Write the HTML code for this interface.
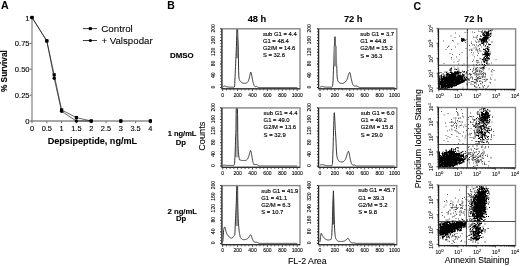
<!DOCTYPE html>
<html><head><meta charset="utf-8"><style>
html,body{margin:0;padding:0;background:#fff;overflow:hidden;}
svg{display:block;font-family:"Liberation Sans", sans-serif;filter:blur(0.3px);}
</style></head><body>
<svg width="520" height="266" viewBox="0 0 520 266">
<rect width="520" height="266" fill="#fff"/>
<text x="0.9" y="9.4" font-size="10.6" font-weight="bold" fill="#000" stroke="#000" stroke-width="0.08">A</text>
<line x1="32" y1="17" x2="32" y2="121.6" stroke="#8a8a8a" stroke-width="1.3"/>
<line x1="31.4" y1="121" x2="151.5" y2="121" stroke="#8a8a8a" stroke-width="1.3"/>
<line x1="29.8" y1="121.0" x2="31.5" y2="121.0" stroke="#333" stroke-width="0.8"/>
<text x="29.6" y="124.1" font-size="7.6" text-anchor="end" fill="#000" stroke="#000" stroke-width="0.12">0</text>
<line x1="29.8" y1="95.125" x2="31.5" y2="95.125" stroke="#333" stroke-width="0.8"/>
<text x="29.6" y="98.225" font-size="7.6" text-anchor="end" fill="#000" stroke="#000" stroke-width="0.12">0.25</text>
<line x1="29.8" y1="69.25" x2="31.5" y2="69.25" stroke="#333" stroke-width="0.8"/>
<text x="29.6" y="72.35" font-size="7.6" text-anchor="end" fill="#000" stroke="#000" stroke-width="0.12">0.50</text>
<line x1="29.8" y1="43.375" x2="31.5" y2="43.375" stroke="#333" stroke-width="0.8"/>
<text x="29.6" y="46.475" font-size="7.6" text-anchor="end" fill="#000" stroke="#000" stroke-width="0.12">0.75</text>
<line x1="29.8" y1="17.5" x2="31.5" y2="17.5" stroke="#333" stroke-width="0.8"/>
<text x="29.6" y="20.6" font-size="7.6" text-anchor="end" fill="#000" stroke="#000" stroke-width="0.12">1</text>
<line x1="32.0" y1="121.6" x2="32.0" y2="123.2" stroke="#333" stroke-width="0.8"/>
<text x="32.0" y="130.7" font-size="7.4" text-anchor="middle" fill="#000" stroke="#000" stroke-width="0.12">0</text>
<line x1="46.8" y1="121.6" x2="46.8" y2="123.2" stroke="#333" stroke-width="0.8"/>
<text x="46.8" y="130.7" font-size="7.4" text-anchor="middle" fill="#000" stroke="#000" stroke-width="0.12">0.5</text>
<line x1="61.6" y1="121.6" x2="61.6" y2="123.2" stroke="#333" stroke-width="0.8"/>
<text x="61.6" y="130.7" font-size="7.4" text-anchor="middle" fill="#000" stroke="#000" stroke-width="0.12">1</text>
<line x1="76.4" y1="121.6" x2="76.4" y2="123.2" stroke="#333" stroke-width="0.8"/>
<text x="76.4" y="130.7" font-size="7.4" text-anchor="middle" fill="#000" stroke="#000" stroke-width="0.12">1.5</text>
<line x1="91.2" y1="121.6" x2="91.2" y2="123.2" stroke="#333" stroke-width="0.8"/>
<text x="91.2" y="130.7" font-size="7.4" text-anchor="middle" fill="#000" stroke="#000" stroke-width="0.12">2</text>
<line x1="106.0" y1="121.6" x2="106.0" y2="123.2" stroke="#333" stroke-width="0.8"/>
<text x="106.0" y="130.7" font-size="7.4" text-anchor="middle" fill="#000" stroke="#000" stroke-width="0.12">2.5</text>
<line x1="120.80000000000001" y1="121.6" x2="120.80000000000001" y2="123.2" stroke="#333" stroke-width="0.8"/>
<text x="120.80000000000001" y="130.7" font-size="7.4" text-anchor="middle" fill="#000" stroke="#000" stroke-width="0.12">3</text>
<line x1="135.60000000000002" y1="121.6" x2="135.60000000000002" y2="123.2" stroke="#333" stroke-width="0.8"/>
<text x="135.60000000000002" y="130.7" font-size="7.4" text-anchor="middle" fill="#000" stroke="#000" stroke-width="0.12">3.5</text>
<line x1="150.4" y1="121.6" x2="150.4" y2="123.2" stroke="#333" stroke-width="0.8"/>
<text x="150.4" y="130.7" font-size="7.4" text-anchor="middle" fill="#000" stroke="#000" stroke-width="0.12">4</text>
<text x="92.4" y="144.4" font-size="9.1" font-weight="bold" text-anchor="middle" fill="#000" stroke="#000" stroke-width="0.08">Depsipeptide, ng/mL</text>
<text x="6.8" y="71.1" font-size="8.3" font-weight="bold" text-anchor="middle" transform="rotate(-90 6.8 71.1)" fill="#000" stroke="#000" stroke-width="0.12">% Survival</text>
<polyline points="32,17.5 46.8,40.89 54.2,74.84 61.6,109.93 76.4,117.58 91.2,121" fill="none" stroke="#000" stroke-width="0.6"/>
<polyline points="32,17.5 46.8,40.89 54.2,78.25 61.6,111.37 76.4,121 91.2,121" fill="none" stroke="#000" stroke-width="0.6"/>
<rect x="30.4" y="15.9" width="3.2" height="3.2" fill="#000"/>
<rect x="45.2" y="39.29" width="3.2" height="3.2" fill="#000"/>
<rect x="52.6" y="73.24" width="3.2" height="3.2" fill="#000"/>
<rect x="60" y="108.33" width="3.2" height="3.2" fill="#000"/>
<rect x="74.8" y="115.98" width="3.2" height="3.2" fill="#000"/>
<rect x="89.6" y="119.4" width="3.2" height="3.2" fill="#000"/>
<rect x="119.2" y="119.4" width="3.2" height="3.2" fill="#000"/>
<rect x="148.8" y="119.4" width="3.2" height="3.2" fill="#000"/>
<circle cx="32" cy="17.5" r="1.7" fill="#000"/>
<circle cx="46.8" cy="40.89" r="1.7" fill="#000"/>
<circle cx="54.2" cy="78.25" r="1.7" fill="#000"/>
<circle cx="61.6" cy="111.37" r="1.7" fill="#000"/>
<circle cx="76.4" cy="121" r="1.7" fill="#000"/>
<circle cx="91.2" cy="121" r="1.7" fill="#000"/>
<circle cx="120.8" cy="121" r="1.7" fill="#000"/>
<circle cx="150.4" cy="121" r="1.7" fill="#000"/>
<line x1="82.9" y1="28.6" x2="97.0" y2="28.6" stroke="#000" stroke-width="0.75"/>
<rect x="88.8" y="27.1" width="3" height="3" fill="#000"/>
<line x1="82.9" y1="40.5" x2="97.0" y2="40.5" stroke="#000" stroke-width="0.75"/>
<circle cx="90.3" cy="40.5" r="1.6" fill="#000"/>
<text x="101.2" y="32.4" font-size="9.8" fill="#000" stroke="#000" stroke-width="0.08">Control</text>
<text x="101.4" y="43.7" font-size="9.7" fill="#000" stroke="#000" stroke-width="0.08">+ Valspodar</text>
<text x="167.3" y="9.4" font-size="10.4" font-weight="bold" fill="#000" stroke="#000" stroke-width="0.08">B</text>
<text x="257" y="21.6" font-size="9.3" font-weight="bold" text-anchor="middle" fill="#000" stroke="#000" stroke-width="0.08">48 h</text>
<text x="353.2" y="21.9" font-size="9.3" font-weight="bold" text-anchor="middle" fill="#000" stroke="#000" stroke-width="0.08">72 h</text>
<text x="181.8" y="57.6" font-size="7.9" font-weight="bold" text-anchor="middle" fill="#000" stroke="#000" stroke-width="0.12">DMSO</text>
<text x="182.05" y="136.4" font-size="7.5" font-weight="bold" text-anchor="middle" fill="#000" stroke="#000" stroke-width="0.12">1 ng/mL</text>
<text x="180.8" y="144.6" font-size="7.7" font-weight="bold" text-anchor="middle" fill="#000" stroke="#000" stroke-width="0.12">Dp</text>
<text x="182.3" y="213.5" font-size="7.7" font-weight="bold" text-anchor="middle" fill="#000" stroke="#000" stroke-width="0.12">2 ng/mL</text>
<text x="181.2" y="221.2" font-size="7.7" font-weight="bold" text-anchor="middle" fill="#000" stroke="#000" stroke-width="0.12">Dp</text>
<text x="205.1" y="136.2" font-size="9.2" text-anchor="middle" transform="rotate(-90 205.1 136.2)" fill="#000" stroke="#000" stroke-width="0.08">Counts</text>
<text x="307.3" y="264" font-size="8.8" text-anchor="middle" fill="#000" stroke="#000" stroke-width="0.08">FL-2 Area</text>
<text x="212.7" y="87" font-size="5" text-anchor="middle" transform="rotate(-90 212.7 87)" fill="#000" stroke="#000" stroke-width="0.1" dominant-baseline="central">0</text>
<line x1="220.1" y1="87.5" x2="221.9" y2="87.5" stroke="#000" stroke-width="0.6"/>
<text x="212.7" y="75.26" font-size="5" text-anchor="middle" transform="rotate(-90 212.7 75.26)" fill="#000" stroke="#000" stroke-width="0.1" dominant-baseline="central">40</text>
<line x1="220.1" y1="75.76" x2="221.9" y2="75.76" stroke="#000" stroke-width="0.6"/>
<text x="212.7" y="63.52" font-size="5" text-anchor="middle" transform="rotate(-90 212.7 63.52)" fill="#000" stroke="#000" stroke-width="0.1" dominant-baseline="central">80</text>
<line x1="220.1" y1="64.02" x2="221.9" y2="64.02" stroke="#000" stroke-width="0.6"/>
<text x="212.7" y="51.78" font-size="5" text-anchor="middle" transform="rotate(-90 212.7 51.78)" fill="#000" stroke="#000" stroke-width="0.1" dominant-baseline="central">120</text>
<line x1="220.1" y1="52.28" x2="221.9" y2="52.28" stroke="#000" stroke-width="0.6"/>
<text x="212.7" y="40.04" font-size="5" text-anchor="middle" transform="rotate(-90 212.7 40.04)" fill="#000" stroke="#000" stroke-width="0.1" dominant-baseline="central">160</text>
<line x1="220.1" y1="40.54" x2="221.9" y2="40.54" stroke="#000" stroke-width="0.6"/>
<text x="212.7" y="28.3" font-size="5" text-anchor="middle" transform="rotate(-90 212.7 28.3)" fill="#000" stroke="#000" stroke-width="0.1" dominant-baseline="central">200</text>
<line x1="220.1" y1="28.799999999999997" x2="221.9" y2="28.799999999999997" stroke="#000" stroke-width="0.6"/>
<line x1="220.3" y1="87.5" x2="221.9" y2="87.5" stroke="#000" stroke-width="0.7"/>
<line x1="220.3" y1="84.565" x2="221.9" y2="84.565" stroke="#000" stroke-width="0.7"/>
<line x1="220.3" y1="81.63" x2="221.9" y2="81.63" stroke="#000" stroke-width="0.7"/>
<line x1="220.3" y1="78.695" x2="221.9" y2="78.695" stroke="#000" stroke-width="0.7"/>
<line x1="220.3" y1="75.76" x2="221.9" y2="75.76" stroke="#000" stroke-width="0.7"/>
<line x1="220.3" y1="72.825" x2="221.9" y2="72.825" stroke="#000" stroke-width="0.7"/>
<line x1="220.3" y1="69.89" x2="221.9" y2="69.89" stroke="#000" stroke-width="0.7"/>
<line x1="220.3" y1="66.955" x2="221.9" y2="66.955" stroke="#000" stroke-width="0.7"/>
<line x1="220.3" y1="64.02" x2="221.9" y2="64.02" stroke="#000" stroke-width="0.7"/>
<line x1="220.3" y1="61.085" x2="221.9" y2="61.085" stroke="#000" stroke-width="0.7"/>
<line x1="220.3" y1="58.15" x2="221.9" y2="58.15" stroke="#000" stroke-width="0.7"/>
<line x1="220.3" y1="55.215" x2="221.9" y2="55.215" stroke="#000" stroke-width="0.7"/>
<line x1="220.3" y1="52.28" x2="221.9" y2="52.28" stroke="#000" stroke-width="0.7"/>
<line x1="220.3" y1="49.345" x2="221.9" y2="49.345" stroke="#000" stroke-width="0.7"/>
<line x1="220.3" y1="46.41" x2="221.9" y2="46.41" stroke="#000" stroke-width="0.7"/>
<line x1="220.3" y1="43.475" x2="221.9" y2="43.475" stroke="#000" stroke-width="0.7"/>
<line x1="220.3" y1="40.54" x2="221.9" y2="40.54" stroke="#000" stroke-width="0.7"/>
<line x1="220.3" y1="37.605" x2="221.9" y2="37.605" stroke="#000" stroke-width="0.7"/>
<line x1="220.3" y1="34.67" x2="221.9" y2="34.67" stroke="#000" stroke-width="0.7"/>
<line x1="220.3" y1="31.735" x2="221.9" y2="31.735" stroke="#000" stroke-width="0.7"/>
<line x1="220.3" y1="28.799999999999997" x2="221.9" y2="28.799999999999997" stroke="#000" stroke-width="0.7"/>
<text x="222.7" y="96.5" font-size="5" text-anchor="middle" fill="#000" stroke="#000" stroke-width="0.1">0</text>
<text x="237.6" y="96.5" font-size="5" text-anchor="middle" fill="#000" stroke="#000" stroke-width="0.1">200</text>
<text x="252.5" y="96.5" font-size="5" text-anchor="middle" fill="#000" stroke="#000" stroke-width="0.1">400</text>
<text x="267.4" y="96.5" font-size="5" text-anchor="middle" fill="#000" stroke="#000" stroke-width="0.1">600</text>
<text x="282.3" y="96.5" font-size="5" text-anchor="middle" fill="#000" stroke="#000" stroke-width="0.1">800</text>
<text x="297.2" y="96.5" font-size="5" text-anchor="middle" fill="#000" stroke="#000" stroke-width="0.1">1000</text>
<line x1="222.7" y1="88.8" x2="222.7" y2="91.0" stroke="#000" stroke-width="0.7"/>
<line x1="226.42499999999998" y1="88.8" x2="226.42499999999998" y2="90.39999999999999" stroke="#000" stroke-width="0.7"/>
<line x1="230.14999999999998" y1="88.8" x2="230.14999999999998" y2="90.39999999999999" stroke="#000" stroke-width="0.7"/>
<line x1="233.875" y1="88.8" x2="233.875" y2="90.39999999999999" stroke="#000" stroke-width="0.7"/>
<line x1="237.6" y1="88.8" x2="237.6" y2="91.0" stroke="#000" stroke-width="0.7"/>
<line x1="241.325" y1="88.8" x2="241.325" y2="90.39999999999999" stroke="#000" stroke-width="0.7"/>
<line x1="245.04999999999998" y1="88.8" x2="245.04999999999998" y2="90.39999999999999" stroke="#000" stroke-width="0.7"/>
<line x1="248.77499999999998" y1="88.8" x2="248.77499999999998" y2="90.39999999999999" stroke="#000" stroke-width="0.7"/>
<line x1="252.5" y1="88.8" x2="252.5" y2="91.0" stroke="#000" stroke-width="0.7"/>
<line x1="256.22499999999997" y1="88.8" x2="256.22499999999997" y2="90.39999999999999" stroke="#000" stroke-width="0.7"/>
<line x1="259.95" y1="88.8" x2="259.95" y2="90.39999999999999" stroke="#000" stroke-width="0.7"/>
<line x1="263.675" y1="88.8" x2="263.675" y2="90.39999999999999" stroke="#000" stroke-width="0.7"/>
<line x1="267.4" y1="88.8" x2="267.4" y2="91.0" stroke="#000" stroke-width="0.7"/>
<line x1="271.125" y1="88.8" x2="271.125" y2="90.39999999999999" stroke="#000" stroke-width="0.7"/>
<line x1="274.84999999999997" y1="88.8" x2="274.84999999999997" y2="90.39999999999999" stroke="#000" stroke-width="0.7"/>
<line x1="278.575" y1="88.8" x2="278.575" y2="90.39999999999999" stroke="#000" stroke-width="0.7"/>
<line x1="282.29999999999995" y1="88.8" x2="282.29999999999995" y2="91.0" stroke="#000" stroke-width="0.7"/>
<line x1="286.025" y1="88.8" x2="286.025" y2="90.39999999999999" stroke="#000" stroke-width="0.7"/>
<line x1="289.75" y1="88.8" x2="289.75" y2="90.39999999999999" stroke="#000" stroke-width="0.7"/>
<line x1="293.47499999999997" y1="88.8" x2="293.47499999999997" y2="90.39999999999999" stroke="#000" stroke-width="0.7"/>
<line x1="297.2" y1="88.8" x2="297.2" y2="91.0" stroke="#000" stroke-width="0.7"/>
<polygon points="235.92,57.31 235.96,56.47 236,55.63 236.04,54.8 236.07,53.96 236.11,53.12 236.15,52.28 236.18,51.44 236.22,50.6 236.26,49.76 236.3,48.93 236.33,48.09 236.37,47.25 236.41,46.41 236.45,44.94 236.48,43.48 236.52,42.01 236.56,40.54 236.59,39.07 236.63,37.6 236.67,37.6 236.71,37.6 236.74,37.6 236.78,37.6 236.82,37.6 236.85,37.6 236.89,37.6 236.93,37.6 236.97,37.6 237,37.6 237.04,37.6 237.08,37.6 237.12,37.6 237.15,37.6 237.19,37.6 237.23,37.6 237.26,37.6 237.3,37.6 237.34,37.6 237.38,37.6 237.41,37.6 237.45,37.6 237.49,37.6 237.53,37.6 237.56,37.6 237.6,37.6 237.64,37.6 237.67,37.6 237.71,37.6 237.75,37.6 237.79,37.6 237.82,37.6 237.86,37.6 237.9,38.19 237.94,39.37 237.97,40.54 238.01,41.27 238.05,42.01 238.08,42.74 238.12,43.48 238.16,44.21 238.2,44.94 238.23,45.68 238.27,46.41 238.31,49.34 238.34,52.28 238.38,55.22 238.38,58.15 235.92,58.15" fill="#999"/>
<polyline points="222.7,87.21 222.85,87.03 223,86.85 223.15,86.68 223.3,86.5 223.44,86.33 223.59,86.3 223.74,86.27 223.89,86.24 224.04,86.21 224.19,86.18 224.34,86.15 224.49,86.12 224.64,86.09 224.79,86.06 224.94,86.03 225.08,86.09 225.23,86.15 225.38,86.21 225.53,86.27 225.68,86.33 225.83,86.38 225.98,86.44 226.13,86.5 226.28,86.56 226.42,86.62 226.57,86.68 226.72,86.74 226.87,86.8 227.02,86.85 227.17,86.91 227.32,86.93 227.47,86.94 227.62,86.96 227.77,86.97 227.91,86.99 228.06,87 228.21,87.02 228.36,87.03 228.51,87.05 228.66,87.06 228.81,87.07 228.96,87.09 229.11,87.1 229.26,87.12 229.41,87.13 229.55,87.15 229.7,87.16 229.85,87.18 230,87.19 230.15,87.21 230.3,87.21 230.45,87.21 230.6,87.21 230.75,87.21 230.89,87.21 231.04,87.21 231.19,87.21 231.34,87.21 231.49,87.21 231.64,87.21 231.79,87.21 231.94,87.21 232.09,87.21 232.24,87.21 232.38,87.21 232.53,87.21 232.68,87.21 232.83,87.21 232.98,87.21 233.13,87.21 233.28,87.21 233.43,87.21 233.58,87.21 233.73,87.21 233.88,87.21 234.02,87.13 234.17,87.06 234.32,86.99 234.47,86.91 234.62,85.74 234.77,83.46 234.92,80.06 235.07,76.67 235.22,73.28 235.36,69.89 235.51,66.54 235.66,63.18 235.81,59.83 235.96,56.47 236.11,53.12 236.26,49.76 236.41,46.41 236.56,40.54 236.71,34.67 236.85,29.1 237,29.1 237.15,29.1 237.3,29.1 237.45,29.1 237.6,29.1 237.75,33.5 237.9,38.19 238.05,42.01 238.2,44.94 238.34,52.28 238.49,64.02 238.64,70.87 238.79,75.17 238.94,76.93 239.09,78.69 239.24,79.14 239.39,79.58 239.54,80.02 239.69,80.46 239.83,80.65 239.98,80.85 240.13,81.04 240.28,81.24 240.43,81.43 240.58,81.63 240.73,81.74 240.88,81.85 241.03,81.96 241.18,82.07 241.32,82.18 241.47,82.29 241.62,82.4 241.77,82.51 241.92,82.59 242.07,82.68 242.22,82.76 242.37,82.85 242.52,82.93 242.67,83.01 242.81,83.1 242.96,83.12 243.11,83.14 243.26,83.16 243.41,83.18 243.56,83.2 243.71,83.22 243.86,83.24 244.01,83.26 244.16,83.28 244.3,83.3 244.45,83.32 244.6,83.34 244.75,83.36 244.9,83.38 245.05,83.38 245.2,83.35 245.35,83.32 245.5,83.29 245.65,83.27 245.79,83.24 245.94,83.21 246.09,83.18 246.24,83.15 246.39,83.13 246.54,83.1 246.69,82.95 246.84,82.8 246.99,82.66 247.14,82.51 247.28,82.36 247.43,82.22 247.58,82.07 247.73,81.92 247.88,81.78 248.03,81.63 248.18,81.24 248.33,80.85 248.48,80.46 248.63,80.06 248.77,79.67 248.92,79.28 249.07,78.89 249.22,78.34 249.37,77.64 249.52,76.93 249.67,76.23 249.82,75.53 249.97,74.84 250.12,74.17 250.26,73.5 250.41,72.83 250.56,72.47 250.71,72.12 250.86,72.09 251.01,72.38 251.16,72.68 251.31,73.22 251.46,74 251.61,74.78 251.75,75.56 251.9,76.35 252.05,77.16 252.2,77.97 252.35,78.79 252.5,79.6 252.65,80.41 252.8,81.22 252.95,81.86 253.1,82.33 253.24,82.8 253.39,83.27 253.54,83.74 253.69,84.21 253.84,84.68 253.99,85.15 254.14,85.33 254.29,85.5 254.44,85.68 254.59,85.86 254.73,86.03 254.88,86.21 255.03,86.38 255.18,86.56 255.33,86.74 255.48,86.91 255.63,86.82 255.78,86.72 255.93,86.62 256.08,86.52 256.22,86.42 256.37,86.33 256.52,86.38 256.67,86.44 256.82,86.5 256.97,86.56 257.12,86.62 257.27,86.75 257.42,86.89 257.57,87.03 257.71,87.16 257.86,87.3 258.01,87.43 258.16,87.5 258.31,87.5 258.46,87.5 258.61,87.5 258.76,87.5 258.91,87.5 259.06,87.5 259.2,87.5 259.35,87.5 259.5,87.5 259.65,87.5 259.8,87.5 259.95,87.5 260.1,87.5 260.25,87.5 260.4,87.5 260.55,87.5 260.69,87.5 260.84,87.5 260.99,87.5 261.14,87.5 261.29,87.5 261.44,87.5 261.59,87.5 261.74,87.5 261.89,87.5 262.04,87.5 262.19,87.5 262.33,87.5 262.48,87.5 262.63,87.5 262.78,87.5 262.93,87.5 263.08,87.5 263.23,87.5 263.38,87.5 263.53,87.5 263.68,87.5 263.82,87.5 263.97,87.5 264.12,87.5 264.27,87.5 264.42,87.5 264.57,87.5 264.72,87.5 264.87,87.5 265.02,87.5 265.16,87.5 265.31,87.5 265.46,87.5 265.61,87.5 265.76,87.5 265.91,87.5 266.06,87.5 266.21,87.5 266.36,87.5 266.51,87.5 266.65,87.5 266.8,87.5 266.95,87.5 267.1,87.5 267.25,87.5 267.4,87.5 267.55,87.5 267.7,87.5 267.85,87.5 268,87.5 268.14,87.5 268.29,87.5 268.44,87.5 268.59,87.5 268.74,87.5 268.89,87.5 269.04,87.5 269.19,87.5 269.34,87.5 269.49,87.5 269.63,87.5 269.78,87.5 269.93,87.5 270.08,87.5 270.23,87.5 270.38,87.5 270.53,87.5 270.68,87.5 270.83,87.5 270.98,87.5 271.12,87.5 271.27,87.5 271.42,87.5 271.57,87.5 271.72,87.5 271.87,87.5 272.02,87.5 272.17,87.5 272.32,87.5 272.47,87.5 272.62,87.5 272.76,87.5 272.91,87.5 273.06,87.5 273.21,87.5 273.36,87.5 273.51,87.5 273.66,87.5 273.81,87.5 273.96,87.5 274.11,87.5 274.25,87.5 274.4,87.5 274.55,87.5 274.7,87.5 274.85,87.5 275,87.5 275.15,87.5 275.3,87.5 275.45,87.5 275.59,87.5 275.74,87.5 275.89,87.5 276.04,87.5 276.19,87.5 276.34,87.5 276.49,87.5 276.64,87.5 276.79,87.5 276.94,87.5 277.08,87.5 277.23,87.5 277.38,87.5 277.53,87.5 277.68,87.5 277.83,87.5 277.98,87.5 278.13,87.5 278.28,87.5 278.43,87.5 278.57,87.5 278.72,87.5 278.87,87.5 279.02,87.5 279.17,87.5 279.32,87.5 279.47,87.5 279.62,87.5 279.77,87.5 279.92,87.5 280.06,87.5 280.21,87.5 280.36,87.5 280.51,87.5 280.66,87.5 280.81,87.5 280.96,87.5 281.11,87.5 281.26,87.5 281.41,87.5 281.56,87.5 281.7,87.5 281.85,87.5 282,87.5 282.15,87.5 282.3,87.5 282.45,87.5 282.6,87.5 282.75,87.5 282.9,87.5 283.04,87.5 283.19,87.5 283.34,87.5 283.49,87.5 283.64,87.5 283.79,87.5 283.94,87.5 284.09,87.5 284.24,87.5 284.39,87.5 284.53,87.5 284.68,87.5 284.83,87.5 284.98,87.5 285.13,87.5 285.28,87.5 285.43,87.5 285.58,87.5 285.73,87.5 285.88,87.5 286.02,87.5 286.17,87.5 286.32,87.5 286.47,87.5 286.62,87.5 286.77,87.5 286.92,87.5 287.07,87.5 287.22,87.5 287.37,87.5 287.51,87.5 287.66,87.5 287.81,87.5 287.96,87.5 288.11,87.5 288.26,87.5 288.41,87.5 288.56,87.5 288.71,87.5 288.86,87.5 289,87.5 289.15,87.5 289.3,87.5 289.45,87.5 289.6,87.5 289.75,87.5 289.9,87.5 290.05,87.5 290.2,87.5 290.35,87.5 290.5,87.5 290.64,87.5 290.79,87.5 290.94,87.5 291.09,87.5 291.24,87.5 291.39,87.5 291.54,87.5 291.69,87.5 291.84,87.5 291.99,87.5 292.13,87.5 292.28,87.5 292.43,87.5 292.58,87.5 292.73,87.5 292.88,87.5 293.03,87.5 293.18,87.5 293.33,87.5 293.47,87.5 293.62,87.5 293.77,87.5 293.92,87.5 294.07,87.5 294.22,87.5 294.37,87.5 294.52,87.5 294.67,87.5 294.82,87.5 294.96,87.5 295.11,87.5 295.26,87.5 295.41,87.5 295.56,87.5 295.71,87.5 295.86,87.5 296.01,87.5 296.16,87.5 296.31,87.5 296.45,87.5 296.6,87.5 296.75,87.5 296.9,87.5 297.05,87.5 297.2,87.5" fill="none" stroke="#2a2a2a" stroke-width="0.95" stroke-linejoin="round"/>
<rect x="221.9" y="28.8" width="78.1" height="60" fill="none" stroke="#888" stroke-width="1.4"/>
<line x1="221.9" y1="28.8" x2="221.9" y2="88.8" stroke="#111" stroke-width="0.9"/>
<line x1="221.9" y1="88.8" x2="300.0" y2="88.8" stroke="#111" stroke-width="0.9"/>
<text transform="translate(262.9 35.7) scale(0.95 1)" font-size="6.2" fill="#000" stroke="#000" stroke-width="0.16">sub G1 = 4.4</text>
<text transform="translate(262.9 42.8) scale(0.95 1)" font-size="6.2" fill="#000" stroke="#000" stroke-width="0.16">G1 = 48.4</text>
<text transform="translate(262.9 49.9) scale(0.95 1)" font-size="6.2" fill="#000" stroke="#000" stroke-width="0.16">G2/M = 14.6</text>
<text transform="translate(262.9 57) scale(0.95 1)" font-size="6.2" fill="#000" stroke="#000" stroke-width="0.16">S = 32.6</text>
<text x="309.4" y="87" font-size="5" text-anchor="middle" transform="rotate(-90 309.4 87)" fill="#000" stroke="#000" stroke-width="0.1" dominant-baseline="central">0</text>
<line x1="316.8" y1="87.5" x2="318.6" y2="87.5" stroke="#000" stroke-width="0.6"/>
<text x="309.4" y="75.26" font-size="5" text-anchor="middle" transform="rotate(-90 309.4 75.26)" fill="#000" stroke="#000" stroke-width="0.1" dominant-baseline="central">40</text>
<line x1="316.8" y1="75.76" x2="318.6" y2="75.76" stroke="#000" stroke-width="0.6"/>
<text x="309.4" y="63.52" font-size="5" text-anchor="middle" transform="rotate(-90 309.4 63.52)" fill="#000" stroke="#000" stroke-width="0.1" dominant-baseline="central">80</text>
<line x1="316.8" y1="64.02" x2="318.6" y2="64.02" stroke="#000" stroke-width="0.6"/>
<text x="309.4" y="51.78" font-size="5" text-anchor="middle" transform="rotate(-90 309.4 51.78)" fill="#000" stroke="#000" stroke-width="0.1" dominant-baseline="central">120</text>
<line x1="316.8" y1="52.28" x2="318.6" y2="52.28" stroke="#000" stroke-width="0.6"/>
<text x="309.4" y="40.04" font-size="5" text-anchor="middle" transform="rotate(-90 309.4 40.04)" fill="#000" stroke="#000" stroke-width="0.1" dominant-baseline="central">160</text>
<line x1="316.8" y1="40.54" x2="318.6" y2="40.54" stroke="#000" stroke-width="0.6"/>
<text x="309.4" y="28.3" font-size="5" text-anchor="middle" transform="rotate(-90 309.4 28.3)" fill="#000" stroke="#000" stroke-width="0.1" dominant-baseline="central">200</text>
<line x1="316.8" y1="28.799999999999997" x2="318.6" y2="28.799999999999997" stroke="#000" stroke-width="0.6"/>
<line x1="317.0" y1="87.5" x2="318.6" y2="87.5" stroke="#000" stroke-width="0.7"/>
<line x1="317.0" y1="84.565" x2="318.6" y2="84.565" stroke="#000" stroke-width="0.7"/>
<line x1="317.0" y1="81.63" x2="318.6" y2="81.63" stroke="#000" stroke-width="0.7"/>
<line x1="317.0" y1="78.695" x2="318.6" y2="78.695" stroke="#000" stroke-width="0.7"/>
<line x1="317.0" y1="75.76" x2="318.6" y2="75.76" stroke="#000" stroke-width="0.7"/>
<line x1="317.0" y1="72.825" x2="318.6" y2="72.825" stroke="#000" stroke-width="0.7"/>
<line x1="317.0" y1="69.89" x2="318.6" y2="69.89" stroke="#000" stroke-width="0.7"/>
<line x1="317.0" y1="66.955" x2="318.6" y2="66.955" stroke="#000" stroke-width="0.7"/>
<line x1="317.0" y1="64.02" x2="318.6" y2="64.02" stroke="#000" stroke-width="0.7"/>
<line x1="317.0" y1="61.085" x2="318.6" y2="61.085" stroke="#000" stroke-width="0.7"/>
<line x1="317.0" y1="58.15" x2="318.6" y2="58.15" stroke="#000" stroke-width="0.7"/>
<line x1="317.0" y1="55.215" x2="318.6" y2="55.215" stroke="#000" stroke-width="0.7"/>
<line x1="317.0" y1="52.28" x2="318.6" y2="52.28" stroke="#000" stroke-width="0.7"/>
<line x1="317.0" y1="49.345" x2="318.6" y2="49.345" stroke="#000" stroke-width="0.7"/>
<line x1="317.0" y1="46.41" x2="318.6" y2="46.41" stroke="#000" stroke-width="0.7"/>
<line x1="317.0" y1="43.475" x2="318.6" y2="43.475" stroke="#000" stroke-width="0.7"/>
<line x1="317.0" y1="40.54" x2="318.6" y2="40.54" stroke="#000" stroke-width="0.7"/>
<line x1="317.0" y1="37.605" x2="318.6" y2="37.605" stroke="#000" stroke-width="0.7"/>
<line x1="317.0" y1="34.67" x2="318.6" y2="34.67" stroke="#000" stroke-width="0.7"/>
<line x1="317.0" y1="31.735" x2="318.6" y2="31.735" stroke="#000" stroke-width="0.7"/>
<line x1="317.0" y1="28.799999999999997" x2="318.6" y2="28.799999999999997" stroke="#000" stroke-width="0.7"/>
<text x="320" y="96.5" font-size="5" text-anchor="middle" fill="#000" stroke="#000" stroke-width="0.1">0</text>
<text x="334.9" y="96.5" font-size="5" text-anchor="middle" fill="#000" stroke="#000" stroke-width="0.1">200</text>
<text x="349.8" y="96.5" font-size="5" text-anchor="middle" fill="#000" stroke="#000" stroke-width="0.1">400</text>
<text x="364.7" y="96.5" font-size="5" text-anchor="middle" fill="#000" stroke="#000" stroke-width="0.1">600</text>
<text x="379.6" y="96.5" font-size="5" text-anchor="middle" fill="#000" stroke="#000" stroke-width="0.1">800</text>
<text x="394.5" y="96.5" font-size="5" text-anchor="middle" fill="#000" stroke="#000" stroke-width="0.1">1000</text>
<line x1="320.0" y1="88.8" x2="320.0" y2="91.0" stroke="#000" stroke-width="0.7"/>
<line x1="323.725" y1="88.8" x2="323.725" y2="90.39999999999999" stroke="#000" stroke-width="0.7"/>
<line x1="327.45" y1="88.8" x2="327.45" y2="90.39999999999999" stroke="#000" stroke-width="0.7"/>
<line x1="331.175" y1="88.8" x2="331.175" y2="90.39999999999999" stroke="#000" stroke-width="0.7"/>
<line x1="334.9" y1="88.8" x2="334.9" y2="91.0" stroke="#000" stroke-width="0.7"/>
<line x1="338.625" y1="88.8" x2="338.625" y2="90.39999999999999" stroke="#000" stroke-width="0.7"/>
<line x1="342.35" y1="88.8" x2="342.35" y2="90.39999999999999" stroke="#000" stroke-width="0.7"/>
<line x1="346.075" y1="88.8" x2="346.075" y2="90.39999999999999" stroke="#000" stroke-width="0.7"/>
<line x1="349.8" y1="88.8" x2="349.8" y2="91.0" stroke="#000" stroke-width="0.7"/>
<line x1="353.525" y1="88.8" x2="353.525" y2="90.39999999999999" stroke="#000" stroke-width="0.7"/>
<line x1="357.25" y1="88.8" x2="357.25" y2="90.39999999999999" stroke="#000" stroke-width="0.7"/>
<line x1="360.975" y1="88.8" x2="360.975" y2="90.39999999999999" stroke="#000" stroke-width="0.7"/>
<line x1="364.7" y1="88.8" x2="364.7" y2="91.0" stroke="#000" stroke-width="0.7"/>
<line x1="368.425" y1="88.8" x2="368.425" y2="90.39999999999999" stroke="#000" stroke-width="0.7"/>
<line x1="372.15" y1="88.8" x2="372.15" y2="90.39999999999999" stroke="#000" stroke-width="0.7"/>
<line x1="375.875" y1="88.8" x2="375.875" y2="90.39999999999999" stroke="#000" stroke-width="0.7"/>
<line x1="379.6" y1="88.8" x2="379.6" y2="91.0" stroke="#000" stroke-width="0.7"/>
<line x1="383.325" y1="88.8" x2="383.325" y2="90.39999999999999" stroke="#000" stroke-width="0.7"/>
<line x1="387.05" y1="88.8" x2="387.05" y2="90.39999999999999" stroke="#000" stroke-width="0.7"/>
<line x1="390.775" y1="88.8" x2="390.775" y2="90.39999999999999" stroke="#000" stroke-width="0.7"/>
<line x1="394.5" y1="88.8" x2="394.5" y2="91.0" stroke="#000" stroke-width="0.7"/>
<polyline points="320,87.21 320.15,87.13 320.3,87.05 320.45,86.97 320.6,86.89 320.75,86.82 320.89,86.74 321.04,86.66 321.19,86.6 321.34,86.58 321.49,86.55 321.64,86.52 321.79,86.49 321.94,86.46 322.09,86.43 322.24,86.4 322.38,86.37 322.53,86.34 322.68,86.36 322.83,86.41 322.98,86.47 323.13,86.53 323.28,86.59 323.43,86.65 323.58,86.71 323.73,86.77 323.87,86.82 324.02,86.88 324.17,86.92 324.32,86.95 324.47,86.97 324.62,87 324.77,87.02 324.92,87.04 325.07,87.07 325.21,87.09 325.36,87.11 325.51,87.14 325.66,87.16 325.81,87.18 325.96,87.21 326.11,87.21 326.26,87.21 326.41,87.21 326.56,87.21 326.7,87.21 326.85,87.21 327,87.21 327.15,87.21 327.3,87.21 327.45,87.21 327.6,87.21 327.75,87.21 327.9,87.21 328.05,87.21 328.19,87.21 328.34,87.21 328.49,87.21 328.64,87.21 328.79,87.21 328.94,87.21 329.09,87.21 329.24,87.21 329.39,87.21 329.54,87.21 329.69,87.21 329.83,87.21 329.98,87.21 330.13,87.21 330.28,87.21 330.43,87.21 330.58,87.21 330.73,87.21 330.88,87.21 331.03,87.21 331.18,87.21 331.32,87.21 331.47,87.21 331.62,87.21 331.77,87.21 331.92,87.21 332.07,87.01 332.22,86.82 332.37,86.62 332.52,86.42 332.67,85.45 332.81,83.68 332.96,81.92 333.11,80.16 333.26,75.47 333.41,70.77 333.56,66.07 333.71,63.45 333.86,60.83 334.01,58.21 334.15,55.59 334.3,52.96 334.45,50.34 334.6,47.72 334.75,41.57 334.9,36.72 335.05,36.72 335.2,46.41 335.35,48.28 335.5,50.16 335.64,52.03 335.79,53.9 335.94,55.77 336.09,57.65 336.24,59.52 336.39,61.39 336.54,63.27 336.69,65.14 336.84,68.81 336.99,74.29 337.13,76.05 337.28,77.81 337.43,79.03 337.58,79.7 337.73,80.37 337.88,81.04 338.03,81.24 338.18,81.43 338.33,81.63 338.48,81.83 338.62,82.02 338.77,82.22 338.92,82.41 339.07,82.56 339.22,82.65 339.37,82.74 339.52,82.83 339.67,82.92 339.82,83.01 339.97,83.1 340.12,83.14 340.26,83.18 340.41,83.22 340.56,83.27 340.71,83.31 340.86,83.35 341.01,83.39 341.16,83.39 341.31,83.39 341.46,83.39 341.61,83.39 341.75,83.39 341.9,83.39 342.05,83.39 342.2,83.39 342.35,83.39 342.5,83.36 342.65,83.33 342.8,83.3 342.95,83.27 343.1,83.24 343.24,83.21 343.39,83.19 343.54,83.16 343.69,83.13 343.84,83.1 343.99,82.98 344.14,82.86 344.29,82.75 344.44,82.63 344.58,82.51 344.73,82.39 344.88,82.28 345.03,82.16 345.18,82.04 345.33,81.92 345.48,81.81 345.63,81.69 345.78,81.51 345.93,81.28 346.07,81.04 346.22,80.81 346.37,80.57 346.52,80.34 346.67,80.1 346.82,79.87 346.97,79.63 347.12,79.4 347.27,79.01 347.42,78.46 347.56,77.91 347.71,77.36 347.86,76.82 348.01,76.27 348.16,75.72 348.31,75.17 348.46,74.78 348.61,74.39 348.76,74 348.91,73.61 349.06,73.22 349.2,72.83 349.35,72.66 349.5,72.49 349.65,72.32 349.8,72.41 349.95,72.74 350.1,73.08 350.25,73.41 350.4,74.26 350.55,75.11 350.69,75.96 350.84,76.8 350.99,77.57 351.14,78.24 351.29,78.92 351.44,79.6 351.59,80.28 351.74,80.95 351.89,81.63 352.03,82.12 352.18,82.61 352.33,83.1 352.48,83.59 352.63,84.08 352.78,84.56 352.93,84.74 353.08,84.92 353.23,85.09 353.38,85.27 353.52,85.45 353.67,85.56 353.82,85.68 353.97,85.8 354.12,85.92 354.27,86.03 354.42,86.03 354.57,86.03 354.72,86.03 354.87,86.03 355.01,86.03 355.16,86.03 355.31,86.03 355.46,86.03 355.61,86.03 355.76,86.03 355.91,86.03 356.06,86.03 356.21,86.03 356.36,86.03 356.5,86.03 356.65,86.03 356.8,86.03 356.95,86.07 357.1,86.15 357.25,86.23 357.4,86.31 357.55,86.38 357.7,86.46 357.85,86.54 358,86.62 358.14,86.71 358.29,86.8 358.44,86.88 358.59,86.97 358.74,87.06 358.89,87.15 359.04,87.24 359.19,87.32 359.34,87.41 359.49,87.5 359.63,87.5 359.78,87.5 359.93,87.5 360.08,87.5 360.23,87.5 360.38,87.5 360.53,87.5 360.68,87.5 360.83,87.5 360.98,87.5 361.12,87.5 361.27,87.5 361.42,87.5 361.57,87.5 361.72,87.5 361.87,87.5 362.02,87.5 362.17,87.5 362.32,87.5 362.46,87.5 362.61,87.5 362.76,87.5 362.91,87.5 363.06,87.5 363.21,87.5 363.36,87.5 363.51,87.5 363.66,87.5 363.81,87.5 363.95,87.5 364.1,87.5 364.25,87.5 364.4,87.5 364.55,87.5 364.7,87.5 364.85,87.5 365,87.5 365.15,87.5 365.3,87.5 365.44,87.5 365.59,87.5 365.74,87.5 365.89,87.5 366.04,87.5 366.19,87.5 366.34,87.5 366.49,87.5 366.64,87.5 366.79,87.5 366.94,87.5 367.08,87.5 367.23,87.5 367.38,87.5 367.53,87.5 367.68,87.5 367.83,87.5 367.98,87.5 368.13,87.5 368.28,87.5 368.43,87.5 368.57,87.5 368.72,87.5 368.87,87.5 369.02,87.5 369.17,87.5 369.32,87.5 369.47,87.5 369.62,87.5 369.77,87.5 369.92,87.5 370.06,87.5 370.21,87.5 370.36,87.5 370.51,87.5 370.66,87.5 370.81,87.5 370.96,87.5 371.11,87.5 371.26,87.5 371.4,87.5 371.55,87.5 371.7,87.5 371.85,87.5 372,87.5 372.15,87.5 372.3,87.5 372.45,87.5 372.6,87.5 372.75,87.5 372.89,87.5 373.04,87.5 373.19,87.5 373.34,87.5 373.49,87.5 373.64,87.5 373.79,87.5 373.94,87.5 374.09,87.5 374.24,87.5 374.38,87.5 374.53,87.5 374.68,87.5 374.83,87.5 374.98,87.5 375.13,87.5 375.28,87.5 375.43,87.5 375.58,87.5 375.73,87.5 375.88,87.5 376.02,87.5 376.17,87.5 376.32,87.5 376.47,87.5 376.62,87.5 376.77,87.5 376.92,87.5 377.07,87.5 377.22,87.5 377.37,87.5 377.51,87.5 377.66,87.5 377.81,87.5 377.96,87.5 378.11,87.5 378.26,87.5 378.41,87.5 378.56,87.5 378.71,87.5 378.86,87.5 379,87.5 379.15,87.5 379.3,87.5 379.45,87.5 379.6,87.5 379.75,87.5 379.9,87.5 380.05,87.5 380.2,87.5 380.35,87.5 380.49,87.5 380.64,87.5 380.79,87.5 380.94,87.5 381.09,87.5 381.24,87.5 381.39,87.5 381.54,87.5 381.69,87.5 381.83,87.5 381.98,87.5 382.13,87.5 382.28,87.5 382.43,87.5 382.58,87.5 382.73,87.5 382.88,87.5 383.03,87.5 383.18,87.5 383.32,87.5 383.47,87.5 383.62,87.5 383.77,87.5 383.92,87.5 384.07,87.5 384.22,87.5 384.37,87.5 384.52,87.5 384.67,87.5 384.81,87.5 384.96,87.5 385.11,87.5 385.26,87.5 385.41,87.5 385.56,87.5 385.71,87.5 385.86,87.5 386.01,87.5 386.16,87.5 386.31,87.5 386.45,87.5 386.6,87.5 386.75,87.5 386.9,87.5 387.05,87.5 387.2,87.5 387.35,87.5 387.5,87.5 387.65,87.5 387.8,87.5 387.94,87.5 388.09,87.5 388.24,87.5 388.39,87.5 388.54,87.5 388.69,87.5 388.84,87.5 388.99,87.5 389.14,87.5 389.28,87.5 389.43,87.5 389.58,87.5 389.73,87.5 389.88,87.5 390.03,87.5 390.18,87.5 390.33,87.5 390.48,87.5 390.63,87.5 390.77,87.5 390.92,87.5 391.07,87.5 391.22,87.5 391.37,87.5 391.52,87.5 391.67,87.5 391.82,87.5 391.97,87.5 392.12,87.5 392.26,87.5 392.41,87.5 392.56,87.5 392.71,87.5 392.86,87.5 393.01,87.5 393.16,87.5 393.31,87.5 393.46,87.5 393.61,87.5 393.75,87.5 393.9,87.5 394.05,87.5 394.2,87.5 394.35,87.5 394.5,87.5" fill="none" stroke="#2a2a2a" stroke-width="0.95" stroke-linejoin="round"/>
<rect x="333.48" y="45.82" width="3.35" height="20.54" fill="#8c8c8c"/>
<rect x="318.6" y="28.8" width="78.2" height="60" fill="none" stroke="#888" stroke-width="1.4"/>
<line x1="318.6" y1="28.8" x2="318.6" y2="88.8" stroke="#111" stroke-width="0.9"/>
<line x1="318.6" y1="88.8" x2="396.8" y2="88.8" stroke="#111" stroke-width="0.9"/>
<text transform="translate(360.3 36.2) scale(0.95 1)" font-size="6.2" fill="#000" stroke="#000" stroke-width="0.16">sub G1 = 3.7</text>
<text transform="translate(360.3 43.3) scale(0.95 1)" font-size="6.2" fill="#000" stroke="#000" stroke-width="0.16">G1 = 44.8</text>
<text transform="translate(360.3 50.4) scale(0.95 1)" font-size="6.2" fill="#000" stroke="#000" stroke-width="0.16">G2/M = 15.2</text>
<text transform="translate(360.3 57.5) scale(0.95 1)" font-size="6.2" fill="#000" stroke="#000" stroke-width="0.16">S = 36.3</text>
<text x="212.7" y="165.5" font-size="5" text-anchor="middle" transform="rotate(-90 212.7 165.5)" fill="#000" stroke="#000" stroke-width="0.1" dominant-baseline="central">0</text>
<line x1="220.1" y1="166.0" x2="221.9" y2="166.0" stroke="#000" stroke-width="0.6"/>
<text x="212.7" y="153.88" font-size="5" text-anchor="middle" transform="rotate(-90 212.7 153.88)" fill="#000" stroke="#000" stroke-width="0.1" dominant-baseline="central">40</text>
<line x1="220.1" y1="154.38" x2="221.9" y2="154.38" stroke="#000" stroke-width="0.6"/>
<text x="212.7" y="142.26" font-size="5" text-anchor="middle" transform="rotate(-90 212.7 142.26)" fill="#000" stroke="#000" stroke-width="0.1" dominant-baseline="central">80</text>
<line x1="220.1" y1="142.76" x2="221.9" y2="142.76" stroke="#000" stroke-width="0.6"/>
<text x="212.7" y="130.64" font-size="5" text-anchor="middle" transform="rotate(-90 212.7 130.64)" fill="#000" stroke="#000" stroke-width="0.1" dominant-baseline="central">120</text>
<line x1="220.1" y1="131.14000000000001" x2="221.9" y2="131.14000000000001" stroke="#000" stroke-width="0.6"/>
<text x="212.7" y="119.02" font-size="5" text-anchor="middle" transform="rotate(-90 212.7 119.02)" fill="#000" stroke="#000" stroke-width="0.1" dominant-baseline="central">160</text>
<line x1="220.1" y1="119.52000000000001" x2="221.9" y2="119.52000000000001" stroke="#000" stroke-width="0.6"/>
<text x="212.7" y="107.4" font-size="5" text-anchor="middle" transform="rotate(-90 212.7 107.4)" fill="#000" stroke="#000" stroke-width="0.1" dominant-baseline="central">200</text>
<line x1="220.1" y1="107.9" x2="221.9" y2="107.9" stroke="#000" stroke-width="0.6"/>
<line x1="220.3" y1="166.0" x2="221.9" y2="166.0" stroke="#000" stroke-width="0.7"/>
<line x1="220.3" y1="163.095" x2="221.9" y2="163.095" stroke="#000" stroke-width="0.7"/>
<line x1="220.3" y1="160.19" x2="221.9" y2="160.19" stroke="#000" stroke-width="0.7"/>
<line x1="220.3" y1="157.285" x2="221.9" y2="157.285" stroke="#000" stroke-width="0.7"/>
<line x1="220.3" y1="154.38" x2="221.9" y2="154.38" stroke="#000" stroke-width="0.7"/>
<line x1="220.3" y1="151.475" x2="221.9" y2="151.475" stroke="#000" stroke-width="0.7"/>
<line x1="220.3" y1="148.57" x2="221.9" y2="148.57" stroke="#000" stroke-width="0.7"/>
<line x1="220.3" y1="145.665" x2="221.9" y2="145.665" stroke="#000" stroke-width="0.7"/>
<line x1="220.3" y1="142.76" x2="221.9" y2="142.76" stroke="#000" stroke-width="0.7"/>
<line x1="220.3" y1="139.85500000000002" x2="221.9" y2="139.85500000000002" stroke="#000" stroke-width="0.7"/>
<line x1="220.3" y1="136.95" x2="221.9" y2="136.95" stroke="#000" stroke-width="0.7"/>
<line x1="220.3" y1="134.04500000000002" x2="221.9" y2="134.04500000000002" stroke="#000" stroke-width="0.7"/>
<line x1="220.3" y1="131.14000000000001" x2="221.9" y2="131.14000000000001" stroke="#000" stroke-width="0.7"/>
<line x1="220.3" y1="128.235" x2="221.9" y2="128.235" stroke="#000" stroke-width="0.7"/>
<line x1="220.3" y1="125.33000000000001" x2="221.9" y2="125.33000000000001" stroke="#000" stroke-width="0.7"/>
<line x1="220.3" y1="122.425" x2="221.9" y2="122.425" stroke="#000" stroke-width="0.7"/>
<line x1="220.3" y1="119.52000000000001" x2="221.9" y2="119.52000000000001" stroke="#000" stroke-width="0.7"/>
<line x1="220.3" y1="116.61500000000001" x2="221.9" y2="116.61500000000001" stroke="#000" stroke-width="0.7"/>
<line x1="220.3" y1="113.71000000000001" x2="221.9" y2="113.71000000000001" stroke="#000" stroke-width="0.7"/>
<line x1="220.3" y1="110.805" x2="221.9" y2="110.805" stroke="#000" stroke-width="0.7"/>
<line x1="220.3" y1="107.9" x2="221.9" y2="107.9" stroke="#000" stroke-width="0.7"/>
<text x="222.7" y="175" font-size="5" text-anchor="middle" fill="#000" stroke="#000" stroke-width="0.1">0</text>
<text x="237.6" y="175" font-size="5" text-anchor="middle" fill="#000" stroke="#000" stroke-width="0.1">200</text>
<text x="252.5" y="175" font-size="5" text-anchor="middle" fill="#000" stroke="#000" stroke-width="0.1">400</text>
<text x="267.4" y="175" font-size="5" text-anchor="middle" fill="#000" stroke="#000" stroke-width="0.1">600</text>
<text x="282.3" y="175" font-size="5" text-anchor="middle" fill="#000" stroke="#000" stroke-width="0.1">800</text>
<text x="297.2" y="175" font-size="5" text-anchor="middle" fill="#000" stroke="#000" stroke-width="0.1">1000</text>
<line x1="222.7" y1="167.3" x2="222.7" y2="169.5" stroke="#000" stroke-width="0.7"/>
<line x1="226.42499999999998" y1="167.3" x2="226.42499999999998" y2="168.9" stroke="#000" stroke-width="0.7"/>
<line x1="230.14999999999998" y1="167.3" x2="230.14999999999998" y2="168.9" stroke="#000" stroke-width="0.7"/>
<line x1="233.875" y1="167.3" x2="233.875" y2="168.9" stroke="#000" stroke-width="0.7"/>
<line x1="237.6" y1="167.3" x2="237.6" y2="169.5" stroke="#000" stroke-width="0.7"/>
<line x1="241.325" y1="167.3" x2="241.325" y2="168.9" stroke="#000" stroke-width="0.7"/>
<line x1="245.04999999999998" y1="167.3" x2="245.04999999999998" y2="168.9" stroke="#000" stroke-width="0.7"/>
<line x1="248.77499999999998" y1="167.3" x2="248.77499999999998" y2="168.9" stroke="#000" stroke-width="0.7"/>
<line x1="252.5" y1="167.3" x2="252.5" y2="169.5" stroke="#000" stroke-width="0.7"/>
<line x1="256.22499999999997" y1="167.3" x2="256.22499999999997" y2="168.9" stroke="#000" stroke-width="0.7"/>
<line x1="259.95" y1="167.3" x2="259.95" y2="168.9" stroke="#000" stroke-width="0.7"/>
<line x1="263.675" y1="167.3" x2="263.675" y2="168.9" stroke="#000" stroke-width="0.7"/>
<line x1="267.4" y1="167.3" x2="267.4" y2="169.5" stroke="#000" stroke-width="0.7"/>
<line x1="271.125" y1="167.3" x2="271.125" y2="168.9" stroke="#000" stroke-width="0.7"/>
<line x1="274.84999999999997" y1="167.3" x2="274.84999999999997" y2="168.9" stroke="#000" stroke-width="0.7"/>
<line x1="278.575" y1="167.3" x2="278.575" y2="168.9" stroke="#000" stroke-width="0.7"/>
<line x1="282.29999999999995" y1="167.3" x2="282.29999999999995" y2="169.5" stroke="#000" stroke-width="0.7"/>
<line x1="286.025" y1="167.3" x2="286.025" y2="168.9" stroke="#000" stroke-width="0.7"/>
<line x1="289.75" y1="167.3" x2="289.75" y2="168.9" stroke="#000" stroke-width="0.7"/>
<line x1="293.47499999999997" y1="167.3" x2="293.47499999999997" y2="168.9" stroke="#000" stroke-width="0.7"/>
<line x1="297.2" y1="167.3" x2="297.2" y2="169.5" stroke="#000" stroke-width="0.7"/>
<polygon points="234.96,156.56 234.99,155.83 235.03,155.11 235.07,154.38 235.1,153.29 235.14,152.2 235.18,151.11 235.22,150.02 235.25,148.93 235.29,147.84 235.33,146.75 235.36,145.66 235.4,144.58 235.44,143.49 235.48,142.4 235.51,141.31 235.55,140.22 235.59,139.13 235.63,138.04 235.66,136.95 235.7,136.08 235.74,135.21 235.77,134.34 235.81,133.46 235.85,132.59 235.89,131.72 235.92,130.85 235.96,129.98 236,129.11 236.04,128.24 236.07,121.34 236.11,114.44 236.15,107.9 236.18,107.9 236.22,107.9 236.26,107.9 236.3,107.9 236.33,107.9 236.37,107.9 236.41,107.9 236.45,107.9 236.48,107.9 236.52,107.9 236.56,107.9 236.59,107.9 236.63,107.9 236.67,107.9 236.71,107.9 236.74,107.9 236.78,107.9 236.82,107.9 236.85,107.9 236.89,107.9 236.93,107.9 236.97,107.9 237,107.9 237.04,107.9 237.08,107.9 237.12,107.9 237.15,107.9 237.19,107.9 237.23,107.9 237.26,107.9 237.3,107.9 237.34,107.9 237.38,107.9 237.41,107.9 237.45,107.9 237.49,107.9 237.53,107.9 237.56,107.9 237.6,114.44 237.64,121.34 237.67,128.24 237.71,130.41 237.75,132.59 237.79,134.77 237.82,136.95 237.86,138.4 237.9,139.86 237.94,141.31 237.97,142.76 238.01,144.21 238.05,145.66 238.08,146.39 238.12,147.12 238.16,147.84 238.2,148.57 238.23,149.3 238.27,150.02 238.31,150.75 238.34,151.47 238.38,151.83 238.42,152.18 238.46,152.53 238.49,152.89 238.53,153.24 238.57,153.59 238.61,153.94 238.64,154.3 238.68,154.65 238.72,155 238.75,155.36 238.79,155.71 238.83,156.06 238.87,156.41 238.9,156.63 238.94,156.85 238.98,157.07 238.98,157.28 234.96,157.28" fill="#b0b0b0"/>
<polyline points="222.7,165.42 222.85,165.39 223,165.36 223.15,165.33 223.3,165.3 223.44,165.27 223.59,165.24 223.74,165.22 223.89,165.19 224.04,165.16 224.19,165.13 224.34,165.15 224.49,165.17 224.64,165.19 224.79,165.21 224.94,165.23 225.08,165.24 225.23,165.26 225.38,165.28 225.53,165.3 225.68,165.32 225.83,165.34 225.98,165.36 226.13,165.38 226.28,165.4 226.42,165.42 226.57,165.42 226.72,165.42 226.87,165.42 227.02,165.42 227.17,165.42 227.32,165.42 227.47,165.42 227.62,165.42 227.77,165.42 227.91,165.42 228.06,165.42 228.21,165.42 228.36,165.42 228.51,165.42 228.66,165.42 228.81,165.42 228.96,165.42 229.11,165.42 229.26,165.42 229.41,165.42 229.55,165.42 229.7,165.42 229.85,165.42 230,165.42 230.15,165.42 230.3,165.42 230.45,165.42 230.6,165.42 230.75,165.42 230.89,165.42 231.04,165.42 231.19,165.42 231.34,165.42 231.49,165.42 231.64,165.42 231.79,165.42 231.94,165.42 232.09,165.42 232.24,165.42 232.38,165.42 232.53,165.42 232.68,165.42 232.83,165.42 232.98,165.42 233.13,165.42 233.28,165.42 233.43,165.42 233.58,165.42 233.73,165.42 233.88,165.42 234.02,165.13 234.17,164.84 234.32,164.55 234.47,163.82 234.62,163.09 234.77,160.19 234.92,157.28 235.07,154.38 235.22,150.02 235.36,145.66 235.51,141.31 235.66,136.95 235.81,133.46 235.96,129.98 236.11,114.44 236.26,108.2 236.41,108.2 236.56,108.2 236.71,108.2 236.85,108.2 237,108.2 237.15,108.2 237.3,108.2 237.45,108.2 237.6,114.44 237.75,132.59 237.9,139.86 238.05,145.66 238.2,148.57 238.34,151.47 238.49,152.89 238.64,154.3 238.79,155.71 238.94,156.85 239.09,157.72 239.24,158.59 239.39,159.46 239.54,159.92 239.69,159.95 239.83,159.98 239.98,160.02 240.13,160.05 240.28,160.08 240.43,160.12 240.58,160.15 240.73,160.18 240.88,160.21 241.03,160.25 241.18,160.28 241.32,160.31 241.47,160.35 241.62,160.38 241.77,160.41 241.92,160.45 242.07,160.48 242.22,160.48 242.37,160.48 242.52,160.48 242.67,160.48 242.81,160.48 242.96,160.48 243.11,160.48 243.26,160.48 243.41,160.48 243.56,160.48 243.71,160.48 243.86,160.48 244.01,160.48 244.16,160.48 244.3,160.48 244.45,160.48 244.6,160.48 244.75,160.48 244.9,160.48 245.05,160.48 245.2,160.48 245.35,160.48 245.5,160.48 245.65,160.48 245.79,160.48 245.94,160.48 246.09,160.41 246.24,160.28 246.39,160.15 246.54,160.02 246.69,159.89 246.84,159.75 246.99,159.62 247.14,159.49 247.28,159.36 247.43,159.23 247.58,159.09 247.73,158.85 247.88,158.51 248.03,158.16 248.18,157.81 248.33,157.46 248.48,157.11 248.63,156.76 248.77,156.41 248.92,155.83 249.07,155.25 249.22,154.67 249.37,154.09 249.52,153.51 249.67,152.93 249.82,152.53 249.97,152.12 250.12,151.72 250.26,151.32 250.41,150.92 250.56,150.51 250.71,150.57 250.86,151.1 251.01,151.62 251.16,152.14 251.31,152.67 251.46,153.42 251.61,154.41 251.75,155.4 251.9,156.38 252.05,157.37 252.2,158.27 252.35,159.09 252.5,159.9 252.65,160.71 252.8,161.53 252.95,162.14 253.1,162.56 253.24,162.97 253.39,163.39 253.54,163.8 253.69,164.22 253.84,164.63 253.99,164.81 254.14,164.76 254.29,164.71 254.44,164.65 254.59,164.6 254.73,164.55 254.88,164.55 255.03,164.55 255.18,164.55 255.33,164.55 255.48,164.55 255.63,164.55 255.78,164.55 255.93,164.55 256.08,164.55 256.22,164.55 256.37,164.58 256.52,164.61 256.67,164.63 256.82,164.66 256.97,164.69 257.12,164.72 257.27,164.75 257.42,164.78 257.57,164.81 257.71,164.84 257.86,164.99 258.01,165.15 258.16,165.3 258.31,165.46 258.46,165.61 258.61,165.77 258.76,165.92 258.91,166 259.06,166 259.2,166 259.35,166 259.5,166 259.65,166 259.8,166 259.95,166 260.1,166 260.25,166 260.4,166 260.55,166 260.69,166 260.84,166 260.99,166 261.14,166 261.29,166 261.44,166 261.59,166 261.74,166 261.89,166 262.04,166 262.19,166 262.33,166 262.48,166 262.63,166 262.78,166 262.93,166 263.08,166 263.23,166 263.38,166 263.53,166 263.68,166 263.82,166 263.97,166 264.12,166 264.27,166 264.42,166 264.57,166 264.72,166 264.87,166 265.02,166 265.16,166 265.31,166 265.46,166 265.61,166 265.76,166 265.91,166 266.06,166 266.21,166 266.36,166 266.51,166 266.65,166 266.8,166 266.95,166 267.1,166 267.25,166 267.4,166 267.55,166 267.7,166 267.85,166 268,166 268.14,166 268.29,166 268.44,166 268.59,166 268.74,166 268.89,166 269.04,166 269.19,166 269.34,166 269.49,166 269.63,166 269.78,166 269.93,166 270.08,166 270.23,166 270.38,166 270.53,166 270.68,166 270.83,166 270.98,166 271.12,166 271.27,166 271.42,166 271.57,166 271.72,166 271.87,166 272.02,166 272.17,166 272.32,166 272.47,166 272.62,166 272.76,166 272.91,166 273.06,166 273.21,166 273.36,166 273.51,166 273.66,166 273.81,166 273.96,166 274.11,166 274.25,166 274.4,166 274.55,166 274.7,166 274.85,166 275,166 275.15,166 275.3,166 275.45,166 275.59,166 275.74,166 275.89,166 276.04,166 276.19,166 276.34,166 276.49,166 276.64,166 276.79,166 276.94,166 277.08,166 277.23,166 277.38,166 277.53,166 277.68,166 277.83,166 277.98,166 278.13,166 278.28,166 278.43,166 278.57,166 278.72,166 278.87,166 279.02,166 279.17,166 279.32,166 279.47,166 279.62,166 279.77,166 279.92,166 280.06,166 280.21,166 280.36,166 280.51,166 280.66,166 280.81,166 280.96,166 281.11,166 281.26,166 281.41,166 281.56,166 281.7,166 281.85,166 282,166 282.15,166 282.3,166 282.45,166 282.6,166 282.75,166 282.9,166 283.04,166 283.19,166 283.34,166 283.49,166 283.64,166 283.79,166 283.94,166 284.09,166 284.24,166 284.39,166 284.53,166 284.68,166 284.83,166 284.98,166 285.13,166 285.28,166 285.43,166 285.58,166 285.73,166 285.88,166 286.02,166 286.17,166 286.32,166 286.47,166 286.62,166 286.77,166 286.92,166 287.07,166 287.22,166 287.37,166 287.51,166 287.66,166 287.81,166 287.96,166 288.11,166 288.26,166 288.41,166 288.56,166 288.71,166 288.86,166 289,166 289.15,166 289.3,166 289.45,166 289.6,166 289.75,166 289.9,166 290.05,166 290.2,166 290.35,166 290.5,166 290.64,166 290.79,166 290.94,166 291.09,166 291.24,166 291.39,166 291.54,166 291.69,166 291.84,166 291.99,166 292.13,166 292.28,166 292.43,166 292.58,166 292.73,166 292.88,166 293.03,166 293.18,166 293.33,166 293.47,166 293.62,166 293.77,166 293.92,166 294.07,166 294.22,166 294.37,166 294.52,166 294.67,166 294.82,166 294.96,166 295.11,166 295.26,166 295.41,166 295.56,166 295.71,166 295.86,166 296.01,166 296.16,166 296.31,166 296.45,166 296.6,166 296.75,166 296.9,166 297.05,166 297.2,166" fill="none" stroke="#2a2a2a" stroke-width="0.95" stroke-linejoin="round"/>
<rect x="221.9" y="107.9" width="78.1" height="59.4" fill="none" stroke="#888" stroke-width="1.4"/>
<line x1="221.9" y1="107.9" x2="221.9" y2="167.3" stroke="#111" stroke-width="0.9"/>
<line x1="221.9" y1="167.3" x2="300.0" y2="167.3" stroke="#111" stroke-width="0.9"/>
<text transform="translate(263.6 115.2) scale(0.95 1)" font-size="6.2" fill="#000" stroke="#000" stroke-width="0.16">sub G1 = 4.4</text>
<text transform="translate(263.6 122.3) scale(0.95 1)" font-size="6.2" fill="#000" stroke="#000" stroke-width="0.16">G1 = 49.0</text>
<text transform="translate(263.6 129.4) scale(0.95 1)" font-size="6.2" fill="#000" stroke="#000" stroke-width="0.16">G2/M = 13.6</text>
<text transform="translate(263.6 136.5) scale(0.95 1)" font-size="6.2" fill="#000" stroke="#000" stroke-width="0.16">S = 32.9</text>
<text x="309.4" y="165.5" font-size="5" text-anchor="middle" transform="rotate(-90 309.4 165.5)" fill="#000" stroke="#000" stroke-width="0.1" dominant-baseline="central">0</text>
<line x1="316.8" y1="166.0" x2="318.6" y2="166.0" stroke="#000" stroke-width="0.6"/>
<text x="309.4" y="153.88" font-size="5" text-anchor="middle" transform="rotate(-90 309.4 153.88)" fill="#000" stroke="#000" stroke-width="0.1" dominant-baseline="central">40</text>
<line x1="316.8" y1="154.38" x2="318.6" y2="154.38" stroke="#000" stroke-width="0.6"/>
<text x="309.4" y="142.26" font-size="5" text-anchor="middle" transform="rotate(-90 309.4 142.26)" fill="#000" stroke="#000" stroke-width="0.1" dominant-baseline="central">80</text>
<line x1="316.8" y1="142.76" x2="318.6" y2="142.76" stroke="#000" stroke-width="0.6"/>
<text x="309.4" y="130.64" font-size="5" text-anchor="middle" transform="rotate(-90 309.4 130.64)" fill="#000" stroke="#000" stroke-width="0.1" dominant-baseline="central">120</text>
<line x1="316.8" y1="131.14000000000001" x2="318.6" y2="131.14000000000001" stroke="#000" stroke-width="0.6"/>
<text x="309.4" y="119.02" font-size="5" text-anchor="middle" transform="rotate(-90 309.4 119.02)" fill="#000" stroke="#000" stroke-width="0.1" dominant-baseline="central">160</text>
<line x1="316.8" y1="119.52000000000001" x2="318.6" y2="119.52000000000001" stroke="#000" stroke-width="0.6"/>
<text x="309.4" y="107.4" font-size="5" text-anchor="middle" transform="rotate(-90 309.4 107.4)" fill="#000" stroke="#000" stroke-width="0.1" dominant-baseline="central">200</text>
<line x1="316.8" y1="107.9" x2="318.6" y2="107.9" stroke="#000" stroke-width="0.6"/>
<line x1="317.0" y1="166.0" x2="318.6" y2="166.0" stroke="#000" stroke-width="0.7"/>
<line x1="317.0" y1="163.095" x2="318.6" y2="163.095" stroke="#000" stroke-width="0.7"/>
<line x1="317.0" y1="160.19" x2="318.6" y2="160.19" stroke="#000" stroke-width="0.7"/>
<line x1="317.0" y1="157.285" x2="318.6" y2="157.285" stroke="#000" stroke-width="0.7"/>
<line x1="317.0" y1="154.38" x2="318.6" y2="154.38" stroke="#000" stroke-width="0.7"/>
<line x1="317.0" y1="151.475" x2="318.6" y2="151.475" stroke="#000" stroke-width="0.7"/>
<line x1="317.0" y1="148.57" x2="318.6" y2="148.57" stroke="#000" stroke-width="0.7"/>
<line x1="317.0" y1="145.665" x2="318.6" y2="145.665" stroke="#000" stroke-width="0.7"/>
<line x1="317.0" y1="142.76" x2="318.6" y2="142.76" stroke="#000" stroke-width="0.7"/>
<line x1="317.0" y1="139.85500000000002" x2="318.6" y2="139.85500000000002" stroke="#000" stroke-width="0.7"/>
<line x1="317.0" y1="136.95" x2="318.6" y2="136.95" stroke="#000" stroke-width="0.7"/>
<line x1="317.0" y1="134.04500000000002" x2="318.6" y2="134.04500000000002" stroke="#000" stroke-width="0.7"/>
<line x1="317.0" y1="131.14000000000001" x2="318.6" y2="131.14000000000001" stroke="#000" stroke-width="0.7"/>
<line x1="317.0" y1="128.235" x2="318.6" y2="128.235" stroke="#000" stroke-width="0.7"/>
<line x1="317.0" y1="125.33000000000001" x2="318.6" y2="125.33000000000001" stroke="#000" stroke-width="0.7"/>
<line x1="317.0" y1="122.425" x2="318.6" y2="122.425" stroke="#000" stroke-width="0.7"/>
<line x1="317.0" y1="119.52000000000001" x2="318.6" y2="119.52000000000001" stroke="#000" stroke-width="0.7"/>
<line x1="317.0" y1="116.61500000000001" x2="318.6" y2="116.61500000000001" stroke="#000" stroke-width="0.7"/>
<line x1="317.0" y1="113.71000000000001" x2="318.6" y2="113.71000000000001" stroke="#000" stroke-width="0.7"/>
<line x1="317.0" y1="110.805" x2="318.6" y2="110.805" stroke="#000" stroke-width="0.7"/>
<line x1="317.0" y1="107.9" x2="318.6" y2="107.9" stroke="#000" stroke-width="0.7"/>
<text x="320" y="175" font-size="5" text-anchor="middle" fill="#000" stroke="#000" stroke-width="0.1">0</text>
<text x="334.9" y="175" font-size="5" text-anchor="middle" fill="#000" stroke="#000" stroke-width="0.1">200</text>
<text x="349.8" y="175" font-size="5" text-anchor="middle" fill="#000" stroke="#000" stroke-width="0.1">400</text>
<text x="364.7" y="175" font-size="5" text-anchor="middle" fill="#000" stroke="#000" stroke-width="0.1">600</text>
<text x="379.6" y="175" font-size="5" text-anchor="middle" fill="#000" stroke="#000" stroke-width="0.1">800</text>
<text x="394.5" y="175" font-size="5" text-anchor="middle" fill="#000" stroke="#000" stroke-width="0.1">1000</text>
<line x1="320.0" y1="167.3" x2="320.0" y2="169.5" stroke="#000" stroke-width="0.7"/>
<line x1="323.725" y1="167.3" x2="323.725" y2="168.9" stroke="#000" stroke-width="0.7"/>
<line x1="327.45" y1="167.3" x2="327.45" y2="168.9" stroke="#000" stroke-width="0.7"/>
<line x1="331.175" y1="167.3" x2="331.175" y2="168.9" stroke="#000" stroke-width="0.7"/>
<line x1="334.9" y1="167.3" x2="334.9" y2="169.5" stroke="#000" stroke-width="0.7"/>
<line x1="338.625" y1="167.3" x2="338.625" y2="168.9" stroke="#000" stroke-width="0.7"/>
<line x1="342.35" y1="167.3" x2="342.35" y2="168.9" stroke="#000" stroke-width="0.7"/>
<line x1="346.075" y1="167.3" x2="346.075" y2="168.9" stroke="#000" stroke-width="0.7"/>
<line x1="349.8" y1="167.3" x2="349.8" y2="169.5" stroke="#000" stroke-width="0.7"/>
<line x1="353.525" y1="167.3" x2="353.525" y2="168.9" stroke="#000" stroke-width="0.7"/>
<line x1="357.25" y1="167.3" x2="357.25" y2="168.9" stroke="#000" stroke-width="0.7"/>
<line x1="360.975" y1="167.3" x2="360.975" y2="168.9" stroke="#000" stroke-width="0.7"/>
<line x1="364.7" y1="167.3" x2="364.7" y2="169.5" stroke="#000" stroke-width="0.7"/>
<line x1="368.425" y1="167.3" x2="368.425" y2="168.9" stroke="#000" stroke-width="0.7"/>
<line x1="372.15" y1="167.3" x2="372.15" y2="168.9" stroke="#000" stroke-width="0.7"/>
<line x1="375.875" y1="167.3" x2="375.875" y2="168.9" stroke="#000" stroke-width="0.7"/>
<line x1="379.6" y1="167.3" x2="379.6" y2="169.5" stroke="#000" stroke-width="0.7"/>
<line x1="383.325" y1="167.3" x2="383.325" y2="168.9" stroke="#000" stroke-width="0.7"/>
<line x1="387.05" y1="167.3" x2="387.05" y2="168.9" stroke="#000" stroke-width="0.7"/>
<line x1="390.775" y1="167.3" x2="390.775" y2="168.9" stroke="#000" stroke-width="0.7"/>
<line x1="394.5" y1="167.3" x2="394.5" y2="169.5" stroke="#000" stroke-width="0.7"/>
<polyline points="320,165.42 320.15,165.3 320.3,165.19 320.45,165.07 320.6,164.95 320.75,164.84 320.89,164.81 321.04,164.78 321.19,164.75 321.34,164.72 321.49,164.69 321.64,164.66 321.79,164.63 321.94,164.61 322.09,164.58 322.24,164.55 322.38,164.58 322.53,164.61 322.68,164.63 322.83,164.66 322.98,164.69 323.13,164.72 323.28,164.75 323.43,164.78 323.58,164.81 323.73,164.84 323.87,164.9 324.02,164.95 324.17,165.01 324.32,165.07 324.47,165.13 324.62,165.19 324.77,165.24 324.92,165.3 325.07,165.36 325.21,165.42 325.36,165.44 325.51,165.46 325.66,165.48 325.81,165.5 325.96,165.52 326.11,165.54 326.26,165.55 326.41,165.57 326.56,165.59 326.7,165.61 326.85,165.63 327,165.65 327.15,165.67 327.3,165.69 327.45,165.71 327.6,165.71 327.75,165.71 327.9,165.71 328.05,165.71 328.19,165.71 328.34,165.71 328.49,165.71 328.64,165.71 328.79,165.71 328.94,165.71 329.09,165.71 329.24,165.71 329.39,165.71 329.54,165.71 329.69,165.71 329.83,165.71 329.98,165.71 330.13,165.71 330.28,165.71 330.43,165.71 330.58,165.71 330.73,165.71 330.88,165.71 331.03,165.71 331.18,165.71 331.32,165.71 331.47,165.71 331.62,165.71 331.77,165.71 331.92,165.71 332.07,165.2 332.22,164.69 332.37,164.18 332.52,163.68 332.67,159.78 332.81,155.87 332.96,151.97 333.11,147.28 333.26,141.79 333.41,136.3 333.56,130.82 333.71,125.33 333.86,120.45 334.01,115.57 334.15,112.98 334.3,112.69 334.45,113.56 334.6,115.6 334.75,118.28 334.9,121.59 335.05,124.92 335.2,128.24 335.35,130.49 335.5,132.75 335.64,135.01 335.79,137.27 335.94,140.06 336.09,143.38 336.24,146.7 336.39,150.02 336.54,151.96 336.69,153.9 336.84,155.83 336.99,156.54 337.13,157.25 337.28,157.96 337.43,158.67 337.58,159.14 337.73,159.38 337.88,159.61 338.03,159.84 338.18,160.07 338.33,160.31 338.48,160.54 338.62,160.77 338.77,160.87 338.92,160.96 339.07,161.06 339.22,161.16 339.37,161.26 339.52,161.35 339.67,161.45 339.82,161.55 339.97,161.64 340.12,161.68 340.26,161.73 340.41,161.77 340.56,161.81 340.71,161.85 340.86,161.89 341.01,161.93 341.16,161.93 341.31,161.93 341.46,161.93 341.61,161.93 341.75,161.93 341.9,161.93 342.05,161.93 342.2,161.93 342.35,161.93 342.5,161.87 342.65,161.82 342.8,161.76 342.95,161.7 343.1,161.64 343.24,161.58 343.39,161.53 343.54,161.47 343.69,161.41 343.84,161.35 343.99,161.18 344.14,161 344.29,160.83 344.44,160.65 344.58,160.48 344.73,160.31 344.88,160.13 345.03,159.96 345.18,159.78 345.33,159.61 345.48,159.22 345.63,158.83 345.78,158.45 345.93,158.06 346.07,157.67 346.22,157.28 346.37,156.9 346.52,156.44 346.67,155.9 346.82,155.36 346.97,154.83 347.12,154.29 347.27,153.75 347.42,153.22 347.56,152.93 347.71,152.64 347.86,152.35 348.01,152.06 348.16,151.77 348.31,151.47 348.46,151.18 348.61,151.59 348.76,152 348.91,152.4 349.06,152.81 349.2,153.22 349.35,154.07 349.5,154.92 349.65,155.77 349.8,156.61 349.95,157.46 350.1,158.31 350.25,159.03 350.4,159.61 350.55,160.19 350.69,160.77 350.84,161.35 350.99,161.93 351.14,162.51 351.29,163.09 351.44,163.33 351.59,163.56 351.74,163.79 351.89,164.02 352.03,164.26 352.18,164.49 352.33,164.72 352.48,164.91 352.63,165.06 352.78,165.2 352.93,165.35 353.08,165.37 353.23,165.27 353.38,165.18 353.52,165.08 353.67,164.98 353.82,164.89 353.97,164.86 354.12,164.9 354.27,164.93 354.42,164.97 354.57,165.01 354.72,165.05 354.87,165.09 355.01,165.13 355.16,165.24 355.31,165.36 355.46,165.48 355.61,165.59 355.76,165.71 355.91,165.83 356.06,165.94 356.21,166 356.36,166 356.5,166 356.65,166 356.8,166 356.95,166 357.1,166 357.25,166 357.4,166 357.55,166 357.7,166 357.85,166 358,166 358.14,166 358.29,166 358.44,166 358.59,166 358.74,166 358.89,166 359.04,166 359.19,166 359.34,166 359.49,166 359.63,166 359.78,166 359.93,166 360.08,166 360.23,166 360.38,166 360.53,166 360.68,166 360.83,166 360.98,166 361.12,166 361.27,166 361.42,166 361.57,166 361.72,166 361.87,166 362.02,166 362.17,166 362.32,166 362.46,166 362.61,166 362.76,166 362.91,166 363.06,166 363.21,166 363.36,166 363.51,166 363.66,166 363.81,166 363.95,166 364.1,166 364.25,166 364.4,166 364.55,166 364.7,166 364.85,166 365,166 365.15,166 365.3,166 365.44,166 365.59,166 365.74,166 365.89,166 366.04,166 366.19,166 366.34,166 366.49,166 366.64,166 366.79,166 366.94,166 367.08,166 367.23,166 367.38,166 367.53,166 367.68,166 367.83,166 367.98,166 368.13,166 368.28,166 368.43,166 368.57,166 368.72,166 368.87,166 369.02,166 369.17,166 369.32,166 369.47,166 369.62,166 369.77,166 369.92,166 370.06,166 370.21,166 370.36,166 370.51,166 370.66,166 370.81,166 370.96,166 371.11,166 371.26,166 371.4,166 371.55,166 371.7,166 371.85,166 372,166 372.15,166 372.3,166 372.45,166 372.6,166 372.75,166 372.89,166 373.04,166 373.19,166 373.34,166 373.49,166 373.64,166 373.79,166 373.94,166 374.09,166 374.24,166 374.38,166 374.53,166 374.68,166 374.83,166 374.98,166 375.13,166 375.28,166 375.43,166 375.58,166 375.73,166 375.88,166 376.02,166 376.17,166 376.32,166 376.47,166 376.62,166 376.77,166 376.92,166 377.07,166 377.22,166 377.37,166 377.51,166 377.66,166 377.81,166 377.96,166 378.11,166 378.26,166 378.41,166 378.56,166 378.71,166 378.86,166 379,166 379.15,166 379.3,166 379.45,166 379.6,166 379.75,166 379.9,166 380.05,166 380.2,166 380.35,166 380.49,166 380.64,166 380.79,166 380.94,166 381.09,166 381.24,166 381.39,166 381.54,166 381.69,166 381.83,166 381.98,166 382.13,166 382.28,166 382.43,166 382.58,166 382.73,166 382.88,166 383.03,166 383.18,166 383.32,166 383.47,166 383.62,166 383.77,166 383.92,166 384.07,166 384.22,166 384.37,166 384.52,166 384.67,166 384.81,166 384.96,166 385.11,166 385.26,166 385.41,166 385.56,166 385.71,166 385.86,166 386.01,166 386.16,166 386.31,166 386.45,166 386.6,166 386.75,166 386.9,166 387.05,166 387.2,166 387.35,166 387.5,166 387.65,166 387.8,166 387.94,166 388.09,166 388.24,166 388.39,166 388.54,166 388.69,166 388.84,166 388.99,166 389.14,166 389.28,166 389.43,166 389.58,166 389.73,166 389.88,166 390.03,166 390.18,166 390.33,166 390.48,166 390.63,166 390.77,166 390.92,166 391.07,166 391.22,166 391.37,166 391.52,166 391.67,166 391.82,166 391.97,166 392.12,166 392.26,166 392.41,166 392.56,166 392.71,166 392.86,166 393.01,166 393.16,166 393.31,166 393.46,166 393.61,166 393.75,166 393.9,166 394.05,166 394.2,166 394.35,166 394.5,166" fill="none" stroke="#2a2a2a" stroke-width="0.95" stroke-linejoin="round"/>
<rect x="318.6" y="107.9" width="78.2" height="59.4" fill="none" stroke="#888" stroke-width="1.4"/>
<line x1="318.6" y1="107.9" x2="318.6" y2="167.3" stroke="#111" stroke-width="0.9"/>
<line x1="318.6" y1="167.3" x2="396.8" y2="167.3" stroke="#111" stroke-width="0.9"/>
<text transform="translate(360.8 115.2) scale(0.95 1)" font-size="6.2" fill="#000" stroke="#000" stroke-width="0.16">sub G1 = 6.0</text>
<text transform="translate(360.8 122.3) scale(0.95 1)" font-size="6.2" fill="#000" stroke="#000" stroke-width="0.16">G1 = 49.2</text>
<text transform="translate(360.8 129.4) scale(0.95 1)" font-size="6.2" fill="#000" stroke="#000" stroke-width="0.16">G2/M = 15.8</text>
<text transform="translate(360.8 136.5) scale(0.95 1)" font-size="6.2" fill="#000" stroke="#000" stroke-width="0.16">S = 29.0</text>
<text x="212.7" y="242.9" font-size="5" text-anchor="middle" transform="rotate(-90 212.7 242.9)" fill="#000" stroke="#000" stroke-width="0.1" dominant-baseline="central">0</text>
<line x1="220.1" y1="243.39999999999998" x2="221.9" y2="243.39999999999998" stroke="#000" stroke-width="0.6"/>
<text x="212.7" y="231.34" font-size="5" text-anchor="middle" transform="rotate(-90 212.7 231.34)" fill="#000" stroke="#000" stroke-width="0.1" dominant-baseline="central">40</text>
<line x1="220.1" y1="231.83999999999997" x2="221.9" y2="231.83999999999997" stroke="#000" stroke-width="0.6"/>
<text x="212.7" y="219.78" font-size="5" text-anchor="middle" transform="rotate(-90 212.7 219.78)" fill="#000" stroke="#000" stroke-width="0.1" dominant-baseline="central">80</text>
<line x1="220.1" y1="220.27999999999997" x2="221.9" y2="220.27999999999997" stroke="#000" stroke-width="0.6"/>
<text x="212.7" y="208.22" font-size="5" text-anchor="middle" transform="rotate(-90 212.7 208.22)" fill="#000" stroke="#000" stroke-width="0.1" dominant-baseline="central">120</text>
<line x1="220.1" y1="208.71999999999997" x2="221.9" y2="208.71999999999997" stroke="#000" stroke-width="0.6"/>
<text x="212.7" y="196.66" font-size="5" text-anchor="middle" transform="rotate(-90 212.7 196.66)" fill="#000" stroke="#000" stroke-width="0.1" dominant-baseline="central">160</text>
<line x1="220.1" y1="197.16" x2="221.9" y2="197.16" stroke="#000" stroke-width="0.6"/>
<text x="212.7" y="185.1" font-size="5" text-anchor="middle" transform="rotate(-90 212.7 185.1)" fill="#000" stroke="#000" stroke-width="0.1" dominant-baseline="central">200</text>
<line x1="220.1" y1="185.6" x2="221.9" y2="185.6" stroke="#000" stroke-width="0.6"/>
<line x1="220.3" y1="243.39999999999998" x2="221.9" y2="243.39999999999998" stroke="#000" stroke-width="0.7"/>
<line x1="220.3" y1="240.51" x2="221.9" y2="240.51" stroke="#000" stroke-width="0.7"/>
<line x1="220.3" y1="237.61999999999998" x2="221.9" y2="237.61999999999998" stroke="#000" stroke-width="0.7"/>
<line x1="220.3" y1="234.73" x2="221.9" y2="234.73" stroke="#000" stroke-width="0.7"/>
<line x1="220.3" y1="231.83999999999997" x2="221.9" y2="231.83999999999997" stroke="#000" stroke-width="0.7"/>
<line x1="220.3" y1="228.95" x2="221.9" y2="228.95" stroke="#000" stroke-width="0.7"/>
<line x1="220.3" y1="226.05999999999997" x2="221.9" y2="226.05999999999997" stroke="#000" stroke-width="0.7"/>
<line x1="220.3" y1="223.17" x2="221.9" y2="223.17" stroke="#000" stroke-width="0.7"/>
<line x1="220.3" y1="220.27999999999997" x2="221.9" y2="220.27999999999997" stroke="#000" stroke-width="0.7"/>
<line x1="220.3" y1="217.39" x2="221.9" y2="217.39" stroke="#000" stroke-width="0.7"/>
<line x1="220.3" y1="214.5" x2="221.9" y2="214.5" stroke="#000" stroke-width="0.7"/>
<line x1="220.3" y1="211.60999999999999" x2="221.9" y2="211.60999999999999" stroke="#000" stroke-width="0.7"/>
<line x1="220.3" y1="208.71999999999997" x2="221.9" y2="208.71999999999997" stroke="#000" stroke-width="0.7"/>
<line x1="220.3" y1="205.82999999999998" x2="221.9" y2="205.82999999999998" stroke="#000" stroke-width="0.7"/>
<line x1="220.3" y1="202.94" x2="221.9" y2="202.94" stroke="#000" stroke-width="0.7"/>
<line x1="220.3" y1="200.04999999999998" x2="221.9" y2="200.04999999999998" stroke="#000" stroke-width="0.7"/>
<line x1="220.3" y1="197.16" x2="221.9" y2="197.16" stroke="#000" stroke-width="0.7"/>
<line x1="220.3" y1="194.26999999999998" x2="221.9" y2="194.26999999999998" stroke="#000" stroke-width="0.7"/>
<line x1="220.3" y1="191.38" x2="221.9" y2="191.38" stroke="#000" stroke-width="0.7"/>
<line x1="220.3" y1="188.49" x2="221.9" y2="188.49" stroke="#000" stroke-width="0.7"/>
<line x1="220.3" y1="185.6" x2="221.9" y2="185.6" stroke="#000" stroke-width="0.7"/>
<text x="222.7" y="252.4" font-size="5" text-anchor="middle" fill="#000" stroke="#000" stroke-width="0.1">0</text>
<text x="237.6" y="252.4" font-size="5" text-anchor="middle" fill="#000" stroke="#000" stroke-width="0.1">200</text>
<text x="252.5" y="252.4" font-size="5" text-anchor="middle" fill="#000" stroke="#000" stroke-width="0.1">400</text>
<text x="267.4" y="252.4" font-size="5" text-anchor="middle" fill="#000" stroke="#000" stroke-width="0.1">600</text>
<text x="282.3" y="252.4" font-size="5" text-anchor="middle" fill="#000" stroke="#000" stroke-width="0.1">800</text>
<text x="297.2" y="252.4" font-size="5" text-anchor="middle" fill="#000" stroke="#000" stroke-width="0.1">1000</text>
<line x1="222.7" y1="244.7" x2="222.7" y2="246.89999999999998" stroke="#000" stroke-width="0.7"/>
<line x1="226.42499999999998" y1="244.7" x2="226.42499999999998" y2="246.29999999999998" stroke="#000" stroke-width="0.7"/>
<line x1="230.14999999999998" y1="244.7" x2="230.14999999999998" y2="246.29999999999998" stroke="#000" stroke-width="0.7"/>
<line x1="233.875" y1="244.7" x2="233.875" y2="246.29999999999998" stroke="#000" stroke-width="0.7"/>
<line x1="237.6" y1="244.7" x2="237.6" y2="246.89999999999998" stroke="#000" stroke-width="0.7"/>
<line x1="241.325" y1="244.7" x2="241.325" y2="246.29999999999998" stroke="#000" stroke-width="0.7"/>
<line x1="245.04999999999998" y1="244.7" x2="245.04999999999998" y2="246.29999999999998" stroke="#000" stroke-width="0.7"/>
<line x1="248.77499999999998" y1="244.7" x2="248.77499999999998" y2="246.29999999999998" stroke="#000" stroke-width="0.7"/>
<line x1="252.5" y1="244.7" x2="252.5" y2="246.89999999999998" stroke="#000" stroke-width="0.7"/>
<line x1="256.22499999999997" y1="244.7" x2="256.22499999999997" y2="246.29999999999998" stroke="#000" stroke-width="0.7"/>
<line x1="259.95" y1="244.7" x2="259.95" y2="246.29999999999998" stroke="#000" stroke-width="0.7"/>
<line x1="263.675" y1="244.7" x2="263.675" y2="246.29999999999998" stroke="#000" stroke-width="0.7"/>
<line x1="267.4" y1="244.7" x2="267.4" y2="246.89999999999998" stroke="#000" stroke-width="0.7"/>
<line x1="271.125" y1="244.7" x2="271.125" y2="246.29999999999998" stroke="#000" stroke-width="0.7"/>
<line x1="274.84999999999997" y1="244.7" x2="274.84999999999997" y2="246.29999999999998" stroke="#000" stroke-width="0.7"/>
<line x1="278.575" y1="244.7" x2="278.575" y2="246.29999999999998" stroke="#000" stroke-width="0.7"/>
<line x1="282.29999999999995" y1="244.7" x2="282.29999999999995" y2="246.89999999999998" stroke="#000" stroke-width="0.7"/>
<line x1="286.025" y1="244.7" x2="286.025" y2="246.29999999999998" stroke="#000" stroke-width="0.7"/>
<line x1="289.75" y1="244.7" x2="289.75" y2="246.29999999999998" stroke="#000" stroke-width="0.7"/>
<line x1="293.47499999999997" y1="244.7" x2="293.47499999999997" y2="246.29999999999998" stroke="#000" stroke-width="0.7"/>
<line x1="297.2" y1="244.7" x2="297.2" y2="246.89999999999998" stroke="#000" stroke-width="0.7"/>
<polygon points="235.22,225.7 235.25,224.8 235.29,223.89 235.33,222.99 235.36,222.09 235.4,221.18 235.44,220.28 235.48,219.5 235.51,218.72 235.55,217.95 235.59,217.17 235.63,216.39 235.66,215.61 235.7,214.83 235.74,214.06 235.77,213.28 235.81,212.5 235.85,211.72 235.89,210.94 235.92,210.16 235.96,209.39 236,208.61 236.04,207.83 236.07,207.05 236.11,206.27 236.15,205.5 236.18,204.72 236.22,203.94 236.26,203.16 236.3,202.38 236.33,201.61 236.37,200.83 236.41,200.05 236.45,197.64 236.48,197.16 236.52,197.16 236.56,197.16 236.59,197.16 236.63,197.16 236.67,197.16 236.71,197.16 236.74,197.16 236.78,197.16 236.82,197.16 236.85,197.16 236.89,197.16 236.93,197.16 236.97,197.16 237,197.16 237.04,197.16 237.08,197.16 237.12,197.16 237.15,197.16 237.19,197.16 237.23,197.16 237.26,197.16 237.3,197.16 237.34,197.16 237.38,197.16 237.41,197.16 237.45,197.16 237.49,197.16 237.53,197.16 237.56,197.16 237.6,197.16 237.64,197.16 237.67,200.05 237.71,201.49 237.75,202.94 237.79,204.38 237.82,205.83 237.86,207.27 237.9,208.72 237.94,210.16 237.97,211.61 238.01,213.05 238.05,214.5 238.08,215.94 238.12,217.39 238.16,218.02 238.2,218.64 238.23,219.27 238.27,219.89 238.31,220.52 238.34,221.15 238.38,221.77 238.42,222.4 238.46,223.03 238.49,223.65 238.53,224.28 238.57,224.9 238.61,225.29 238.64,225.67 238.64,226.06 235.22,226.06" fill="#999"/>
<polyline points="222.7,241.95 222.85,240.8 223,239.64 223.15,237.83 223.3,235.35 223.44,232.87 223.59,230.39 223.74,229.67 223.89,228.95 224.04,228.23 224.19,227.5 224.34,227.36 224.49,227.22 224.64,227.07 224.79,226.93 224.94,227.43 225.08,227.94 225.23,228.44 225.38,228.95 225.53,229.59 225.68,230.23 225.83,230.88 225.98,231.52 226.13,232.01 226.28,232.36 226.42,232.71 226.57,233.05 226.72,233.4 226.87,233.75 227.02,234.09 227.17,234.44 227.32,234.64 227.47,234.85 227.62,235.05 227.77,235.25 227.91,235.45 228.06,235.65 228.21,235.86 228.36,236.06 228.51,236.26 228.66,236.46 228.81,236.58 228.96,236.7 229.11,236.81 229.26,236.93 229.41,237.04 229.55,237.16 229.7,237.27 229.85,237.39 230,237.5 230.15,237.62 230.3,237.7 230.45,237.77 230.6,237.85 230.75,237.93 230.89,238.01 231.04,238.08 231.19,238.16 231.34,238.17 231.49,238.11 231.64,238.05 231.79,238 231.94,237.94 232.09,237.88 232.24,237.82 232.38,237.76 232.53,237.71 232.68,237.65 232.83,237.52 232.98,237.33 233.13,237.14 233.28,236.95 233.43,236.75 233.58,236.56 233.73,236.37 233.88,236.17 234.02,235.96 234.17,235.74 234.32,235.52 234.47,235.31 234.62,235.08 234.77,234.85 234.92,232.92 235.07,229.31 235.22,225.7 235.36,222.09 235.51,218.72 235.66,215.61 235.81,212.5 235.96,209.39 236.11,206.27 236.26,203.16 236.41,200.05 236.56,190.42 236.71,185.9 236.85,185.9 237,185.9 237.15,185.9 237.3,185.9 237.45,185.9 237.6,185.9 237.75,202.94 237.9,208.72 238.05,214.5 238.2,218.64 238.34,221.15 238.49,223.65 238.64,225.67 238.79,227.22 238.94,228.76 239.09,230.3 239.24,231.84 239.39,232.64 239.54,233.44 239.69,234.24 239.83,235.04 239.98,235.84 240.13,236.64 240.28,237.14 240.43,237.35 240.58,237.55 240.73,237.75 240.88,237.95 241.03,238.15 241.18,238.36 241.32,238.56 241.47,238.76 241.62,238.96 241.77,239.1 241.92,239.17 242.07,239.23 242.22,239.3 242.37,239.37 242.52,239.44 242.67,239.51 242.81,239.57 242.96,239.64 243.11,239.64 243.26,239.64 243.41,239.64 243.56,239.64 243.71,239.64 243.86,239.64 244.01,239.64 244.16,239.64 244.3,239.64 244.45,239.64 244.6,239.64 244.75,239.64 244.9,239.64 245.05,239.64 245.2,239.6 245.35,239.55 245.5,239.5 245.65,239.46 245.79,239.41 245.94,239.37 246.09,239.32 246.24,239.27 246.39,239.23 246.54,239.18 246.69,239.13 246.84,239.09 246.99,239.01 247.14,238.89 247.28,238.78 247.43,238.66 247.58,238.54 247.73,238.43 247.88,238.31 248.03,238.2 248.18,238.08 248.33,237.97 248.48,237.79 248.63,237.56 248.77,237.33 248.92,237.1 249.07,236.87 249.22,236.64 249.37,236.41 249.52,236.17 249.67,235.94 249.82,235.71 249.97,235.48 250.12,235.25 250.26,235.02 250.41,234.92 250.56,234.83 250.71,234.73 250.86,234.95 251.01,235.16 251.16,235.38 251.31,235.6 251.46,236.07 251.61,236.54 251.75,237.02 251.9,237.49 252.05,237.96 252.2,238.37 252.35,238.72 252.5,239.06 252.65,239.41 252.8,239.76 252.95,240.11 253.1,240.45 253.24,240.8 253.39,241.03 253.54,241.26 253.69,241.49 253.84,241.72 253.99,241.95 254.14,241.98 254.29,242.01 254.44,242.04 254.59,242.07 254.73,242.1 254.88,242.13 255.03,242.16 255.18,242.19 255.33,242.22 255.48,242.24 255.63,242.24 255.78,242.24 255.93,242.24 256.08,242.24 256.22,242.24 256.37,242.24 256.52,242.24 256.67,242.24 256.82,242.24 256.97,242.24 257.12,242.32 257.27,242.4 257.42,242.48 257.57,242.55 257.71,242.63 257.86,242.71 258.01,242.78 258.16,242.86 258.31,242.94 258.46,243.01 258.61,243.09 258.76,243.17 258.91,243.25 259.06,243.32 259.2,243.4 259.35,243.4 259.5,243.4 259.65,243.4 259.8,243.4 259.95,243.4 260.1,243.4 260.25,243.4 260.4,243.4 260.55,243.4 260.69,243.4 260.84,243.4 260.99,243.4 261.14,243.4 261.29,243.4 261.44,243.4 261.59,243.4 261.74,243.4 261.89,243.4 262.04,243.4 262.19,243.4 262.33,243.4 262.48,243.4 262.63,243.4 262.78,243.4 262.93,243.4 263.08,243.4 263.23,243.4 263.38,243.4 263.53,243.4 263.68,243.4 263.82,243.4 263.97,243.4 264.12,243.4 264.27,243.4 264.42,243.4 264.57,243.4 264.72,243.4 264.87,243.4 265.02,243.4 265.16,243.4 265.31,243.4 265.46,243.4 265.61,243.4 265.76,243.4 265.91,243.4 266.06,243.4 266.21,243.4 266.36,243.4 266.51,243.4 266.65,243.4 266.8,243.4 266.95,243.4 267.1,243.4 267.25,243.4 267.4,243.4 267.55,243.4 267.7,243.4 267.85,243.4 268,243.4 268.14,243.4 268.29,243.4 268.44,243.4 268.59,243.4 268.74,243.4 268.89,243.4 269.04,243.4 269.19,243.4 269.34,243.4 269.49,243.4 269.63,243.4 269.78,243.4 269.93,243.4 270.08,243.4 270.23,243.4 270.38,243.4 270.53,243.4 270.68,243.4 270.83,243.4 270.98,243.4 271.12,243.4 271.27,243.4 271.42,243.4 271.57,243.4 271.72,243.4 271.87,243.4 272.02,243.4 272.17,243.4 272.32,243.4 272.47,243.4 272.62,243.4 272.76,243.4 272.91,243.4 273.06,243.4 273.21,243.4 273.36,243.4 273.51,243.4 273.66,243.4 273.81,243.4 273.96,243.4 274.11,243.4 274.25,243.4 274.4,243.4 274.55,243.4 274.7,243.4 274.85,243.4 275,243.4 275.15,243.4 275.3,243.4 275.45,243.4 275.59,243.4 275.74,243.4 275.89,243.4 276.04,243.4 276.19,243.4 276.34,243.4 276.49,243.4 276.64,243.4 276.79,243.4 276.94,243.4 277.08,243.4 277.23,243.4 277.38,243.4 277.53,243.4 277.68,243.4 277.83,243.4 277.98,243.4 278.13,243.4 278.28,243.4 278.43,243.4 278.57,243.4 278.72,243.4 278.87,243.4 279.02,243.4 279.17,243.4 279.32,243.4 279.47,243.4 279.62,243.4 279.77,243.4 279.92,243.4 280.06,243.4 280.21,243.4 280.36,243.4 280.51,243.4 280.66,243.4 280.81,243.4 280.96,243.4 281.11,243.4 281.26,243.4 281.41,243.4 281.56,243.4 281.7,243.4 281.85,243.4 282,243.4 282.15,243.4 282.3,243.4 282.45,243.4 282.6,243.4 282.75,243.4 282.9,243.4 283.04,243.4 283.19,243.4 283.34,243.4 283.49,243.4 283.64,243.4 283.79,243.4 283.94,243.4 284.09,243.4 284.24,243.4 284.39,243.4 284.53,243.4 284.68,243.4 284.83,243.4 284.98,243.4 285.13,243.4 285.28,243.4 285.43,243.4 285.58,243.4 285.73,243.4 285.88,243.4 286.02,243.4 286.17,243.4 286.32,243.4 286.47,243.4 286.62,243.4 286.77,243.4 286.92,243.4 287.07,243.4 287.22,243.4 287.37,243.4 287.51,243.4 287.66,243.4 287.81,243.4 287.96,243.4 288.11,243.4 288.26,243.4 288.41,243.4 288.56,243.4 288.71,243.4 288.86,243.4 289,243.4 289.15,243.4 289.3,243.4 289.45,243.4 289.6,243.4 289.75,243.4 289.9,243.4 290.05,243.4 290.2,243.4 290.35,243.4 290.5,243.4 290.64,243.4 290.79,243.4 290.94,243.4 291.09,243.4 291.24,243.4 291.39,243.4 291.54,243.4 291.69,243.4 291.84,243.4 291.99,243.4 292.13,243.4 292.28,243.4 292.43,243.4 292.58,243.4 292.73,243.4 292.88,243.4 293.03,243.4 293.18,243.4 293.33,243.4 293.47,243.4 293.62,243.4 293.77,243.4 293.92,243.4 294.07,243.4 294.22,243.4 294.37,243.4 294.52,243.4 294.67,243.4 294.82,243.4 294.96,243.4 295.11,243.4 295.26,243.4 295.41,243.4 295.56,243.4 295.71,243.4 295.86,243.4 296.01,243.4 296.16,243.4 296.31,243.4 296.45,243.4 296.6,243.4 296.75,243.4 296.9,243.4 297.05,243.4 297.2,243.4" fill="none" stroke="#2a2a2a" stroke-width="0.95" stroke-linejoin="round"/>
<rect x="221.9" y="185.6" width="78.1" height="59.1" fill="none" stroke="#888" stroke-width="1.4"/>
<line x1="221.9" y1="185.6" x2="221.9" y2="244.7" stroke="#111" stroke-width="0.9"/>
<line x1="221.9" y1="244.7" x2="300.0" y2="244.7" stroke="#111" stroke-width="0.9"/>
<text transform="translate(261.3 192.5) scale(0.95 1)" font-size="6.2" fill="#000" stroke="#000" stroke-width="0.16">sub G1 = 41.9</text>
<text transform="translate(261.3 199.6) scale(0.95 1)" font-size="6.2" fill="#000" stroke="#000" stroke-width="0.16">G1 = 41.1</text>
<text transform="translate(261.3 206.7) scale(0.95 1)" font-size="6.2" fill="#000" stroke="#000" stroke-width="0.16">G2/M = 6.3</text>
<text transform="translate(261.3 213.8) scale(0.95 1)" font-size="6.2" fill="#000" stroke="#000" stroke-width="0.16">S = 10.7</text>
<text x="309.4" y="242.9" font-size="5" text-anchor="middle" transform="rotate(-90 309.4 242.9)" fill="#000" stroke="#000" stroke-width="0.1" dominant-baseline="central">0</text>
<line x1="316.8" y1="243.39999999999998" x2="318.6" y2="243.39999999999998" stroke="#000" stroke-width="0.6"/>
<text x="309.4" y="231.34" font-size="5" text-anchor="middle" transform="rotate(-90 309.4 231.34)" fill="#000" stroke="#000" stroke-width="0.1" dominant-baseline="central">80</text>
<line x1="316.8" y1="231.83999999999997" x2="318.6" y2="231.83999999999997" stroke="#000" stroke-width="0.6"/>
<text x="309.4" y="219.78" font-size="5" text-anchor="middle" transform="rotate(-90 309.4 219.78)" fill="#000" stroke="#000" stroke-width="0.1" dominant-baseline="central">160</text>
<line x1="316.8" y1="220.27999999999997" x2="318.6" y2="220.27999999999997" stroke="#000" stroke-width="0.6"/>
<text x="309.4" y="208.22" font-size="5" text-anchor="middle" transform="rotate(-90 309.4 208.22)" fill="#000" stroke="#000" stroke-width="0.1" dominant-baseline="central">240</text>
<line x1="316.8" y1="208.71999999999997" x2="318.6" y2="208.71999999999997" stroke="#000" stroke-width="0.6"/>
<text x="309.4" y="196.66" font-size="5" text-anchor="middle" transform="rotate(-90 309.4 196.66)" fill="#000" stroke="#000" stroke-width="0.1" dominant-baseline="central">320</text>
<line x1="316.8" y1="197.16" x2="318.6" y2="197.16" stroke="#000" stroke-width="0.6"/>
<text x="309.4" y="185.1" font-size="5" text-anchor="middle" transform="rotate(-90 309.4 185.1)" fill="#000" stroke="#000" stroke-width="0.1" dominant-baseline="central">400</text>
<line x1="316.8" y1="185.6" x2="318.6" y2="185.6" stroke="#000" stroke-width="0.6"/>
<line x1="317.0" y1="243.39999999999998" x2="318.6" y2="243.39999999999998" stroke="#000" stroke-width="0.7"/>
<line x1="317.0" y1="240.51" x2="318.6" y2="240.51" stroke="#000" stroke-width="0.7"/>
<line x1="317.0" y1="237.61999999999998" x2="318.6" y2="237.61999999999998" stroke="#000" stroke-width="0.7"/>
<line x1="317.0" y1="234.73" x2="318.6" y2="234.73" stroke="#000" stroke-width="0.7"/>
<line x1="317.0" y1="231.83999999999997" x2="318.6" y2="231.83999999999997" stroke="#000" stroke-width="0.7"/>
<line x1="317.0" y1="228.95" x2="318.6" y2="228.95" stroke="#000" stroke-width="0.7"/>
<line x1="317.0" y1="226.05999999999997" x2="318.6" y2="226.05999999999997" stroke="#000" stroke-width="0.7"/>
<line x1="317.0" y1="223.17" x2="318.6" y2="223.17" stroke="#000" stroke-width="0.7"/>
<line x1="317.0" y1="220.27999999999997" x2="318.6" y2="220.27999999999997" stroke="#000" stroke-width="0.7"/>
<line x1="317.0" y1="217.39" x2="318.6" y2="217.39" stroke="#000" stroke-width="0.7"/>
<line x1="317.0" y1="214.5" x2="318.6" y2="214.5" stroke="#000" stroke-width="0.7"/>
<line x1="317.0" y1="211.60999999999999" x2="318.6" y2="211.60999999999999" stroke="#000" stroke-width="0.7"/>
<line x1="317.0" y1="208.71999999999997" x2="318.6" y2="208.71999999999997" stroke="#000" stroke-width="0.7"/>
<line x1="317.0" y1="205.82999999999998" x2="318.6" y2="205.82999999999998" stroke="#000" stroke-width="0.7"/>
<line x1="317.0" y1="202.94" x2="318.6" y2="202.94" stroke="#000" stroke-width="0.7"/>
<line x1="317.0" y1="200.04999999999998" x2="318.6" y2="200.04999999999998" stroke="#000" stroke-width="0.7"/>
<line x1="317.0" y1="197.16" x2="318.6" y2="197.16" stroke="#000" stroke-width="0.7"/>
<line x1="317.0" y1="194.26999999999998" x2="318.6" y2="194.26999999999998" stroke="#000" stroke-width="0.7"/>
<line x1="317.0" y1="191.38" x2="318.6" y2="191.38" stroke="#000" stroke-width="0.7"/>
<line x1="317.0" y1="188.49" x2="318.6" y2="188.49" stroke="#000" stroke-width="0.7"/>
<line x1="317.0" y1="185.6" x2="318.6" y2="185.6" stroke="#000" stroke-width="0.7"/>
<text x="320" y="252.4" font-size="5" text-anchor="middle" fill="#000" stroke="#000" stroke-width="0.1">0</text>
<text x="334.9" y="252.4" font-size="5" text-anchor="middle" fill="#000" stroke="#000" stroke-width="0.1">200</text>
<text x="349.8" y="252.4" font-size="5" text-anchor="middle" fill="#000" stroke="#000" stroke-width="0.1">400</text>
<text x="364.7" y="252.4" font-size="5" text-anchor="middle" fill="#000" stroke="#000" stroke-width="0.1">600</text>
<text x="379.6" y="252.4" font-size="5" text-anchor="middle" fill="#000" stroke="#000" stroke-width="0.1">800</text>
<text x="394.5" y="252.4" font-size="5" text-anchor="middle" fill="#000" stroke="#000" stroke-width="0.1">1000</text>
<line x1="320.0" y1="244.7" x2="320.0" y2="246.89999999999998" stroke="#000" stroke-width="0.7"/>
<line x1="323.725" y1="244.7" x2="323.725" y2="246.29999999999998" stroke="#000" stroke-width="0.7"/>
<line x1="327.45" y1="244.7" x2="327.45" y2="246.29999999999998" stroke="#000" stroke-width="0.7"/>
<line x1="331.175" y1="244.7" x2="331.175" y2="246.29999999999998" stroke="#000" stroke-width="0.7"/>
<line x1="334.9" y1="244.7" x2="334.9" y2="246.89999999999998" stroke="#000" stroke-width="0.7"/>
<line x1="338.625" y1="244.7" x2="338.625" y2="246.29999999999998" stroke="#000" stroke-width="0.7"/>
<line x1="342.35" y1="244.7" x2="342.35" y2="246.29999999999998" stroke="#000" stroke-width="0.7"/>
<line x1="346.075" y1="244.7" x2="346.075" y2="246.29999999999998" stroke="#000" stroke-width="0.7"/>
<line x1="349.8" y1="244.7" x2="349.8" y2="246.89999999999998" stroke="#000" stroke-width="0.7"/>
<line x1="353.525" y1="244.7" x2="353.525" y2="246.29999999999998" stroke="#000" stroke-width="0.7"/>
<line x1="357.25" y1="244.7" x2="357.25" y2="246.29999999999998" stroke="#000" stroke-width="0.7"/>
<line x1="360.975" y1="244.7" x2="360.975" y2="246.29999999999998" stroke="#000" stroke-width="0.7"/>
<line x1="364.7" y1="244.7" x2="364.7" y2="246.89999999999998" stroke="#000" stroke-width="0.7"/>
<line x1="368.425" y1="244.7" x2="368.425" y2="246.29999999999998" stroke="#000" stroke-width="0.7"/>
<line x1="372.15" y1="244.7" x2="372.15" y2="246.29999999999998" stroke="#000" stroke-width="0.7"/>
<line x1="375.875" y1="244.7" x2="375.875" y2="246.29999999999998" stroke="#000" stroke-width="0.7"/>
<line x1="379.6" y1="244.7" x2="379.6" y2="246.89999999999998" stroke="#000" stroke-width="0.7"/>
<line x1="383.325" y1="244.7" x2="383.325" y2="246.29999999999998" stroke="#000" stroke-width="0.7"/>
<line x1="387.05" y1="244.7" x2="387.05" y2="246.29999999999998" stroke="#000" stroke-width="0.7"/>
<line x1="390.775" y1="244.7" x2="390.775" y2="246.29999999999998" stroke="#000" stroke-width="0.7"/>
<line x1="394.5" y1="244.7" x2="394.5" y2="246.89999999999998" stroke="#000" stroke-width="0.7"/>
<polygon points="332.26,224.35 332.29,223.48 332.33,222.6 332.37,221.72 332.4,220.37 332.44,219.02 332.48,217.66 332.52,216.31 332.55,214.95 332.59,213.6 332.63,212.24 332.67,210.89 332.7,209.53 332.74,208.18 332.78,206.82 332.81,205.47 332.85,204.11 332.89,202.76 332.93,201.4 332.96,200.05 333,199.28 333.04,198.51 333.07,197.74 333.11,196.97 333.15,196.2 333.19,195.72 333.22,195.72 333.26,195.72 333.3,195.72 333.34,195.72 333.37,195.72 333.41,195.72 333.45,195.72 333.48,195.72 333.52,195.72 333.56,195.72 333.6,195.72 333.63,196.35 333.67,197.28 333.71,198.2 333.75,199.13 333.78,200.05 333.82,201.49 333.86,202.94 333.89,204.38 333.93,205.83 333.97,207.27 334.01,208.72 334.04,210.16 334.08,211.61 334.12,213.05 334.15,214.5 334.19,215.94 334.23,217.39 334.27,218.55 334.3,219.7 334.34,220.86 334.38,222.01 334.42,223.17 334.45,224.33 334.45,224.61 332.26,224.61" fill="#666"/>
<polyline points="320,241.95 320.15,240.51 320.3,239.06 320.45,237.62 320.6,236.42 320.75,235.21 320.89,234.01 321.04,233.72 321.19,233.43 321.34,233.43 321.49,233.72 321.64,234.01 321.79,234.3 321.94,234.58 322.09,234.85 322.24,235.12 322.38,235.39 322.53,235.65 322.68,235.92 322.83,236.19 322.98,236.46 323.13,236.65 323.28,236.84 323.43,237.03 323.58,237.22 323.73,237.4 323.87,237.59 324.02,237.78 324.17,237.97 324.32,238.15 324.47,238.34 324.62,238.46 324.77,238.57 324.92,238.69 325.07,238.8 325.21,238.92 325.36,239.04 325.51,239.15 325.66,239.27 325.81,239.38 325.96,239.5 326.11,239.54 326.26,239.58 326.41,239.63 326.56,239.67 326.7,239.71 326.85,239.76 327,239.8 327.15,239.84 327.3,239.88 327.45,239.93 327.6,239.97 327.75,240.01 327.9,240.06 328.05,240.07 328.19,240.05 328.34,240.04 328.49,240.02 328.64,240 328.79,239.99 328.94,239.97 329.09,239.96 329.24,239.94 329.39,239.91 329.54,239.86 329.69,239.82 329.83,239.77 329.98,239.72 330.13,239.68 330.28,239.63 330.43,239.59 330.58,239.54 330.73,239.49 330.88,239.45 331.03,239.4 331.18,239.35 331.32,238.45 331.47,237.55 331.62,236.64 331.77,235.74 331.92,232.24 332.07,228.73 332.22,225.23 332.37,221.72 332.52,216.31 332.67,210.89 332.81,205.47 332.96,200.05 333.11,196.97 333.26,193.88 333.41,190.8 333.56,194.5 333.71,198.2 333.86,202.94 334.01,208.72 334.15,214.5 334.3,219.7 334.45,224.33 334.6,228.95 334.75,230.88 334.9,232.8 335.05,234.73 335.2,235.63 335.35,236.54 335.5,237.44 335.64,238.34 335.79,238.56 335.94,238.78 336.09,238.99 336.24,239.21 336.39,239.43 336.54,239.64 336.69,239.86 336.84,240.08 336.99,240.29 337.13,240.51 337.28,240.6 337.43,240.68 337.58,240.77 337.73,240.86 337.88,240.94 338.03,241.03 338.18,241.12 338.33,241.2 338.48,241.29 338.62,241.38 338.77,241.39 338.92,241.4 339.07,241.41 339.22,241.42 339.37,241.43 339.52,241.43 339.67,241.44 339.82,241.45 339.97,241.46 340.12,241.47 340.26,241.48 340.41,241.49 340.56,241.5 340.71,241.51 340.86,241.52 341.01,241.51 341.16,241.5 341.31,241.49 341.46,241.48 341.61,241.47 341.75,241.46 341.9,241.45 342.05,241.44 342.2,241.43 342.35,241.43 342.5,241.42 342.65,241.41 342.8,241.4 342.95,241.39 343.1,241.38 343.24,241.33 343.39,241.28 343.54,241.24 343.69,241.19 343.84,241.15 343.99,241.1 344.14,241.05 344.29,241.01 344.44,240.96 344.58,240.91 344.73,240.87 344.88,240.82 345.03,240.74 345.18,240.62 345.33,240.5 345.48,240.38 345.63,240.26 345.78,240.14 345.93,240.03 346.07,239.91 346.22,239.79 346.37,239.61 346.52,239.43 346.67,239.25 346.82,239.08 346.97,238.9 347.12,238.72 347.27,238.56 347.42,238.41 347.56,238.27 347.71,238.13 347.86,238.13 348.01,238.27 348.16,238.41 348.31,238.56 348.46,238.76 348.61,239.03 348.76,239.29 348.91,239.56 349.06,239.82 349.2,240.09 349.35,240.34 349.5,240.58 349.65,240.82 349.8,241.06 349.95,241.3 350.1,241.55 350.25,241.73 350.4,241.87 350.55,242 350.69,242.13 350.84,242.27 350.99,242.4 351.14,242.53 351.29,242.59 351.44,242.66 351.59,242.72 351.74,242.78 351.89,242.84 352.03,242.9 352.18,242.97 352.33,242.95 352.48,242.93 352.63,242.92 352.78,242.9 352.93,242.89 353.08,242.87 353.23,242.85 353.38,242.84 353.52,242.82 353.67,242.85 353.82,242.88 353.97,242.91 354.12,242.94 354.27,242.97 354.42,243 354.57,243.02 354.72,243.05 354.87,243.08 355.01,243.11 355.16,243.14 355.31,243.17 355.46,243.2 355.61,243.23 355.76,243.26 355.91,243.28 356.06,243.31 356.21,243.34 356.36,243.37 356.5,243.4 356.65,243.4 356.8,243.4 356.95,243.4 357.1,243.4 357.25,243.4 357.4,243.4 357.55,243.4 357.7,243.4 357.85,243.4 358,243.4 358.14,243.4 358.29,243.4 358.44,243.4 358.59,243.4 358.74,243.4 358.89,243.4 359.04,243.4 359.19,243.4 359.34,243.4 359.49,243.4 359.63,243.4 359.78,243.4 359.93,243.4 360.08,243.4 360.23,243.4 360.38,243.4 360.53,243.4 360.68,243.4 360.83,243.4 360.98,243.4 361.12,243.4 361.27,243.4 361.42,243.4 361.57,243.4 361.72,243.4 361.87,243.4 362.02,243.4 362.17,243.4 362.32,243.4 362.46,243.4 362.61,243.4 362.76,243.4 362.91,243.4 363.06,243.4 363.21,243.4 363.36,243.4 363.51,243.4 363.66,243.4 363.81,243.4 363.95,243.4 364.1,243.4 364.25,243.4 364.4,243.4 364.55,243.4 364.7,243.4 364.85,243.4 365,243.4 365.15,243.4 365.3,243.4 365.44,243.4 365.59,243.4 365.74,243.4 365.89,243.4 366.04,243.4 366.19,243.4 366.34,243.4 366.49,243.4 366.64,243.4 366.79,243.4 366.94,243.4 367.08,243.4 367.23,243.4 367.38,243.4 367.53,243.4 367.68,243.4 367.83,243.4 367.98,243.4 368.13,243.4 368.28,243.4 368.43,243.4 368.57,243.4 368.72,243.4 368.87,243.4 369.02,243.4 369.17,243.4 369.32,243.4 369.47,243.4 369.62,243.4 369.77,243.4 369.92,243.4 370.06,243.4 370.21,243.4 370.36,243.4 370.51,243.4 370.66,243.4 370.81,243.4 370.96,243.4 371.11,243.4 371.26,243.4 371.4,243.4 371.55,243.4 371.7,243.4 371.85,243.4 372,243.4 372.15,243.4 372.3,243.4 372.45,243.4 372.6,243.4 372.75,243.4 372.89,243.4 373.04,243.4 373.19,243.4 373.34,243.4 373.49,243.4 373.64,243.4 373.79,243.4 373.94,243.4 374.09,243.4 374.24,243.4 374.38,243.4 374.53,243.4 374.68,243.4 374.83,243.4 374.98,243.4 375.13,243.4 375.28,243.4 375.43,243.4 375.58,243.4 375.73,243.4 375.88,243.4 376.02,243.4 376.17,243.4 376.32,243.4 376.47,243.4 376.62,243.4 376.77,243.4 376.92,243.4 377.07,243.4 377.22,243.4 377.37,243.4 377.51,243.4 377.66,243.4 377.81,243.4 377.96,243.4 378.11,243.4 378.26,243.4 378.41,243.4 378.56,243.4 378.71,243.4 378.86,243.4 379,243.4 379.15,243.4 379.3,243.4 379.45,243.4 379.6,243.4 379.75,243.4 379.9,243.4 380.05,243.4 380.2,243.4 380.35,243.4 380.49,243.4 380.64,243.4 380.79,243.4 380.94,243.4 381.09,243.4 381.24,243.4 381.39,243.4 381.54,243.4 381.69,243.4 381.83,243.4 381.98,243.4 382.13,243.4 382.28,243.4 382.43,243.4 382.58,243.4 382.73,243.4 382.88,243.4 383.03,243.4 383.18,243.4 383.32,243.4 383.47,243.4 383.62,243.4 383.77,243.4 383.92,243.4 384.07,243.4 384.22,243.4 384.37,243.4 384.52,243.4 384.67,243.4 384.81,243.4 384.96,243.4 385.11,243.4 385.26,243.4 385.41,243.4 385.56,243.4 385.71,243.4 385.86,243.4 386.01,243.4 386.16,243.4 386.31,243.4 386.45,243.4 386.6,243.4 386.75,243.4 386.9,243.4 387.05,243.4 387.2,243.4 387.35,243.4 387.5,243.4 387.65,243.4 387.8,243.4 387.94,243.4 388.09,243.4 388.24,243.4 388.39,243.4 388.54,243.4 388.69,243.4 388.84,243.4 388.99,243.4 389.14,243.4 389.28,243.4 389.43,243.4 389.58,243.4 389.73,243.4 389.88,243.4 390.03,243.4 390.18,243.4 390.33,243.4 390.48,243.4 390.63,243.4 390.77,243.4 390.92,243.4 391.07,243.4 391.22,243.4 391.37,243.4 391.52,243.4 391.67,243.4 391.82,243.4 391.97,243.4 392.12,243.4 392.26,243.4 392.41,243.4 392.56,243.4 392.71,243.4 392.86,243.4 393.01,243.4 393.16,243.4 393.31,243.4 393.46,243.4 393.61,243.4 393.75,243.4 393.9,243.4 394.05,243.4 394.2,243.4 394.35,243.4 394.5,243.4" fill="none" stroke="#2a2a2a" stroke-width="0.95" stroke-linejoin="round"/>
<rect x="318.6" y="185.6" width="78.2" height="59.1" fill="none" stroke="#888" stroke-width="1.4"/>
<line x1="318.6" y1="185.6" x2="318.6" y2="244.7" stroke="#111" stroke-width="0.9"/>
<line x1="318.6" y1="244.7" x2="396.8" y2="244.7" stroke="#111" stroke-width="0.9"/>
<text transform="translate(358.2 192.4) scale(0.95 1)" font-size="6.2" fill="#000" stroke="#000" stroke-width="0.16">sub G1 = 45.7</text>
<text transform="translate(358.2 199.5) scale(0.95 1)" font-size="6.2" fill="#000" stroke="#000" stroke-width="0.16">G1 = 39.3</text>
<text transform="translate(358.2 206.6) scale(0.95 1)" font-size="6.2" fill="#000" stroke="#000" stroke-width="0.16">G2/M = 5.2</text>
<text transform="translate(358.2 213.7) scale(0.95 1)" font-size="6.2" fill="#000" stroke="#000" stroke-width="0.16">S = 9.8</text>
<text x="413.4" y="9.6" font-size="10.4" font-weight="bold" fill="#000" stroke="#000" stroke-width="0.08">C</text>
<text x="473.3" y="21.6" font-size="9.3" font-weight="bold" text-anchor="middle" fill="#000" stroke="#000" stroke-width="0.08">72 h</text>
<text x="421" y="138.7" font-size="8.7" text-anchor="middle" transform="rotate(-90 421 138.7)" fill="#000" stroke="#000" stroke-width="0.08">Propidium Iodide Staining</text>
<text x="477" y="262.8" font-size="8.6" text-anchor="middle" fill="#000" stroke="#000" stroke-width="0.08">Annexin Staining</text>
<path d="M487.5 46h1v1h-1zM477 35h1v1h-1zM481 43h1v1h-1zM479 49.5h1v1h-1zM484 66h1v1h-1zM482.5 39h1v1h-1zM478 45h1v1h-1zM479.5 41h1v1h-1zM482.5 38h1v1h-1zM479 48h1v1h-1zM473 36.5h1v1h-1zM483.5 51h1v1h-1zM472 44.5h1v1h-1zM480.5 36h1v1h-1zM476 37.5h1v1h-1zM465 42h1v1h-1zM478 53h1v1h-1zM484 59h1v1h-1zM474 32h1v1h-1zM474 56.5h1v1h-1zM484.5 45.5h1v1h-1zM471.5 48.5h1v1h-1zM472.5 54.5h1v1h-1zM476.5 35.5h1v1h-1zM482 53.5h1v1h-1zM482 32h1v1h-1zM475 40.5h1v1h-1zM476.5 36.5h1v1h-1zM478.5 62h1v1h-1zM476 61.5h1v1h-1zM473 52.5h1v1h-1zM471.5 50h1v1h-1zM477 62.5h1v1h-1zM495.5 59h1v1h-1zM482 54h1v1h-1zM473.5 44h1v1h-1zM478 41.5h1v1h-1zM480.5 58.5h1v1h-1zM481 36h1v1h-1zM481 46.5h1v1h-1zM477.5 61.5h1v1h-1zM491 62.5h1v1h-1zM475.5 49.5h1v1h-1zM476 49.5h1v1h-1zM482.5 59h1v1h-1zM485.5 52h1v1h-1zM483 48.5h1v1h-1zM485.5 40h1v1h-1zM478 30.5h1v1h-1zM477 60h1v1h-1zM482 41h1v1h-1zM482 38h1v1h-1zM487.5 36.5h1v1h-1zM467 32h1v1h-1zM483 39.5h1v1h-1zM474 45h1v1h-1zM465.5 48h1v1h-1zM480.5 50.5h1v1h-1zM477 55h1v1h-1zM476 44.5h1v1h-1zM470.5 49h1v1h-1zM477 39h1v1h-1zM469 49.5h1v1h-1zM477.5 49h1v1h-1zM479 64h1v1h-1zM477 51.5h1v1h-1zM480 38.5h1v1h-1zM477.5 51.5h1v1h-1zM471 43h1v1h-1zM472 61h1v1h-1zM484 39h1v1h-1zM479 39h1v1h-1zM475 46.5h1v1h-1zM479 44h1v1h-1zM467 30h1v1h-1zM476 47.5h1v1h-1zM477.5 60h1v1h-1zM476 60h1v1h-1zM476.5 41.5h1v1h-1zM471 50h1v1h-1zM474.5 37h1v1h-1zM479.5 31h1v1h-1zM467 57.5h1v1h-1zM471 52h1v1h-1zM476 42h1v1h-1zM487 42h1v1h-1zM482 54.5h1v1h-1zM486 42h1v1h-1zM475.5 48.5h1v1h-1zM477.5 45.5h1v1h-1zM471 41.5h1v1h-1zM482.5 54.5h1v1h-1zM481.5 41h1v1h-1zM482 34h1v1h-1zM481 63.5h1v1h-1zM479.5 58h1v1h-1zM479.5 50.5h1v1h-1zM485 45h1v1h-1zM473.5 47.5h1v1h-1zM472 31.5h1v1h-1zM478 45.5h1v1h-1zM485 48.5h1v1h-1zM479.5 43.5h1v1h-1zM477 50h1v1h-1zM483 38h1v1h-1zM465.5 39h1v1h-1zM465 40h1v1h-1zM447 47h1v1h-1zM464.5 32h1v1h-1zM458 63.5h1v1h-1zM458.5 59.5h1v1h-1zM451 49h1v1h-1zM453.5 66.5h1v1h-1zM452 54h1v1h-1zM452 40h1v1h-1zM453.5 61.5h1v1h-1zM449.5 53h1v1h-1zM454.5 37h1v1h-1zM451 57h1v1h-1zM455 46.5h1v1h-1zM457.5 43.5h1v1h-1zM469 45h1v1h-1zM448.5 45.5h1v1h-1zM468.5 66.5h1v1h-1zM453 40.5h1v1h-1zM448 46h1v1h-1zM443.5 63h1v1h-1zM462 65h1v1h-1zM443 40.5h1v1h-1zM462 70.5h1v1h-1zM457.5 61h1v1h-1zM450.5 35.5h1v1h-1zM450 68h1v1h-1zM459 35.5h1v1h-1zM456 56.5h1v1h-1zM461 38.5h1v1h-1zM455 32.5h1v1h-1zM451 58.5h1v1h-1zM459 54h1v1h-1zM445.5 49h1v1h-1zM461.5 52h1v1h-1z" fill="#666"/>
<path d="M476.5 70.5h1v1h-1zM475.5 81.5h1v1h-1zM470 69h1v1h-1zM481 68h1v1h-1zM477 71h1v1h-1zM475.5 77.5h1v1h-1zM473.5 73h1v1h-1zM475 69h1v1h-1zM467 84h1v1h-1zM475 71.5h1v1h-1zM470.5 76.5h1v1h-1zM485.5 78.5h1v1h-1zM471 74h1v1h-1zM474 79h1v1h-1zM477 80.5h1v1h-1zM482 76.5h1v1h-1zM480 83h1v1h-1zM477 73.5h1v1h-1zM491 70.5h1v1h-1zM477 78h1v1h-1zM479 71h1v1h-1zM494.5 79.5h1v1h-1zM471.5 76.5h1v1h-1zM483 74h1v1h-1zM480 80.5h1v1h-1zM468.5 80h1v1h-1zM473 59.5h1v1h-1zM482.5 75h1v1h-1zM467.5 78h1v1h-1zM476 80h1v1h-1zM475.5 70h1v1h-1zM478.5 78h1v1h-1zM472.5 81h1v1h-1zM473 64.5h1v1h-1zM473 68h1v1h-1zM474.5 73.5h1v1h-1zM481 61.5h1v1h-1zM477.5 73.5h1v1h-1zM489.5 82h1v1h-1zM480.5 70.5h1v1h-1zM479 78h1v1h-1zM491.5 71.5h1v1h-1zM476.5 79.5h1v1h-1zM472 81h1v1h-1zM478 85h1v1h-1zM470 77.5h1v1h-1zM480.5 83.5h1v1h-1zM486 79.5h1v1h-1zM481 74h1v1h-1zM474.5 86h1v1h-1zM476 73.5h1v1h-1zM480 78h1v1h-1zM474.5 82h1v1h-1zM474.5 72h1v1h-1zM484 79h1v1h-1zM478.5 73.5h1v1h-1zM479 76h1v1h-1zM480 68h1v1h-1zM472 78.5h1v1h-1zM476 67.5h1v1h-1zM476 79h1v1h-1zM475.5 82h1v1h-1zM479.5 67h1v1h-1zM493.5 70h1v1h-1zM472 71h1v1h-1zM478 73.5h1v1h-1zM490 82.5h1v1h-1zM477.5 75h1v1h-1zM479.5 73.5h1v1h-1zM467.5 70h1v1h-1zM483.5 73h1v1h-1zM482.5 74.5h1v1h-1zM482.5 76.5h1v1h-1zM476 68.5h1v1h-1zM479.5 76.5h1v1h-1zM476.5 80.5h1v1h-1zM482.5 79h1v1h-1zM477 69.5h1v1h-1zM482 82h1v1h-1zM468.5 82h1v1h-1zM475 79h1v1h-1zM458.5 69.5h1v1h-1zM476 68h1v1h-1zM482 77h1v1h-1zM475.5 71h1v1h-1zM492 69h1v1h-1zM470.5 82.5h1v1h-1zM475 82.5h1v1h-1zM471 81h1v1h-1zM474 85h1v1h-1zM474 82.5h1v1h-1zM470.5 84h1v1h-1zM490 77.5h1v1h-1zM475.5 79.5h1v1h-1zM483 86.5h1v1h-1zM469 79.5h1v1h-1zM476.5 86.5h1v1h-1zM480.5 77.5h1v1h-1zM476 74.5h1v1h-1zM476 76h1v1h-1zM477 67h1v1h-1zM485 76.5h1v1h-1zM468.5 74h1v1h-1zM463.5 63.5h1v1h-1zM476 64h1v1h-1zM477 81h1v1h-1zM481.5 71h1v1h-1zM484 85h1v1h-1zM472.5 72.5h1v1h-1zM490.5 79h1v1h-1zM478.5 68.5h1v1h-1zM465.5 73h1v1h-1zM483 75.5h1v1h-1zM479 80.5h1v1h-1zM479 87h1v1h-1zM466.5 83h1v1h-1zM475 68.5h1v1h-1zM478 77h1v1h-1zM481.5 73h1v1h-1zM485 80.5h1v1h-1zM487 86.5h1v1h-1zM485 74.5h1v1h-1zM476 83.5h1v1h-1zM488 85.5h1v1h-1zM478.5 70.5h1v1h-1zM482.5 87.5h1v1h-1zM475.5 87h1v1h-1zM468 79h1v1h-1zM462.5 87.5h1v1h-1zM478 78.5h1v1h-1zM472.5 84h1v1h-1zM483 72h1v1h-1zM467 78.5h1v1h-1zM465.5 76h1v1h-1zM478.5 74h1v1h-1zM479.5 70h1v1h-1zM475.5 72.5h1v1h-1zM473.5 69.5h1v1h-1zM466.5 84h1v1h-1zM476.5 65h1v1h-1zM472 77.5h1v1h-1zM480 73.5h1v1h-1zM483 69.5h1v1h-1zM473.5 81.5h1v1h-1zM479.5 72h1v1h-1zM478 84.5h1v1h-1zM481.5 76h1v1h-1zM487 79h1v1h-1zM481.5 81h1v1h-1zM482 82.5h1v1h-1zM474.5 74.5h1v1h-1zM477 77h1v1h-1zM479.5 87.5h1v1h-1zM485 73.5h1v1h-1zM485.5 88h1v1h-1zM491.5 74.5h1v1h-1zM470 73.5h1v1h-1zM466 72h1v1h-1zM473.5 66.5h1v1h-1zM466.5 73.5h1v1h-1zM484.5 81h1v1h-1zM482 73h1v1h-1zM488.5 68.5h1v1h-1zM482.5 69.5h1v1h-1zM476.5 78.5h1v1h-1zM481 71.5h1v1h-1zM479 81h1v1h-1zM474 86h1v1h-1zM469 73h1v1h-1zM484 76.5h1v1h-1zM472.5 69.5h1v1h-1zM475.5 67.5h1v1h-1zM482 85.5h1v1h-1zM484.5 72.5h1v1h-1z" fill="#555"/>
<path d="M449.5 82h1v1h-1zM457.5 77.5h1v1h-1zM456.5 73h1v1h-1zM446.5 83.5h1v1h-1zM448 86h1v1h-1zM446.5 88h1v1h-1zM452.5 79h1v1h-1zM449 80h1v1h-1zM454 84.5h1v1h-1zM439 88h1v1h-1zM458.5 79h1v1h-1zM449 83h1v1h-1zM453.5 76h1v1h-1zM448.5 82.5h1v1h-1zM447.5 77.5h1v1h-1zM452 79h1v1h-1zM454 78.5h1v1h-1zM448.5 78.5h1v1h-1zM448.5 72.5h1v1h-1zM444.5 83h1v1h-1zM441 82.5h1v1h-1zM452 78h1v1h-1zM445.5 83h1v1h-1zM439 86h1v1h-1zM445 85h1v1h-1zM447 78h1v1h-1zM442.5 82h1v1h-1zM441 81.5h1v1h-1zM449.5 76.5h1v1h-1zM454.5 73h1v1h-1zM448 80h1v1h-1zM445.5 78h1v1h-1zM453.5 78.5h1v1h-1zM452.5 77.5h1v1h-1zM448.5 77h1v1h-1zM445 81h1v1h-1zM451.5 76.5h1v1h-1zM451 79h1v1h-1zM456 78h1v1h-1zM442 86.5h1v1h-1zM445.5 76h1v1h-1zM444.5 81.5h1v1h-1zM439.5 88h1v1h-1zM450 78h1v1h-1zM452.5 78.5h1v1h-1zM457.5 67.5h1v1h-1zM453 83.5h1v1h-1zM452 77.5h1v1h-1zM455 71.5h1v1h-1zM442 83.5h1v1h-1zM453 79.5h1v1h-1zM453 83h1v1h-1zM439.5 86.5h1v1h-1zM451.5 78.5h1v1h-1zM448 82h1v1h-1zM454 72h1v1h-1zM447 85h1v1h-1zM449.5 81h1v1h-1zM451.5 83.5h1v1h-1zM444.5 85.5h1v1h-1zM453 78h1v1h-1zM449 79.5h1v1h-1zM452.5 76h1v1h-1zM446.5 73h1v1h-1zM455.5 78h1v1h-1zM448.5 76.5h1v1h-1zM453 82h1v1h-1zM456.5 78.5h1v1h-1zM459.5 79h1v1h-1zM440.5 80h1v1h-1zM454.5 72h1v1h-1zM452 82.5h1v1h-1zM449 82.5h1v1h-1zM444 81.5h1v1h-1zM456.5 76.5h1v1h-1zM442.5 81h1v1h-1zM457 76h1v1h-1zM440.5 75h1v1h-1zM448 83.5h1v1h-1zM442 76.5h1v1h-1zM451 78.5h1v1h-1zM458 76.5h1v1h-1zM461 77.5h1v1h-1zM439.5 77h1v1h-1zM446 85.5h1v1h-1zM453.5 81.5h1v1h-1zM458.5 80.5h1v1h-1zM452 84.5h1v1h-1zM445 78.5h1v1h-1zM451 67.5h1v1h-1zM449.5 81.5h1v1h-1zM448.5 85.5h1v1h-1zM445.5 86h1v1h-1zM451.5 77.5h1v1h-1zM451.5 79.5h1v1h-1zM449 81.5h1v1h-1zM448 73.5h1v1h-1zM442 80h1v1h-1zM446.5 78.5h1v1h-1zM456.5 84h1v1h-1zM448.5 78h1v1h-1zM441.5 88h1v1h-1zM457 78h1v1h-1zM452.5 73h1v1h-1zM450 76.5h1v1h-1zM447 83.5h1v1h-1zM441 88h1v1h-1zM464 71h1v1h-1zM445 85.5h1v1h-1zM446 81.5h1v1h-1zM453 74.5h1v1h-1zM445 77.5h1v1h-1zM448 79h1v1h-1zM447.5 84.5h1v1h-1zM450.5 79h1v1h-1zM455.5 81h1v1h-1zM449.5 86.5h1v1h-1zM454.5 83.5h1v1h-1zM447 86.5h1v1h-1zM451.5 84.5h1v1h-1zM439 77.5h1v1h-1zM441 87.5h1v1h-1zM454 80h1v1h-1zM446 80.5h1v1h-1zM453 75h1v1h-1zM457 73.5h1v1h-1zM454 79h1v1h-1zM455.5 74h1v1h-1zM449 77h1v1h-1zM445.5 79h1v1h-1zM445.5 84h1v1h-1zM446.5 80h1v1h-1zM443 81.5h1v1h-1zM446.5 86h1v1h-1zM449 79h1v1h-1zM451 82h1v1h-1zM447.5 76.5h1v1h-1zM439 84.5h1v1h-1zM449 81h1v1h-1zM451 80.5h1v1h-1zM455.5 76.5h1v1h-1zM453 75.5h1v1h-1zM446 80h1v1h-1zM445.5 79.5h1v1h-1zM461 81h1v1h-1zM454 82.5h1v1h-1zM460 72.5h1v1h-1zM461.5 79h1v1h-1zM445 79.5h1v1h-1zM451.5 81.5h1v1h-1zM452.5 73.5h1v1h-1zM452.5 83h1v1h-1zM450.5 81.5h1v1h-1zM450.5 75h1v1h-1zM441 75.5h1v1h-1zM445 77h1v1h-1zM450 78.5h1v1h-1zM453 85h1v1h-1zM454 77.5h1v1h-1zM451.5 85h1v1h-1zM451.5 84h1v1h-1zM447 74.5h1v1h-1zM448.5 84h1v1h-1zM449.5 85.5h1v1h-1zM442 88h1v1h-1zM454.5 74.5h1v1h-1zM445 82h1v1h-1zM445.5 80.5h1v1h-1zM448.5 87.5h1v1h-1zM451 68h1v1h-1zM446 86.5h1v1h-1zM443.5 78.5h1v1h-1zM444.5 84.5h1v1h-1zM450 81h1v1h-1zM443 84.5h1v1h-1zM440.5 79h1v1h-1zM459.5 82.5h1v1h-1zM441 84.5h1v1h-1zM452 79.5h1v1h-1zM452.5 82h1v1h-1zM441 80.5h1v1h-1zM451 87h1v1h-1zM455 79.5h1v1h-1zM452 81h1v1h-1zM451 81h1v1h-1zM455 75h1v1h-1zM450.5 75.5h1v1h-1zM451.5 80.5h1v1h-1zM449 82h1v1h-1zM453 84.5h1v1h-1zM444 83.5h1v1h-1zM454 74.5h1v1h-1zM446.5 83h1v1h-1zM443.5 85.5h1v1h-1zM459 78.5h1v1h-1zM455 74h1v1h-1zM446.5 85.5h1v1h-1zM453.5 76.5h1v1h-1zM447 83h1v1h-1zM449 74.5h1v1h-1zM450 83h1v1h-1zM439 81h1v1h-1zM450.5 84h1v1h-1zM443.5 88h1v1h-1zM441 78.5h1v1h-1zM441 79h1v1h-1zM444 78.5h1v1h-1zM454 81.5h1v1h-1zM459 79h1v1h-1zM455.5 79.5h1v1h-1zM448 83h1v1h-1zM450.5 86.5h1v1h-1zM447 82h1v1h-1zM451 72.5h1v1h-1zM453 74h1v1h-1zM444.5 79h1v1h-1zM441 78h1v1h-1zM448 81.5h1v1h-1zM448.5 84.5h1v1h-1zM447.5 79h1v1h-1zM455 76.5h1v1h-1zM459.5 75.5h1v1h-1zM447 81.5h1v1h-1zM453.5 77h1v1h-1zM455 80.5h1v1h-1zM453.5 80h1v1h-1zM455.5 80h1v1h-1zM447.5 84h1v1h-1zM453.5 79h1v1h-1zM454 85.5h1v1h-1zM446 81h1v1h-1zM453 82.5h1v1h-1zM451.5 78h1v1h-1zM446.5 79.5h1v1h-1zM458.5 74.5h1v1h-1zM442.5 82.5h1v1h-1zM452.5 77h1v1h-1zM449.5 78.5h1v1h-1zM442.5 87h1v1h-1zM456.5 77.5h1v1h-1zM443 83h1v1h-1zM447 78.5h1v1h-1zM439 84h1v1h-1zM451 83h1v1h-1zM450.5 81h1v1h-1zM450 83.5h1v1h-1zM452 75h1v1h-1zM448.5 77.5h1v1h-1zM456 80h1v1h-1zM450.5 83h1v1h-1zM451 78h1v1h-1zM443.5 80.5h1v1h-1zM458 73h1v1h-1zM451.5 74h1v1h-1zM448 80.5h1v1h-1zM451.5 73h1v1h-1zM447 77h1v1h-1zM451 77h1v1h-1zM445.5 77h1v1h-1zM440.5 81h1v1h-1zM457 77.5h1v1h-1zM446.5 77h1v1h-1zM448 82.5h1v1h-1zM447.5 82h1v1h-1zM450.5 78h1v1h-1zM443 83.5h1v1h-1zM452 80h1v1h-1zM470 74.5h1v1h-1zM439 82h1v1h-1zM443 77.5h1v1h-1zM452 82h1v1h-1zM459 77.5h1v1h-1zM445.5 81.5h1v1h-1zM450.5 80h1v1h-1zM466 71.5h1v1h-1zM445 82.5h1v1h-1zM444.5 74.5h1v1h-1zM449.5 80h1v1h-1zM454.5 77.5h1v1h-1zM450 82.5h1v1h-1zM445 80.5h1v1h-1zM464.5 77.5h1v1h-1zM456.5 77h1v1h-1zM439 83h1v1h-1zM444.5 87.5h1v1h-1zM453 81.5h1v1h-1zM448.5 82h1v1h-1zM460.5 72h1v1h-1zM455 81h1v1h-1zM454.5 73.5h1v1h-1zM449.5 76h1v1h-1zM451.5 87h1v1h-1zM457 71.5h1v1h-1zM452.5 84h1v1h-1zM447.5 83.5h1v1h-1zM457 71h1v1h-1zM450.5 78.5h1v1h-1zM449 85.5h1v1h-1zM446.5 74.5h1v1h-1zM446 79h1v1h-1zM439 80h1v1h-1zM455.5 74.5h1v1h-1zM452.5 76.5h1v1h-1zM455.5 78.5h1v1h-1zM452 78.5h1v1h-1zM439 86.5h1v1h-1zM452.5 75.5h1v1h-1zM458.5 83h1v1h-1zM457.5 76.5h1v1h-1zM453 77.5h1v1h-1zM455 83.5h1v1h-1zM451 84h1v1h-1zM441 86.5h1v1h-1zM451.5 83h1v1h-1zM449 86.5h1v1h-1zM451.5 72h1v1h-1zM454 84h1v1h-1zM452.5 81h1v1h-1zM446 82.5h1v1h-1zM459.5 81h1v1h-1zM449 78h1v1h-1zM451.5 79h1v1h-1zM446.5 80.5h1v1h-1zM450 84h1v1h-1zM451 75h1v1h-1zM442.5 84.5h1v1h-1zM446 76.5h1v1h-1zM449 74h1v1h-1zM458.5 79.5h1v1h-1zM446.5 81.5h1v1h-1zM452 75.5h1v1h-1zM451.5 75.5h1v1h-1zM458.5 75.5h1v1h-1zM445 81.5h1v1h-1zM452.5 81.5h1v1h-1zM445 88h1v1h-1zM449.5 80.5h1v1h-1zM448 75.5h1v1h-1zM458 78h1v1h-1zM447 84.5h1v1h-1zM441 74.5h1v1h-1zM449.5 75h1v1h-1zM441.5 87.5h1v1h-1zM450.5 76.5h1v1h-1zM442.5 80.5h1v1h-1zM442.5 76.5h1v1h-1zM450 77.5h1v1h-1zM449 78.5h1v1h-1zM440 82h1v1h-1zM462 74h1v1h-1zM441 80h1v1h-1zM460 77h1v1h-1zM445.5 82.5h1v1h-1zM448.5 87h1v1h-1zM441.5 83h1v1h-1zM457 78.5h1v1h-1zM448 76.5h1v1h-1zM441 76.5h1v1h-1zM447.5 77h1v1h-1zM439.5 78.5h1v1h-1zM447 85.5h1v1h-1zM450.5 79.5h1v1h-1zM455.5 72.5h1v1h-1zM457 77h1v1h-1zM447 87.5h1v1h-1zM452 74h1v1h-1zM447.5 82.5h1v1h-1zM447.5 85.5h1v1h-1zM455.5 82h1v1h-1zM459 76h1v1h-1zM451 80h1v1h-1zM448.5 81.5h1v1h-1zM449.5 79.5h1v1h-1zM443.5 86.5h1v1h-1zM463 74.5h1v1h-1zM453.5 81h1v1h-1zM450.5 76h1v1h-1zM439 85.5h1v1h-1zM453.5 75.5h1v1h-1zM459 80.5h1v1h-1zM455 79h1v1h-1zM457 82h1v1h-1zM449 75.5h1v1h-1zM440.5 82h1v1h-1zM442.5 78.5h1v1h-1zM455 78h1v1h-1zM439 75.5h1v1h-1zM443 84h1v1h-1zM445.5 80h1v1h-1zM446 76h1v1h-1zM447.5 83h1v1h-1zM447 80h1v1h-1zM456 81h1v1h-1zM453.5 73h1v1h-1zM447.5 79.5h1v1h-1zM443.5 87.5h1v1h-1zM443.5 77.5h1v1h-1zM451.5 72.5h1v1h-1zM454 76h1v1h-1zM450.5 72h1v1h-1zM455.5 72h1v1h-1zM448 85.5h1v1h-1zM452 76h1v1h-1zM449.5 83.5h1v1h-1zM454 75.5h1v1h-1zM442.5 79h1v1h-1zM457.5 73h1v1h-1zM441.5 78.5h1v1h-1zM453 80h1v1h-1zM457 81.5h1v1h-1zM454.5 69h1v1h-1zM440.5 83h1v1h-1zM445 83.5h1v1h-1zM447 75h1v1h-1zM444 83h1v1h-1zM456 78.5h1v1h-1zM450.5 82.5h1v1h-1zM449.5 77.5h1v1h-1zM452.5 80.5h1v1h-1zM444 79h1v1h-1zM444.5 83.5h1v1h-1zM444.5 82h1v1h-1zM455.5 82.5h1v1h-1zM442 85.5h1v1h-1zM446.5 78h1v1h-1zM455.5 75h1v1h-1zM449.5 79h1v1h-1zM455.5 83h1v1h-1zM447.5 78h1v1h-1zM449.5 83h1v1h-1zM452 83.5h1v1h-1zM440.5 72h1v1h-1zM444.5 77h1v1h-1zM450.5 74h1v1h-1zM444 81h1v1h-1zM442.5 87.5h1v1h-1zM448.5 75.5h1v1h-1zM448.5 79h1v1h-1zM457 72.5h1v1h-1zM448 86.5h1v1h-1zM444 86h1v1h-1zM454 82h1v1h-1zM443 86.5h1v1h-1zM457 76.5h1v1h-1zM454 74h1v1h-1zM458.5 77h1v1h-1zM445 80h1v1h-1zM451 72h1v1h-1zM440 83h1v1h-1zM439.5 76h1v1h-1zM439 81.5h1v1h-1zM462.5 71h1v1h-1zM450 74.5h1v1h-1zM447.5 81.5h1v1h-1zM453 80.5h1v1h-1zM459 72.5h1v1h-1zM441.5 84h1v1h-1zM458.5 80h1v1h-1zM460.5 76h1v1h-1zM444 85.5h1v1h-1zM459.5 78.5h1v1h-1zM450 76h1v1h-1zM458 81h1v1h-1zM451.5 77h1v1h-1zM458 79.5h1v1h-1zM457 83h1v1h-1zM454.5 79.5h1v1h-1zM441.5 87h1v1h-1zM440.5 87.5h1v1h-1zM444 84h1v1h-1zM443.5 86h1v1h-1zM448.5 80h1v1h-1zM443.5 81.5h1v1h-1zM456.5 73.5h1v1h-1zM441.5 80h1v1h-1zM452.5 79.5h1v1h-1zM451 79.5h1v1h-1zM446 74.5h1v1h-1zM446.5 74h1v1h-1zM451 85.5h1v1h-1zM458 77h1v1h-1zM439 87.5h1v1h-1zM439.5 82h1v1h-1zM442.5 83h1v1h-1zM449 85h1v1h-1zM463.5 76.5h1v1h-1zM456.5 78h1v1h-1zM439 83.5h1v1h-1zM450.5 85h1v1h-1zM442 78h1v1h-1zM456 72h1v1h-1zM456 85h1v1h-1zM458 82h1v1h-1zM445 86.5h1v1h-1zM443 87h1v1h-1zM454.5 76h1v1h-1zM443.5 82.5h1v1h-1zM454.5 68.5h1v1h-1zM442.5 80h1v1h-1zM450 74h1v1h-1zM447 73h1v1h-1zM453.5 73.5h1v1h-1zM442.5 73.5h1v1h-1zM459.5 78h1v1h-1zM447.5 85h1v1h-1zM443 76h1v1h-1zM457.5 76h1v1h-1zM448.5 81h1v1h-1zM444.5 81h1v1h-1zM449.5 82.5h1v1h-1zM445.5 85.5h1v1h-1zM447.5 81h1v1h-1zM451.5 76h1v1h-1zM450 79h1v1h-1zM463.5 80h1v1h-1zM448.5 83.5h1v1h-1zM461 78.5h1v1h-1zM443 87.5h1v1h-1zM453.5 83.5h1v1h-1zM444.5 79.5h1v1h-1zM446.5 85h1v1h-1zM451.5 73.5h1v1h-1zM449 84.5h1v1h-1zM446 83.5h1v1h-1zM456 79h1v1h-1zM445.5 85h1v1h-1zM461 80h1v1h-1zM457 79h1v1h-1zM448.5 80.5h1v1h-1zM441.5 76.5h1v1h-1zM455 72.5h1v1h-1zM450 84.5h1v1h-1zM457.5 79h1v1h-1zM443.5 85h1v1h-1zM457.5 75h1v1h-1zM450.5 69h1v1h-1zM446.5 81h1v1h-1zM460 81.5h1v1h-1zM455 76h1v1h-1zM439.5 82.5h1v1h-1zM450 82h1v1h-1zM448.5 79.5h1v1h-1zM446.5 82.5h1v1h-1zM441 79.5h1v1h-1zM454.5 85.5h1v1h-1zM445.5 87.5h1v1h-1zM444 84.5h1v1h-1zM447 79.5h1v1h-1zM455 82.5h1v1h-1zM450 75h1v1h-1zM439 78h1v1h-1zM446.5 75h1v1h-1zM449.5 85h1v1h-1zM440.5 88h1v1h-1zM456.5 80.5h1v1h-1zM444.5 86h1v1h-1zM457.5 77h1v1h-1zM445.5 82h1v1h-1zM443.5 79h1v1h-1zM445.5 88h1v1h-1zM439 72.5h1v1h-1zM463.5 72h1v1h-1zM444.5 71.5h1v1h-1zM456.5 80h1v1h-1zM444 88h1v1h-1zM456 79.5h1v1h-1zM447.5 80h1v1h-1zM441.5 81h1v1h-1zM441.5 83.5h1v1h-1zM462 73.5h1v1h-1zM460 82h1v1h-1zM448.5 76h1v1h-1zM453.5 80.5h1v1h-1zM442 81h1v1h-1zM442 82.5h1v1h-1zM447.5 74.5h1v1h-1zM453.5 75h1v1h-1zM456 73h1v1h-1zM462 75.5h1v1h-1zM448.5 85h1v1h-1zM454.5 75h1v1h-1zM452 83h1v1h-1zM450.5 82h1v1h-1zM452.5 86h1v1h-1zM464 77.5h1v1h-1zM451 83.5h1v1h-1zM460.5 77h1v1h-1zM450 79.5h1v1h-1zM451 74.5h1v1h-1zM455.5 80.5h1v1h-1zM459 74.5h1v1h-1zM442.5 85h1v1h-1zM448 77h1v1h-1zM439.5 81h1v1h-1zM444.5 77.5h1v1h-1zM455.5 84.5h1v1h-1zM441 75h1v1h-1zM458 71.5h1v1h-1zM455 80h1v1h-1zM450 80.5h1v1h-1zM452.5 80h1v1h-1zM449 87h1v1h-1zM461.5 82h1v1h-1zM451 81.5h1v1h-1zM453 81h1v1h-1zM452 85.5h1v1h-1zM452 84h1v1h-1zM441 83.5h1v1h-1zM443 85.5h1v1h-1zM444 80h1v1h-1zM457.5 78.5h1v1h-1zM457.5 69.5h1v1h-1zM439 82.5h1v1h-1zM456.5 71h1v1h-1zM442 83h1v1h-1zM463.5 77h1v1h-1zM458.5 71h1v1h-1zM454.5 81.5h1v1h-1zM463.5 75h1v1h-1zM450 81.5h1v1h-1zM442 79.5h1v1h-1zM452.5 85h1v1h-1zM443.5 83h1v1h-1zM440.5 84h1v1h-1zM446 83h1v1h-1zM443 85h1v1h-1zM441 85h1v1h-1zM446 74h1v1h-1zM455 72h1v1h-1zM454 85h1v1h-1zM444 75.5h1v1h-1zM454.5 75.5h1v1h-1zM450 75.5h1v1h-1zM447 75.5h1v1h-1zM457.5 81h1v1h-1zM454.5 79h1v1h-1zM456.5 79.5h1v1h-1zM445 87.5h1v1h-1zM450 69.5h1v1h-1zM458 75.5h1v1h-1zM454.5 77h1v1h-1zM455 78.5h1v1h-1zM457.5 81.5h1v1h-1zM445.5 87h1v1h-1zM448 78h1v1h-1zM449.5 77h1v1h-1zM444 87.5h1v1h-1zM439 79.5h1v1h-1zM456 69h1v1h-1zM442 85h1v1h-1zM447 82.5h1v1h-1zM452.5 74.5h1v1h-1zM452 80.5h1v1h-1zM446 78h1v1h-1zM447.5 80.5h1v1h-1zM446 79.5h1v1h-1zM443 82.5h1v1h-1zM449 69.5h1v1h-1zM462.5 75.5h1v1h-1zM448 79.5h1v1h-1zM450 77h1v1h-1zM452.5 83.5h1v1h-1zM452 77h1v1h-1zM439 78.5h1v1h-1zM462.5 78h1v1h-1zM454 76.5h1v1h-1zM454.5 83h1v1h-1zM450.5 80.5h1v1h-1zM463 75h1v1h-1zM443.5 83.5h1v1h-1zM441.5 82h1v1h-1zM457.5 78h1v1h-1zM455.5 73.5h1v1h-1zM457.5 74h1v1h-1zM458.5 75h1v1h-1zM458 83h1v1h-1zM443 73.5h1v1h-1zM452.5 74h1v1h-1zM441.5 84.5h1v1h-1zM450.5 84.5h1v1h-1zM449.5 74.5h1v1h-1zM449.5 78h1v1h-1zM439.5 78h1v1h-1zM460 74.5h1v1h-1zM440.5 85.5h1v1h-1zM454 79.5h1v1h-1zM456.5 76h1v1h-1zM466 77h1v1h-1zM451 73h1v1h-1zM458 72.5h1v1h-1zM453.5 72.5h1v1h-1zM452.5 84.5h1v1h-1zM460.5 75h1v1h-1zM441.5 85.5h1v1h-1zM449.5 74h1v1h-1zM448.5 74h1v1h-1zM453.5 79.5h1v1h-1zM455 73h1v1h-1zM446 77h1v1h-1zM451 77.5h1v1h-1zM446 82h1v1h-1zM450.5 71h1v1h-1zM443 78h1v1h-1zM442 81.5h1v1h-1zM451 86h1v1h-1zM455.5 77.5h1v1h-1zM451.5 81h1v1h-1zM457 75.5h1v1h-1zM453.5 77.5h1v1h-1zM463.5 76h1v1h-1zM457.5 80h1v1h-1zM455 82h1v1h-1zM453 77h1v1h-1zM447 84h1v1h-1zM440 84h1v1h-1zM446.5 77.5h1v1h-1zM449 83.5h1v1h-1zM443 75.5h1v1h-1zM454.5 80h1v1h-1zM441 77h1v1h-1zM450.5 70h1v1h-1zM449 76h1v1h-1zM447.5 87h1v1h-1zM459 78h1v1h-1zM446.5 71.5h1v1h-1zM460.5 79h1v1h-1zM457.5 82h1v1h-1zM459.5 79.5h1v1h-1zM454 72.5h1v1h-1zM446 88h1v1h-1zM439.5 84.5h1v1h-1zM441 82h1v1h-1zM446 72h1v1h-1zM447.5 74h1v1h-1zM443 80.5h1v1h-1zM443.5 76.5h1v1h-1zM463.5 74h1v1h-1zM446.5 79h1v1h-1zM441 76h1v1h-1zM442.5 78h1v1h-1zM451.5 86h1v1h-1zM453.5 82h1v1h-1zM454.5 71.5h1v1h-1zM439 79h1v1h-1zM461.5 80.5h1v1h-1zM459.5 72h1v1h-1zM450 72h1v1h-1zM454.5 71h1v1h-1zM453 84h1v1h-1zM460 81h1v1h-1zM458 80.5h1v1h-1zM461 78h1v1h-1zM461.5 76.5h1v1h-1zM460 76.5h1v1h-1zM461 76h1v1h-1zM460 78.5h1v1h-1zM460 79h1v1h-1zM460.5 82.5h1v1h-1zM459.5 81.5h1v1h-1zM462 77.5h1v1h-1zM457.5 84h1v1h-1zM464.5 79.5h1v1h-1zM459.5 83h1v1h-1zM460 77.5h1v1h-1zM450.5 85.5h1v1h-1zM458.5 81.5h1v1h-1zM467 78h1v1h-1zM462 76.5h1v1h-1zM457 79.5h1v1h-1zM458 82.5h1v1h-1zM458.5 82.5h1v1h-1zM456 82h1v1h-1zM460.5 81.5h1v1h-1zM461.5 75.5h1v1h-1zM456.5 72.5h1v1h-1zM460 75.5h1v1h-1zM450 86.5h1v1h-1zM462.5 79.5h1v1h-1zM460 82.5h1v1h-1zM464 80.5h1v1h-1zM457 84h1v1h-1zM458 81.5h1v1h-1zM460 79.5h1v1h-1zM468.5 78.5h1v1h-1zM463 81h1v1h-1zM458 77.5h1v1h-1zM459 82h1v1h-1zM455 83h1v1h-1zM459.5 80h1v1h-1zM461 82h1v1h-1zM459.5 76.5h1v1h-1zM462.5 78.5h1v1h-1zM459 81.5h1v1h-1zM451 82.5h1v1h-1zM456 84h1v1h-1zM458.5 83.5h1v1h-1zM462 81.5h1v1h-1zM464 77h1v1h-1zM461 80.5h1v1h-1zM457 82.5h1v1h-1zM459 80h1v1h-1zM465.5 80h1v1h-1zM460.5 78.5h1v1h-1zM463.5 79.5h1v1h-1zM462 82h1v1h-1zM462.5 74.5h1v1h-1zM459.5 74.5h1v1h-1zM459.5 77.5h1v1h-1zM466 79.5h1v1h-1zM459.5 80.5h1v1h-1zM456 81.5h1v1h-1zM463.5 80.5h1v1h-1zM456.5 83.5h1v1h-1zM455 85h1v1h-1zM457.5 83h1v1h-1zM464.5 78.5h1v1h-1zM459 81h1v1h-1zM463 80.5h1v1h-1zM457.5 80.5h1v1h-1zM462 78h1v1h-1zM456 80.5h1v1h-1zM459.5 82h1v1h-1zM463 79.5h1v1h-1zM465 79h1v1h-1zM458.5 78.5h1v1h-1zM457 80.5h1v1h-1zM461.5 81h1v1h-1zM459 76.5h1v1h-1zM458.5 77.5h1v1h-1zM463.5 81.5h1v1h-1zM462 80h1v1h-1zM456 83.5h1v1h-1zM458 80h1v1h-1zM460.5 81h1v1h-1zM465.5 78.5h1v1h-1zM457 80h1v1h-1zM462.5 81.5h1v1h-1zM461 79.5h1v1h-1zM462.5 79h1v1h-1zM456.5 82.5h1v1h-1zM456 83h1v1h-1zM458.5 78h1v1h-1zM456.5 81.5h1v1h-1zM462.5 81h1v1h-1zM461.5 80h1v1h-1zM457.5 82.5h1v1h-1zM486 41h1v1h-1zM484.5 38.5h1v1h-1zM485.5 35h1v1h-1zM484.5 41.5h1v1h-1zM483 41.5h1v1h-1zM488 35h1v1h-1zM486 36.5h1v1h-1zM488.5 35.5h1v1h-1zM484 41.5h1v1h-1zM486 35.5h1v1h-1zM487 34h1v1h-1zM481 41.5h1v1h-1zM482 30.5h1v1h-1zM487.5 34.5h1v1h-1zM485.5 34.5h1v1h-1zM481 40h1v1h-1zM483.5 37h1v1h-1zM483 39h1v1h-1zM484.5 37.5h1v1h-1zM489.5 33h1v1h-1zM484 37h1v1h-1zM490.5 33h1v1h-1zM485 35h1v1h-1zM483.5 40.5h1v1h-1zM488 34.5h1v1h-1zM489 34.5h1v1h-1zM488 32.5h1v1h-1zM488.5 37h1v1h-1zM481.5 39h1v1h-1zM483.5 35h1v1h-1zM488.5 39.5h1v1h-1zM490.5 31.5h1v1h-1zM487 35h1v1h-1zM487.5 32h1v1h-1zM487 34.5h1v1h-1zM488 34h1v1h-1zM486 37.5h1v1h-1zM486 33.5h1v1h-1zM486 34.5h1v1h-1zM482 43h1v1h-1zM486 32.5h1v1h-1zM485.5 38h1v1h-1zM486 40h1v1h-1zM484.5 39h1v1h-1zM487 35.5h1v1h-1zM487 38.5h1v1h-1zM484 38.5h1v1h-1zM486.5 35h1v1h-1zM487.5 33.5h1v1h-1zM487.5 37.5h1v1h-1zM483.5 40h1v1h-1zM483 42.5h1v1h-1zM483 37.5h1v1h-1zM492 29.5h1v1h-1zM483.5 38.5h1v1h-1zM483.5 35.5h1v1h-1zM487 37h1v1h-1zM484.5 38h1v1h-1zM479.5 38h1v1h-1zM483 33h1v1h-1zM481.5 39.5h1v1h-1zM483 38.5h1v1h-1zM485.5 37.5h1v1h-1zM482.5 33h1v1h-1zM483.5 32h1v1h-1zM483.5 33h1v1h-1zM486 36h1v1h-1zM485 38.5h1v1h-1zM482.5 40h1v1h-1zM483.5 34h1v1h-1zM486.5 37.5h1v1h-1zM483 37h1v1h-1zM485 36h1v1h-1zM486.5 33h1v1h-1zM486.5 33.5h1v1h-1zM486 32h1v1h-1zM482 38.5h1v1h-1zM485 39h1v1h-1zM480 35.5h1v1h-1zM480 44.5h1v1h-1zM484.5 36.5h1v1h-1zM489 30.5h1v1h-1zM487 32.5h1v1h-1zM488 29.5h1v1h-1zM484.5 39.5h1v1h-1zM486.5 34.5h1v1h-1zM488 35.5h1v1h-1zM486.5 34h1v1h-1zM483 41h1v1h-1zM482 39.5h1v1h-1zM486.5 35.5h1v1h-1zM483.5 37.5h1v1h-1zM486.5 41h1v1h-1zM484 34.5h1v1h-1zM488 37.5h1v1h-1zM490 36h1v1h-1zM486.5 32h1v1h-1zM481.5 40h1v1h-1zM490.5 34.5h1v1h-1zM486.5 31.5h1v1h-1zM482.5 39.5h1v1h-1zM488 31h1v1h-1zM481.5 38.5h1v1h-1zM484.5 41h1v1h-1zM484.5 30.5h1v1h-1zM482.5 34.5h1v1h-1zM484.5 40h1v1h-1zM485.5 31.5h1v1h-1zM481.5 42.5h1v1h-1zM484 38h1v1h-1zM488 31.5h1v1h-1zM484.5 31h1v1h-1zM487 31.5h1v1h-1zM479.5 39h1v1h-1zM484 39.5h1v1h-1zM484 35h1v1h-1zM478.5 40.5h1v1h-1zM483 44.5h1v1h-1zM491 29.5h1v1h-1zM484 34h1v1h-1zM486.5 36.5h1v1h-1zM486 38h1v1h-1zM484 35.5h1v1h-1zM485 39.5h1v1h-1zM484.5 36h1v1h-1zM490 30h1v1h-1zM486 35h1v1h-1zM488 33.5h1v1h-1zM483 35h1v1h-1zM488 32h1v1h-1zM486.5 36h1v1h-1zM485 41.5h1v1h-1zM484 37.5h1v1h-1zM483.5 43.5h1v1h-1zM490 33.5h1v1h-1zM486 34h1v1h-1zM486 39h1v1h-1zM481 40.5h1v1h-1zM481 39h1v1h-1zM484 31.5h1v1h-1zM485 32.5h1v1h-1zM482.5 42h1v1h-1zM487.5 35.5h1v1h-1zM481 31.5h1v1h-1zM485 37h1v1h-1zM482.5 37.5h1v1h-1zM480 39.5h1v1h-1zM484.5 56h1v1h-1zM484 67.5h1v1h-1zM488.5 54h1v1h-1zM487 63.5h1v1h-1zM484.5 53h1v1h-1zM485 56h1v1h-1zM488 50h1v1h-1zM487 52h1v1h-1zM486.5 53h1v1h-1zM483.5 58h1v1h-1zM485 54h1v1h-1zM483.5 67.5h1v1h-1zM482 64h1v1h-1zM488 48.5h1v1h-1zM485.5 53h1v1h-1zM485 60h1v1h-1zM484 60.5h1v1h-1zM487.5 49.5h1v1h-1zM490 53.5h1v1h-1zM487 46h1v1h-1zM486.5 53.5h1v1h-1zM489 55.5h1v1h-1zM486 54h1v1h-1zM484 54h1v1h-1zM486 50.5h1v1h-1zM485 45.5h1v1h-1zM489 44h1v1h-1zM487.5 53.5h1v1h-1zM486.5 51h1v1h-1zM486.5 54.5h1v1h-1zM487.5 51.5h1v1h-1zM485 58h1v1h-1zM484 49h1v1h-1zM482 59h1v1h-1zM488.5 49.5h1v1h-1zM487.5 48.5h1v1h-1zM486 43.5h1v1h-1zM489.5 53.5h1v1h-1zM484 62h1v1h-1zM488.5 63.5h1v1h-1zM484.5 61.5h1v1h-1zM485 65h1v1h-1zM483.5 61.5h1v1h-1zM486 53h1v1h-1zM485.5 58.5h1v1h-1zM487 47.5h1v1h-1zM483 58.5h1v1h-1zM487 48h1v1h-1zM488.5 57.5h1v1h-1zM487.5 58.5h1v1h-1zM486 57.5h1v1h-1zM487 58h1v1h-1zM482.5 68.5h1v1h-1zM485.5 55.5h1v1h-1zM488.5 44.5h1v1h-1zM487 49h1v1h-1zM484 61h1v1h-1zM485.5 48h1v1h-1zM487.5 59.5h1v1h-1zM483 60.5h1v1h-1zM486.5 60h1v1h-1zM486.5 52h1v1h-1zM487 54h1v1h-1zM486 51.5h1v1h-1zM485.5 51.5h1v1h-1zM487.5 55h1v1h-1zM483 66.5h1v1h-1zM485.5 59.5h1v1h-1zM486.5 55h1v1h-1zM488 51h1v1h-1zM483.5 65h1v1h-1zM487 51.5h1v1h-1zM482.5 67.5h1v1h-1zM484.5 55.5h1v1h-1zM485 52h1v1h-1zM485.5 60h1v1h-1zM484.5 49.5h1v1h-1zM485 50.5h1v1h-1zM485.5 56h1v1h-1zM482.5 59.5h1v1h-1zM483 49h1v1h-1zM485 49.5h1v1h-1zM487 56.5h1v1h-1zM488 55h1v1h-1zM491.5 41.5h1v1h-1zM486 56.5h1v1h-1zM484.5 58.5h1v1h-1zM486 62.5h1v1h-1zM484 57h1v1h-1zM486 63h1v1h-1zM486 60h1v1h-1zM483 54h1v1h-1zM483.5 57h1v1h-1zM488.5 53h1v1h-1zM481.5 67h1v1h-1zM486.5 47.5h1v1h-1zM485.5 53.5h1v1h-1zM488.5 54.5h1v1h-1zM487 56h1v1h-1zM484 52.5h1v1h-1zM488.5 47h1v1h-1zM485 59h1v1h-1zM490 44h1v1h-1zM489.5 51.5h1v1h-1zM487.5 53h1v1h-1zM484 64h1v1h-1zM488 58h1v1h-1zM487 61.5h1v1h-1zM487.5 57h1v1h-1zM488 43.5h1v1h-1zM489 58.5h1v1h-1zM488 54h1v1h-1zM486 60.5h1v1h-1zM487 52.5h1v1h-1zM485.5 54.5h1v1h-1zM462.5 39h1v1h-1zM461 40.5h1v1h-1zM462.5 38h1v1h-1zM462 40.5h1v1h-1zM461 38h1v1h-1zM462 39.5h1v1h-1zM462.5 38.5h1v1h-1zM462 38.5h1v1h-1zM463.5 39h1v1h-1zM462 41h1v1h-1zM463.5 38.5h1v1h-1zM463 40h1v1h-1zM464 39.5h1v1h-1zM461 39.5h1v1h-1zM463 39.5h1v1h-1zM461 40h1v1h-1zM461.5 39h1v1h-1zM461.5 40h1v1h-1zM462.5 40h1v1h-1zM462 39h1v1h-1zM461.5 40.5h1v1h-1zM463 38.5h1v1h-1zM463.5 40.5h1v1h-1z" fill="#000"/>
<rect x="438.5" y="28.9" width="77.1" height="60.5" fill="none" stroke="#888" stroke-width="1.4"/>
<line x1="438.5" y1="28.9" x2="438.5" y2="89.4" stroke="#111" stroke-width="0.9"/>
<line x1="438.5" y1="89.4" x2="515.6" y2="89.4" stroke="#111" stroke-width="0.9"/>
<line x1="467.3" y1="28.9" x2="467.3" y2="89.4" stroke="#222" stroke-width="0.8"/>
<line x1="438.5" y1="65.2" x2="515.6" y2="65.2" stroke="#222" stroke-width="0.8"/>
<text x="438.2" y="97.5" font-size="5.0" text-anchor="middle" fill="#000" stroke="#000" stroke-width="0.08">10</text>
<text x="441.2" y="95.7" font-size="4.2" fill="#000" stroke="#000" stroke-width="0.06">0</text>
<g transform="rotate(-90 431.3 88.2)"><text x="429.8" y="90.1" font-size="5.0" text-anchor="middle" stroke="#000" stroke-width="0.08">10</text><text x="432.6" y="88.3" font-size="4.2" stroke="#000" stroke-width="0.06">0</text></g>
<line x1="438.8" y1="89.4" x2="438.8" y2="91.4" stroke="#000" stroke-width="0.6"/>
<line x1="436.5" y1="88.2" x2="438.5" y2="88.2" stroke="#000" stroke-width="0.6"/>
<line x1="444.48946691804923" y1="89.4" x2="444.48946691804923" y2="90.60000000000001" stroke="#000" stroke-width="0.5"/>
<line x1="437.3" y1="83.69207581493188" x2="438.5" y2="83.69207581493188" stroke="#000" stroke-width="0.5"/>
<line x1="447.8175917142016" y1="89.4" x2="447.8175917142016" y2="90.60000000000001" stroke="#000" stroke-width="0.5"/>
<line x1="437.3" y1="81.05510921057305" x2="438.5" y2="81.05510921057305" stroke="#000" stroke-width="0.5"/>
<line x1="450.1789338360985" y1="89.4" x2="450.1789338360985" y2="90.60000000000001" stroke="#000" stroke-width="0.5"/>
<line x1="437.3" y1="79.18415162986376" x2="438.5" y2="79.18415162986376" stroke="#000" stroke-width="0.5"/>
<line x1="452.01053308195077" y1="89.4" x2="452.01053308195077" y2="90.60000000000001" stroke="#000" stroke-width="0.5"/>
<line x1="437.3" y1="77.73292418506811" x2="438.5" y2="77.73292418506811" stroke="#000" stroke-width="0.5"/>
<line x1="453.50705863225085" y1="89.4" x2="453.50705863225085" y2="90.60000000000001" stroke="#000" stroke-width="0.5"/>
<line x1="437.3" y1="76.54718502550494" x2="438.5" y2="76.54718502550494" stroke="#000" stroke-width="0.5"/>
<line x1="454.77235295626946" y1="89.4" x2="454.77235295626946" y2="90.60000000000001" stroke="#000" stroke-width="0.5"/>
<line x1="437.3" y1="75.54465685078651" x2="438.5" y2="75.54465685078651" stroke="#000" stroke-width="0.5"/>
<line x1="455.86840075414773" y1="89.4" x2="455.86840075414773" y2="90.60000000000001" stroke="#000" stroke-width="0.5"/>
<line x1="437.3" y1="74.67622744479564" x2="438.5" y2="74.67622744479564" stroke="#000" stroke-width="0.5"/>
<line x1="456.83518342840324" y1="89.4" x2="456.83518342840324" y2="90.60000000000001" stroke="#000" stroke-width="0.5"/>
<line x1="437.3" y1="73.91021842114611" x2="438.5" y2="73.91021842114611" stroke="#000" stroke-width="0.5"/>
<text x="457.1" y="97.5" font-size="5.0" text-anchor="middle" fill="#000" stroke="#000" stroke-width="0.08">10</text>
<text x="460.1" y="95.7" font-size="4.2" fill="#000" stroke="#000" stroke-width="0.06">1</text>
<g transform="rotate(-90 431.3 73.22)"><text x="429.8" y="75.12" font-size="5.0" text-anchor="middle" stroke="#000" stroke-width="0.08">10</text><text x="432.6" y="73.32" font-size="4.2" stroke="#000" stroke-width="0.06">1</text></g>
<line x1="457.7" y1="89.4" x2="457.7" y2="91.4" stroke="#000" stroke-width="0.6"/>
<line x1="436.5" y1="73.225" x2="438.5" y2="73.225" stroke="#000" stroke-width="0.6"/>
<line x1="463.38946691804927" y1="89.4" x2="463.38946691804927" y2="90.60000000000001" stroke="#000" stroke-width="0.5"/>
<line x1="437.3" y1="68.71707581493189" x2="438.5" y2="68.71707581493189" stroke="#000" stroke-width="0.5"/>
<line x1="466.7175917142016" y1="89.4" x2="466.7175917142016" y2="90.60000000000001" stroke="#000" stroke-width="0.5"/>
<line x1="437.3" y1="66.08010921057306" x2="438.5" y2="66.08010921057306" stroke="#000" stroke-width="0.5"/>
<line x1="469.0789338360985" y1="89.4" x2="469.0789338360985" y2="90.60000000000001" stroke="#000" stroke-width="0.5"/>
<line x1="437.3" y1="64.20915162986375" x2="438.5" y2="64.20915162986375" stroke="#000" stroke-width="0.5"/>
<line x1="470.91053308195075" y1="89.4" x2="470.91053308195075" y2="90.60000000000001" stroke="#000" stroke-width="0.5"/>
<line x1="437.3" y1="62.75792418506812" x2="438.5" y2="62.75792418506812" stroke="#000" stroke-width="0.5"/>
<line x1="472.4070586322509" y1="89.4" x2="472.4070586322509" y2="90.60000000000001" stroke="#000" stroke-width="0.5"/>
<line x1="437.3" y1="61.572185025504936" x2="438.5" y2="61.572185025504936" stroke="#000" stroke-width="0.5"/>
<line x1="473.67235295626944" y1="89.4" x2="473.67235295626944" y2="90.60000000000001" stroke="#000" stroke-width="0.5"/>
<line x1="437.3" y1="60.5696568507865" x2="438.5" y2="60.5696568507865" stroke="#000" stroke-width="0.5"/>
<line x1="474.7684007541477" y1="89.4" x2="474.7684007541477" y2="90.60000000000001" stroke="#000" stroke-width="0.5"/>
<line x1="437.3" y1="59.70122744479565" x2="438.5" y2="59.70122744479565" stroke="#000" stroke-width="0.5"/>
<line x1="475.7351834284032" y1="89.4" x2="475.7351834284032" y2="90.60000000000001" stroke="#000" stroke-width="0.5"/>
<line x1="437.3" y1="58.93521842114611" x2="438.5" y2="58.93521842114611" stroke="#000" stroke-width="0.5"/>
<text x="476" y="97.5" font-size="5.0" text-anchor="middle" fill="#000" stroke="#000" stroke-width="0.08">10</text>
<text x="479" y="95.7" font-size="4.2" fill="#000" stroke="#000" stroke-width="0.06">2</text>
<g transform="rotate(-90 431.3 58.25)"><text x="429.8" y="60.15" font-size="5.0" text-anchor="middle" stroke="#000" stroke-width="0.08">10</text><text x="432.6" y="58.35" font-size="4.2" stroke="#000" stroke-width="0.06">2</text></g>
<line x1="476.6" y1="89.4" x2="476.6" y2="91.4" stroke="#000" stroke-width="0.6"/>
<line x1="436.5" y1="58.25" x2="438.5" y2="58.25" stroke="#000" stroke-width="0.6"/>
<line x1="482.28946691804924" y1="89.4" x2="482.28946691804924" y2="90.60000000000001" stroke="#000" stroke-width="0.5"/>
<line x1="437.3" y1="53.74207581493188" x2="438.5" y2="53.74207581493188" stroke="#000" stroke-width="0.5"/>
<line x1="485.61759171420164" y1="89.4" x2="485.61759171420164" y2="90.60000000000001" stroke="#000" stroke-width="0.5"/>
<line x1="437.3" y1="51.105109210573055" x2="438.5" y2="51.105109210573055" stroke="#000" stroke-width="0.5"/>
<line x1="487.97893383609846" y1="89.4" x2="487.97893383609846" y2="90.60000000000001" stroke="#000" stroke-width="0.5"/>
<line x1="437.3" y1="49.23415162986376" x2="438.5" y2="49.23415162986376" stroke="#000" stroke-width="0.5"/>
<line x1="489.8105330819507" y1="89.4" x2="489.8105330819507" y2="90.60000000000001" stroke="#000" stroke-width="0.5"/>
<line x1="437.3" y1="47.78292418506812" x2="438.5" y2="47.78292418506812" stroke="#000" stroke-width="0.5"/>
<line x1="491.30705863225086" y1="89.4" x2="491.30705863225086" y2="90.60000000000001" stroke="#000" stroke-width="0.5"/>
<line x1="437.3" y1="46.597185025504935" x2="438.5" y2="46.597185025504935" stroke="#000" stroke-width="0.5"/>
<line x1="492.57235295626947" y1="89.4" x2="492.57235295626947" y2="90.60000000000001" stroke="#000" stroke-width="0.5"/>
<line x1="437.3" y1="45.5946568507865" x2="438.5" y2="45.5946568507865" stroke="#000" stroke-width="0.5"/>
<line x1="493.66840075414774" y1="89.4" x2="493.66840075414774" y2="90.60000000000001" stroke="#000" stroke-width="0.5"/>
<line x1="437.3" y1="44.72622744479564" x2="438.5" y2="44.72622744479564" stroke="#000" stroke-width="0.5"/>
<line x1="494.63518342840325" y1="89.4" x2="494.63518342840325" y2="90.60000000000001" stroke="#000" stroke-width="0.5"/>
<line x1="437.3" y1="43.96021842114611" x2="438.5" y2="43.96021842114611" stroke="#000" stroke-width="0.5"/>
<text x="494.9" y="97.5" font-size="5.0" text-anchor="middle" fill="#000" stroke="#000" stroke-width="0.08">10</text>
<text x="497.9" y="95.7" font-size="4.2" fill="#000" stroke="#000" stroke-width="0.06">3</text>
<g transform="rotate(-90 431.3 43.27)"><text x="429.8" y="45.17" font-size="5.0" text-anchor="middle" stroke="#000" stroke-width="0.08">10</text><text x="432.6" y="43.38" font-size="4.2" stroke="#000" stroke-width="0.06">3</text></g>
<line x1="495.5" y1="89.4" x2="495.5" y2="91.4" stroke="#000" stroke-width="0.6"/>
<line x1="436.5" y1="43.275" x2="438.5" y2="43.275" stroke="#000" stroke-width="0.6"/>
<line x1="501.1894669180492" y1="89.4" x2="501.1894669180492" y2="90.60000000000001" stroke="#000" stroke-width="0.5"/>
<line x1="437.3" y1="38.76707581493188" x2="438.5" y2="38.76707581493188" stroke="#000" stroke-width="0.5"/>
<line x1="504.5175917142016" y1="89.4" x2="504.5175917142016" y2="90.60000000000001" stroke="#000" stroke-width="0.5"/>
<line x1="437.3" y1="36.13010921057305" x2="438.5" y2="36.13010921057305" stroke="#000" stroke-width="0.5"/>
<line x1="506.87893383609844" y1="89.4" x2="506.87893383609844" y2="90.60000000000001" stroke="#000" stroke-width="0.5"/>
<line x1="437.3" y1="34.25915162986376" x2="438.5" y2="34.25915162986376" stroke="#000" stroke-width="0.5"/>
<line x1="508.71053308195076" y1="89.4" x2="508.71053308195076" y2="90.60000000000001" stroke="#000" stroke-width="0.5"/>
<line x1="437.3" y1="32.80792418506812" x2="438.5" y2="32.80792418506812" stroke="#000" stroke-width="0.5"/>
<line x1="510.20705863225083" y1="89.4" x2="510.20705863225083" y2="90.60000000000001" stroke="#000" stroke-width="0.5"/>
<line x1="437.3" y1="31.622185025504933" x2="438.5" y2="31.622185025504933" stroke="#000" stroke-width="0.5"/>
<line x1="511.47235295626945" y1="89.4" x2="511.47235295626945" y2="90.60000000000001" stroke="#000" stroke-width="0.5"/>
<line x1="437.3" y1="30.619656850786498" x2="438.5" y2="30.619656850786498" stroke="#000" stroke-width="0.5"/>
<line x1="512.5684007541477" y1="89.4" x2="512.5684007541477" y2="90.60000000000001" stroke="#000" stroke-width="0.5"/>
<line x1="437.3" y1="29.75122744479564" x2="438.5" y2="29.75122744479564" stroke="#000" stroke-width="0.5"/>
<line x1="513.5351834284032" y1="89.4" x2="513.5351834284032" y2="90.60000000000001" stroke="#000" stroke-width="0.5"/>
<line x1="437.3" y1="28.985218421146108" x2="438.5" y2="28.985218421146108" stroke="#000" stroke-width="0.5"/>
<text x="513.8" y="97.5" font-size="5.0" text-anchor="middle" fill="#000" stroke="#000" stroke-width="0.08">10</text>
<text x="516.8" y="95.7" font-size="4.2" fill="#000" stroke="#000" stroke-width="0.06">4</text>
<g transform="rotate(-90 431.3 28.3)"><text x="429.8" y="30.2" font-size="5.0" text-anchor="middle" stroke="#000" stroke-width="0.08">10</text><text x="432.6" y="28.4" font-size="4.2" stroke="#000" stroke-width="0.06">4</text></g>
<line x1="514.4" y1="89.4" x2="514.4" y2="91.4" stroke="#000" stroke-width="0.6"/>
<line x1="436.5" y1="28.299999999999997" x2="438.5" y2="28.299999999999997" stroke="#000" stroke-width="0.6"/>
<path d="M461 109h1v1h-1zM455.5 130.5h1v1h-1zM447.5 136h1v1h-1zM451.5 134h1v1h-1zM449.5 137h1v1h-1zM451 134h1v1h-1zM455 119.5h1v1h-1zM453 124.5h1v1h-1zM451 128.5h1v1h-1zM463 126.5h1v1h-1zM456 127.5h1v1h-1zM451 119h1v1h-1zM449.5 122h1v1h-1zM454 127h1v1h-1zM465 135.5h1v1h-1zM457 131.5h1v1h-1zM467.5 134.5h1v1h-1zM445.5 126h1v1h-1zM451 121.5h1v1h-1zM446.5 138h1v1h-1zM443.5 140h1v1h-1zM459.5 140.5h1v1h-1zM457.5 121.5h1v1h-1zM458.5 117.5h1v1h-1zM462.5 143h1v1h-1zM445.5 135h1v1h-1zM449 129.5h1v1h-1zM452.5 125h1v1h-1zM441 111h1v1h-1zM447.5 141h1v1h-1zM454.5 130h1v1h-1zM458.5 139h1v1h-1zM454 144h1v1h-1zM451 122h1v1h-1zM443.5 114.5h1v1h-1zM447 130.5h1v1h-1zM456.5 131.5h1v1h-1zM455.5 117.5h1v1h-1zM455 117.5h1v1h-1z" fill="#666"/>
<path d="M467.5 119h1v1h-1zM473.5 126h1v1h-1zM483 114.5h1v1h-1zM477.5 119.5h1v1h-1zM470.5 128h1v1h-1zM473 121.5h1v1h-1zM480.5 132.5h1v1h-1zM476.5 112.5h1v1h-1zM478.5 124h1v1h-1zM468 128h1v1h-1zM476.5 131h1v1h-1zM474.5 135.5h1v1h-1zM475 136.5h1v1h-1zM487 154.5h1v1h-1zM473.5 138h1v1h-1zM472.5 124h1v1h-1zM475.5 143h1v1h-1zM468.5 146h1v1h-1zM472 124h1v1h-1zM469 133.5h1v1h-1zM475.5 134h1v1h-1zM473 119.5h1v1h-1zM466 130h1v1h-1zM473 116h1v1h-1zM470 112.5h1v1h-1zM464.5 137.5h1v1h-1zM474.5 136h1v1h-1zM484.5 144h1v1h-1zM460 117.5h1v1h-1zM475.5 123h1v1h-1zM485 119.5h1v1h-1zM483 124h1v1h-1zM485.5 113.5h1v1h-1zM480.5 141h1v1h-1zM487 127.5h1v1h-1zM476.5 124.5h1v1h-1zM470 134.5h1v1h-1zM491.5 121.5h1v1h-1zM486 130h1v1h-1zM474.5 132h1v1h-1zM470.5 133h1v1h-1zM480 117h1v1h-1zM477 125h1v1h-1zM474.5 128.5h1v1h-1zM476.5 128.5h1v1h-1zM481.5 122h1v1h-1zM479 109.5h1v1h-1zM480.5 127h1v1h-1zM471.5 122h1v1h-1zM488 126.5h1v1h-1zM482 126h1v1h-1zM479.5 124.5h1v1h-1zM480.5 118h1v1h-1zM474.5 119h1v1h-1zM481 118.5h1v1h-1zM479.5 130.5h1v1h-1zM479 121.5h1v1h-1zM487.5 122h1v1h-1zM475.5 126h1v1h-1zM472 118.5h1v1h-1zM481.5 131h1v1h-1zM475 124h1v1h-1zM477.5 129.5h1v1h-1zM477 114h1v1h-1zM469.5 116h1v1h-1zM482 145.5h1v1h-1zM476.5 134.5h1v1h-1zM474 125.5h1v1h-1zM479.5 123h1v1h-1zM476.5 144.5h1v1h-1zM474 120h1v1h-1zM463 131.5h1v1h-1zM478.5 126h1v1h-1zM478.5 142h1v1h-1zM479 123.5h1v1h-1zM478 131.5h1v1h-1zM476 122.5h1v1h-1zM493.5 135h1v1h-1zM479 115h1v1h-1zM478 121h1v1h-1zM481.5 145.5h1v1h-1zM491 129h1v1h-1zM468 117h1v1h-1zM481.5 139h1v1h-1zM471 133h1v1h-1zM474.5 133h1v1h-1zM478 118h1v1h-1zM475.5 133.5h1v1h-1zM478.5 128h1v1h-1zM474 133.5h1v1h-1zM493 131h1v1h-1zM468 124h1v1h-1zM479 137h1v1h-1zM470 121h1v1h-1zM476.5 145.5h1v1h-1zM484 126.5h1v1h-1zM481.5 137h1v1h-1zM487 141h1v1h-1zM473.5 119h1v1h-1zM475.5 119.5h1v1h-1zM478.5 127h1v1h-1zM476 132h1v1h-1zM476 131.5h1v1h-1zM477 117h1v1h-1zM471.5 140h1v1h-1zM471.5 116.5h1v1h-1zM479.5 117h1v1h-1zM482.5 135h1v1h-1zM469.5 137h1v1h-1zM482.5 118.5h1v1h-1zM480 126.5h1v1h-1zM474.5 126h1v1h-1zM474 131h1v1h-1zM476.5 141h1v1h-1zM474 132h1v1h-1zM486.5 140.5h1v1h-1zM488.5 129h1v1h-1zM476 123h1v1h-1zM468 147h1v1h-1zM475.5 125.5h1v1h-1zM476 121h1v1h-1zM475.5 135h1v1h-1zM477.5 126h1v1h-1zM481.5 110.5h1v1h-1zM483.5 122.5h1v1h-1zM471.5 137h1v1h-1zM484.5 136h1v1h-1zM464.5 124.5h1v1h-1zM447.5 113h1v1h-1zM458 132.5h1v1h-1zM462 115.5h1v1h-1zM455 121.5h1v1h-1zM470 122h1v1h-1zM458 113.5h1v1h-1zM457 120h1v1h-1zM470.5 116h1v1h-1zM456 128h1v1h-1zM451 125h1v1h-1zM455.5 125h1v1h-1zM456 126h1v1h-1zM467 133.5h1v1h-1zM459.5 133h1v1h-1zM463 116.5h1v1h-1zM458.5 126.5h1v1h-1zM451.5 121h1v1h-1zM452.5 122h1v1h-1zM462 121.5h1v1h-1zM459.5 125h1v1h-1zM459 121h1v1h-1zM451.5 126h1v1h-1zM460.5 121.5h1v1h-1zM456 108h1v1h-1zM465.5 126h1v1h-1zM460 125h1v1h-1zM461 124.5h1v1h-1zM456 109h1v1h-1zM456.5 136h1v1h-1zM458 118h1v1h-1zM457 113.5h1v1h-1zM453.5 117.5h1v1h-1zM451.5 129.5h1v1h-1zM457 112h1v1h-1zM445 122.5h1v1h-1zM455 122h1v1h-1zM456 111h1v1h-1zM457.5 115h1v1h-1zM456.5 124.5h1v1h-1zM458 143h1v1h-1zM462 135.5h1v1h-1zM454 123h1v1h-1zM462 113h1v1h-1zM456 123h1v1h-1zM482 157.5h1v1h-1zM475.5 156h1v1h-1zM479 161h1v1h-1zM471.5 159h1v1h-1zM470.5 156h1v1h-1zM477.5 160h1v1h-1zM481 153h1v1h-1zM473 153.5h1v1h-1zM479 151.5h1v1h-1zM481 146.5h1v1h-1zM473 166h1v1h-1zM475.5 162.5h1v1h-1zM476.5 163.5h1v1h-1zM476.5 160h1v1h-1zM477.5 160.5h1v1h-1zM473.5 155.5h1v1h-1zM478.5 161.5h1v1h-1zM474 152.5h1v1h-1zM482.5 149.5h1v1h-1zM470.5 148.5h1v1h-1zM469 152.5h1v1h-1zM475 159h1v1h-1zM472 159h1v1h-1zM477.5 159h1v1h-1zM473 162.5h1v1h-1zM490.5 157.5h1v1h-1zM470.5 154h1v1h-1zM474.5 157h1v1h-1zM476.5 165h1v1h-1zM465 153h1v1h-1zM482.5 155.5h1v1h-1zM488 165.5h1v1h-1zM469 159h1v1h-1zM470 152h1v1h-1zM478.5 155.5h1v1h-1zM478.5 159.5h1v1h-1zM478 162h1v1h-1zM472 159.5h1v1h-1zM471.5 155.5h1v1h-1zM474 159h1v1h-1zM474.5 165.5h1v1h-1zM478 161h1v1h-1zM475.5 151.5h1v1h-1zM483.5 151h1v1h-1zM478 153h1v1h-1zM475.5 161h1v1h-1zM480.5 159h1v1h-1zM480 155.5h1v1h-1zM472.5 153.5h1v1h-1zM477 154h1v1h-1zM477 157h1v1h-1zM481 159.5h1v1h-1zM479 141.5h1v1h-1zM482 163.5h1v1h-1zM478.5 160.5h1v1h-1zM482 152.5h1v1h-1zM478 157h1v1h-1zM477 158.5h1v1h-1zM474 152h1v1h-1zM479.5 156.5h1v1h-1zM475.5 155h1v1h-1zM480 154.5h1v1h-1zM472.5 158.5h1v1h-1zM465.5 152.5h1v1h-1zM469.5 153.5h1v1h-1zM476.5 149h1v1h-1zM475.5 148.5h1v1h-1zM476 158h1v1h-1zM472 155h1v1h-1zM465 151h1v1h-1zM485.5 164h1v1h-1zM471 149.5h1v1h-1zM472.5 160h1v1h-1zM484 161.5h1v1h-1zM482 155h1v1h-1zM475 157h1v1h-1zM478.5 151h1v1h-1zM479.5 155.5h1v1h-1zM469 162.5h1v1h-1zM484 164h1v1h-1zM473 158h1v1h-1zM472.5 157h1v1h-1zM484 163h1v1h-1zM482.5 152h1v1h-1zM477 165h1v1h-1zM487 156h1v1h-1zM468.5 149.5h1v1h-1zM468.5 160.5h1v1h-1zM488.5 161h1v1h-1zM473 150.5h1v1h-1zM482 161h1v1h-1zM481.5 147h1v1h-1zM481.5 157h1v1h-1zM484 152.5h1v1h-1zM474 148h1v1h-1zM473.5 157h1v1h-1zM480 159.5h1v1h-1zM483 153.5h1v1h-1zM477.5 156.5h1v1h-1zM466.5 156.5h1v1h-1zM473 154.5h1v1h-1zM471.5 152h1v1h-1zM485 155h1v1h-1zM477.5 161.5h1v1h-1zM476.5 161.5h1v1h-1zM474.5 160.5h1v1h-1zM476 162h1v1h-1zM467 155h1v1h-1zM476 151.5h1v1h-1zM477.5 148h1v1h-1zM481 161.5h1v1h-1zM475.5 159.5h1v1h-1zM469.5 154h1v1h-1zM480 156h1v1h-1zM471.5 158.5h1v1h-1zM481.5 154.5h1v1h-1zM483 158h1v1h-1zM476 149h1v1h-1zM484.5 147.5h1v1h-1zM490.5 157h1v1h-1zM472 153.5h1v1h-1z" fill="#555"/>
<path d="M447.5 166h1v1h-1zM453.5 162h1v1h-1zM451.5 157.5h1v1h-1zM451.5 152.5h1v1h-1zM456.5 155h1v1h-1zM441 163h1v1h-1zM444 152h1v1h-1zM440 166.5h1v1h-1zM447 159h1v1h-1zM453 158h1v1h-1zM447.5 162h1v1h-1zM450 153h1v1h-1zM439 162h1v1h-1zM448.5 159h1v1h-1zM442.5 163.5h1v1h-1zM457.5 153h1v1h-1zM452.5 160.5h1v1h-1zM452.5 163h1v1h-1zM447 160.5h1v1h-1zM451 156.5h1v1h-1zM451 155h1v1h-1zM445.5 152.5h1v1h-1zM445 157.5h1v1h-1zM447 161.5h1v1h-1zM444 166h1v1h-1zM444 164h1v1h-1zM446 164.5h1v1h-1zM443.5 158.5h1v1h-1zM451.5 156.5h1v1h-1zM439 155h1v1h-1zM452 155.5h1v1h-1zM444 155.5h1v1h-1zM444.5 159h1v1h-1zM440 163.5h1v1h-1zM446.5 159h1v1h-1zM446 158.5h1v1h-1zM448.5 162h1v1h-1zM444.5 166h1v1h-1zM448 163.5h1v1h-1zM457.5 150h1v1h-1zM449.5 166h1v1h-1zM444.5 158.5h1v1h-1zM452.5 152.5h1v1h-1zM447 158h1v1h-1zM451 162.5h1v1h-1zM451 148h1v1h-1zM445.5 165h1v1h-1zM439 162.5h1v1h-1zM445.5 162h1v1h-1zM450.5 153h1v1h-1zM445.5 157.5h1v1h-1zM450 154h1v1h-1zM453 163h1v1h-1zM444.5 157h1v1h-1zM454.5 159.5h1v1h-1zM456.5 154.5h1v1h-1zM453.5 151.5h1v1h-1zM454 161.5h1v1h-1zM453.5 162.5h1v1h-1zM460 162.5h1v1h-1zM448.5 157h1v1h-1zM447.5 159.5h1v1h-1zM451 161.5h1v1h-1zM442.5 162h1v1h-1zM442.5 166.5h1v1h-1zM449.5 157h1v1h-1zM450 162.5h1v1h-1zM439 159h1v1h-1zM439 166.5h1v1h-1zM446.5 155.5h1v1h-1zM447 162.5h1v1h-1zM451 158.5h1v1h-1zM454.5 156.5h1v1h-1zM449 158h1v1h-1zM451 156h1v1h-1zM441.5 163h1v1h-1zM441 162h1v1h-1zM449 165.5h1v1h-1zM451.5 164h1v1h-1zM451 161h1v1h-1zM452 152.5h1v1h-1zM452 164.5h1v1h-1zM439 154.5h1v1h-1zM443.5 162.5h1v1h-1zM450 151.5h1v1h-1zM451 159.5h1v1h-1zM439 160h1v1h-1zM454 157h1v1h-1zM445 152h1v1h-1zM446 156.5h1v1h-1zM449 164h1v1h-1zM451.5 161h1v1h-1zM439.5 161h1v1h-1zM453 157.5h1v1h-1zM448 157h1v1h-1zM443.5 166.5h1v1h-1zM446 159.5h1v1h-1zM444 154.5h1v1h-1zM448.5 153h1v1h-1zM443.5 166h1v1h-1zM445.5 156.5h1v1h-1zM448 161.5h1v1h-1zM453 162h1v1h-1zM447.5 162.5h1v1h-1zM446 162h1v1h-1zM450.5 165.5h1v1h-1zM459 158h1v1h-1zM445.5 164h1v1h-1zM450.5 159h1v1h-1zM451 158h1v1h-1zM455 148h1v1h-1zM447 160h1v1h-1zM442 162h1v1h-1zM452.5 166h1v1h-1zM451.5 157h1v1h-1zM442.5 156h1v1h-1zM439.5 162h1v1h-1zM450 166.5h1v1h-1zM446.5 158.5h1v1h-1zM462 161.5h1v1h-1zM444 162.5h1v1h-1zM444.5 163h1v1h-1zM447 156.5h1v1h-1zM442.5 157.5h1v1h-1zM456.5 157.5h1v1h-1zM447 157h1v1h-1zM444 165h1v1h-1zM440.5 159h1v1h-1zM450.5 158h1v1h-1zM451 149.5h1v1h-1zM449 155h1v1h-1zM449 157.5h1v1h-1zM449.5 152.5h1v1h-1zM444 160h1v1h-1zM451 157.5h1v1h-1zM440.5 159.5h1v1h-1zM446 158h1v1h-1zM447 163h1v1h-1zM441 156h1v1h-1zM449.5 160h1v1h-1zM453.5 161.5h1v1h-1zM450 155h1v1h-1zM452 158.5h1v1h-1zM449.5 158.5h1v1h-1zM441 158.5h1v1h-1zM446.5 162.5h1v1h-1zM454.5 151h1v1h-1zM448 166.5h1v1h-1zM445.5 161h1v1h-1zM442.5 164h1v1h-1zM442 157h1v1h-1zM448 162.5h1v1h-1zM449 156h1v1h-1zM439.5 161.5h1v1h-1zM446 166.5h1v1h-1zM449.5 156.5h1v1h-1zM452.5 150.5h1v1h-1zM451 159h1v1h-1zM452 161.5h1v1h-1zM453.5 161h1v1h-1zM452 159.5h1v1h-1zM443 166h1v1h-1zM448 163h1v1h-1zM443.5 164h1v1h-1zM439 161h1v1h-1zM439 156h1v1h-1zM459 163.5h1v1h-1zM441.5 157.5h1v1h-1zM444.5 165h1v1h-1zM456 153h1v1h-1zM447.5 157h1v1h-1zM449.5 161h1v1h-1zM446 164h1v1h-1zM447 156h1v1h-1zM454.5 157h1v1h-1zM452 154.5h1v1h-1zM447 155h1v1h-1zM452.5 159h1v1h-1zM453.5 156.5h1v1h-1zM446.5 152h1v1h-1zM449 161h1v1h-1zM444 159h1v1h-1zM454 153h1v1h-1zM446.5 163h1v1h-1zM444 161.5h1v1h-1zM439 163h1v1h-1zM440.5 161h1v1h-1zM456 159h1v1h-1zM441 166.5h1v1h-1zM450 160h1v1h-1zM450.5 157h1v1h-1zM443 159.5h1v1h-1zM446 157h1v1h-1zM448 164h1v1h-1zM448 159h1v1h-1zM447.5 156h1v1h-1zM454.5 153.5h1v1h-1zM450.5 165h1v1h-1zM443.5 163h1v1h-1zM449.5 153.5h1v1h-1zM448 164.5h1v1h-1zM450 157.5h1v1h-1zM457.5 158.5h1v1h-1zM447.5 161.5h1v1h-1zM442.5 162.5h1v1h-1zM446 163h1v1h-1zM444.5 163.5h1v1h-1zM456.5 147h1v1h-1zM449 157h1v1h-1zM444.5 160h1v1h-1zM458 156h1v1h-1zM440 155h1v1h-1zM452 157h1v1h-1zM450.5 150.5h1v1h-1zM446 156h1v1h-1zM452 157.5h1v1h-1zM444.5 162h1v1h-1zM444.5 164h1v1h-1zM446 160.5h1v1h-1zM443.5 159.5h1v1h-1zM452 159h1v1h-1zM455 157h1v1h-1zM439 164.5h1v1h-1zM446.5 154h1v1h-1zM442.5 151.5h1v1h-1zM451.5 160h1v1h-1zM457 155h1v1h-1zM449 152.5h1v1h-1zM458.5 160.5h1v1h-1zM456 163.5h1v1h-1zM451.5 154h1v1h-1zM443 156.5h1v1h-1zM448.5 156.5h1v1h-1zM440 158h1v1h-1zM454 157.5h1v1h-1zM449 154.5h1v1h-1zM455.5 157.5h1v1h-1zM450 157h1v1h-1zM439 165.5h1v1h-1zM452 158h1v1h-1zM457.5 163h1v1h-1zM443 162.5h1v1h-1zM443 163h1v1h-1zM442.5 160.5h1v1h-1zM440.5 166.5h1v1h-1zM442.5 166h1v1h-1zM462.5 156h1v1h-1zM445 158.5h1v1h-1zM442.5 159.5h1v1h-1zM448 151h1v1h-1zM455 158.5h1v1h-1zM453.5 152.5h1v1h-1zM452.5 164h1v1h-1zM448.5 153.5h1v1h-1zM449 162.5h1v1h-1zM440 161h1v1h-1zM459.5 163h1v1h-1zM445.5 159.5h1v1h-1zM453.5 160.5h1v1h-1zM446.5 161h1v1h-1zM447.5 154.5h1v1h-1zM440.5 165h1v1h-1zM447.5 160.5h1v1h-1zM450 159.5h1v1h-1zM452.5 155h1v1h-1zM453.5 155.5h1v1h-1zM448 160h1v1h-1zM445 154h1v1h-1zM448.5 155h1v1h-1zM452.5 158.5h1v1h-1zM447 164.5h1v1h-1zM444.5 161.5h1v1h-1zM459 157.5h1v1h-1zM456 152.5h1v1h-1zM446.5 157h1v1h-1zM439.5 166.5h1v1h-1zM455 149.5h1v1h-1zM451.5 152h1v1h-1zM450.5 161.5h1v1h-1zM449 160.5h1v1h-1zM448.5 155.5h1v1h-1zM453 156h1v1h-1zM454.5 158h1v1h-1zM452 160.5h1v1h-1zM444 157h1v1h-1zM445 153.5h1v1h-1zM448.5 158.5h1v1h-1zM445 163.5h1v1h-1zM439 164h1v1h-1zM445.5 166.5h1v1h-1zM456 162h1v1h-1zM455 159h1v1h-1zM447 151.5h1v1h-1zM443 161.5h1v1h-1zM447.5 164.5h1v1h-1zM447.5 158.5h1v1h-1zM445.5 156h1v1h-1zM451 160h1v1h-1zM452.5 162h1v1h-1zM448.5 166.5h1v1h-1zM454 156.5h1v1h-1zM447.5 152.5h1v1h-1zM450 158.5h1v1h-1zM456.5 163h1v1h-1zM456.5 164.5h1v1h-1zM439 154h1v1h-1zM442 152.5h1v1h-1zM448.5 154.5h1v1h-1zM447 161h1v1h-1zM448.5 158h1v1h-1zM452 162.5h1v1h-1zM449.5 158h1v1h-1zM452 163.5h1v1h-1zM452 151.5h1v1h-1zM440 157h1v1h-1zM446 154h1v1h-1zM444.5 157.5h1v1h-1zM449.5 154h1v1h-1zM456 162.5h1v1h-1zM444 158h1v1h-1zM445 159.5h1v1h-1zM446 160h1v1h-1zM444 162h1v1h-1zM439 152.5h1v1h-1zM453 161.5h1v1h-1zM453.5 154.5h1v1h-1zM441.5 166h1v1h-1zM446.5 165.5h1v1h-1zM457.5 153.5h1v1h-1zM449.5 164.5h1v1h-1zM446.5 153h1v1h-1zM453 154h1v1h-1zM453 151.5h1v1h-1zM460.5 156.5h1v1h-1zM450.5 160.5h1v1h-1zM450 161h1v1h-1zM443.5 165.5h1v1h-1zM454 165h1v1h-1zM441.5 161.5h1v1h-1zM440.5 164.5h1v1h-1zM449.5 166.5h1v1h-1zM443 163.5h1v1h-1zM449.5 149.5h1v1h-1zM447 155.5h1v1h-1zM449 166.5h1v1h-1zM444 159.5h1v1h-1zM446.5 156h1v1h-1zM444.5 154.5h1v1h-1zM443 155.5h1v1h-1zM440.5 158.5h1v1h-1zM453 151h1v1h-1zM443.5 160h1v1h-1zM450.5 153.5h1v1h-1zM442 155.5h1v1h-1zM453.5 153.5h1v1h-1zM443 158.5h1v1h-1zM455.5 160h1v1h-1zM443.5 153h1v1h-1zM442.5 159h1v1h-1zM442.5 161h1v1h-1zM460 158h1v1h-1zM445.5 163.5h1v1h-1zM442 166.5h1v1h-1zM441.5 160h1v1h-1zM441.5 166.5h1v1h-1zM442 161h1v1h-1zM450.5 162h1v1h-1zM453 165h1v1h-1zM446.5 157.5h1v1h-1zM449 158.5h1v1h-1zM443 155h1v1h-1zM451.5 162.5h1v1h-1zM450 156h1v1h-1zM447 165h1v1h-1zM451 153.5h1v1h-1zM447.5 157.5h1v1h-1zM450.5 155h1v1h-1zM446 162.5h1v1h-1zM444 156h1v1h-1zM447.5 163.5h1v1h-1zM444.5 156h1v1h-1zM456.5 153.5h1v1h-1zM450.5 163.5h1v1h-1zM441.5 158.5h1v1h-1zM446 159h1v1h-1zM455 158h1v1h-1zM447.5 164h1v1h-1zM448.5 156h1v1h-1zM455 162.5h1v1h-1zM446.5 166.5h1v1h-1zM445 160h1v1h-1zM449 152h1v1h-1zM455 161.5h1v1h-1zM449.5 150.5h1v1h-1zM446 161.5h1v1h-1zM448.5 163h1v1h-1zM457.5 147.5h1v1h-1zM448 156.5h1v1h-1zM455 154.5h1v1h-1zM448.5 160h1v1h-1zM453.5 159h1v1h-1zM446.5 164.5h1v1h-1zM446 157.5h1v1h-1zM459.5 158.5h1v1h-1zM446.5 159.5h1v1h-1zM456 158.5h1v1h-1zM452.5 158h1v1h-1zM444.5 166.5h1v1h-1zM455 159.5h1v1h-1zM449 162h1v1h-1zM441.5 160.5h1v1h-1zM456 155h1v1h-1zM442 159.5h1v1h-1zM447 159.5h1v1h-1zM443.5 161.5h1v1h-1zM458 157.5h1v1h-1zM443 165.5h1v1h-1zM443 159h1v1h-1zM448.5 161.5h1v1h-1zM455 155h1v1h-1zM455.5 164h1v1h-1zM463 157h1v1h-1zM456.5 153h1v1h-1zM450.5 163h1v1h-1zM456 160.5h1v1h-1zM448 158.5h1v1h-1zM448.5 154h1v1h-1zM447.5 160h1v1h-1zM450.5 162.5h1v1h-1zM439 161.5h1v1h-1zM450 153.5h1v1h-1zM456 154.5h1v1h-1zM449.5 162h1v1h-1zM448 155.5h1v1h-1zM442.5 158h1v1h-1zM444.5 158h1v1h-1zM455.5 161h1v1h-1zM445 160.5h1v1h-1zM446 166h1v1h-1zM441.5 162h1v1h-1zM440.5 160h1v1h-1zM444 157.5h1v1h-1zM441.5 163.5h1v1h-1zM439.5 157.5h1v1h-1zM450.5 152.5h1v1h-1zM455.5 154.5h1v1h-1zM444.5 165.5h1v1h-1zM442 154h1v1h-1zM454 154h1v1h-1zM443.5 163.5h1v1h-1zM452 161h1v1h-1zM442 164.5h1v1h-1zM449 159h1v1h-1zM449.5 155.5h1v1h-1zM450 158h1v1h-1zM458.5 153h1v1h-1zM439.5 163.5h1v1h-1zM451.5 163.5h1v1h-1zM448 154.5h1v1h-1zM449.5 159h1v1h-1zM446 161h1v1h-1zM455 160h1v1h-1zM442.5 155h1v1h-1zM447 154.5h1v1h-1zM439 166h1v1h-1zM450 154.5h1v1h-1zM449 163h1v1h-1zM458 147.5h1v1h-1zM444.5 161h1v1h-1zM449.5 162.5h1v1h-1zM447.5 166.5h1v1h-1zM448 156h1v1h-1zM462 156h1v1h-1zM449 154h1v1h-1zM446 155h1v1h-1zM453.5 160h1v1h-1zM441 157h1v1h-1zM440 162h1v1h-1zM439 153h1v1h-1zM456.5 160h1v1h-1zM451.5 156h1v1h-1zM442.5 160h1v1h-1zM442 158h1v1h-1zM452 160h1v1h-1zM444.5 160.5h1v1h-1zM455 164h1v1h-1zM439.5 166h1v1h-1zM444.5 162.5h1v1h-1zM442 161.5h1v1h-1zM453 160.5h1v1h-1zM457.5 156.5h1v1h-1zM444 163.5h1v1h-1zM450.5 154.5h1v1h-1zM448.5 162.5h1v1h-1zM446.5 160.5h1v1h-1zM454.5 155.5h1v1h-1zM454 152h1v1h-1zM445.5 164.5h1v1h-1zM454.5 164.5h1v1h-1zM440 159.5h1v1h-1zM449 160h1v1h-1zM455.5 155h1v1h-1zM445 162h1v1h-1zM458.5 159h1v1h-1zM449.5 159.5h1v1h-1zM440.5 163h1v1h-1zM460.5 162.5h1v1h-1zM446 163.5h1v1h-1zM459.5 162h1v1h-1zM453 156.5h1v1h-1zM444 160.5h1v1h-1zM445.5 160h1v1h-1zM442 163h1v1h-1zM449 156.5h1v1h-1zM461.5 154h1v1h-1zM439 165h1v1h-1zM453 155.5h1v1h-1zM447 162h1v1h-1zM458.5 158h1v1h-1zM439 157.5h1v1h-1zM444 166.5h1v1h-1zM445 158h1v1h-1zM460.5 152.5h1v1h-1zM441 161.5h1v1h-1zM448 165h1v1h-1zM454 158.5h1v1h-1zM439 159.5h1v1h-1zM448 159.5h1v1h-1zM452 153.5h1v1h-1zM441 161h1v1h-1zM443 157h1v1h-1zM458 162.5h1v1h-1zM450 159h1v1h-1zM439 151.5h1v1h-1zM449 155.5h1v1h-1zM440.5 158h1v1h-1zM452.5 156.5h1v1h-1zM448 162h1v1h-1zM439 158h1v1h-1zM443 164h1v1h-1zM446.5 158h1v1h-1zM450.5 156.5h1v1h-1zM451 154h1v1h-1zM447.5 165h1v1h-1zM443 166.5h1v1h-1zM452.5 162.5h1v1h-1zM442.5 165.5h1v1h-1zM448 155h1v1h-1zM441.5 155.5h1v1h-1zM458.5 154.5h1v1h-1zM452.5 164.5h1v1h-1zM458.5 157h1v1h-1zM449.5 165h1v1h-1zM454 162h1v1h-1zM445.5 157h1v1h-1zM443.5 158h1v1h-1zM451 155.5h1v1h-1zM448.5 160.5h1v1h-1zM450.5 155.5h1v1h-1zM445 162.5h1v1h-1zM450.5 159.5h1v1h-1zM451 164h1v1h-1zM453 149.5h1v1h-1zM450 162h1v1h-1zM447.5 163h1v1h-1zM439 158.5h1v1h-1zM457 160h1v1h-1zM448 158h1v1h-1zM454.5 154h1v1h-1zM445.5 159h1v1h-1zM449 150.5h1v1h-1zM456 161.5h1v1h-1zM450 161.5h1v1h-1zM451 151h1v1h-1zM452 151h1v1h-1zM450 163.5h1v1h-1zM439 152h1v1h-1zM445.5 160.5h1v1h-1zM461 152h1v1h-1zM451 148.5h1v1h-1zM455.5 162.5h1v1h-1zM448 161h1v1h-1zM442.5 163h1v1h-1zM450.5 160h1v1h-1zM440.5 156h1v1h-1zM456.5 163.5h1v1h-1zM456 153.5h1v1h-1zM454 151.5h1v1h-1zM439.5 160.5h1v1h-1zM457 158.5h1v1h-1zM445 161h1v1h-1zM455.5 155.5h1v1h-1zM454 155.5h1v1h-1zM444.5 153h1v1h-1zM459.5 155h1v1h-1zM451.5 165.5h1v1h-1zM439 160.5h1v1h-1zM446 154.5h1v1h-1zM444 155h1v1h-1zM441 164h1v1h-1zM451 152h1v1h-1zM445 165.5h1v1h-1zM442 164h1v1h-1zM452 165h1v1h-1zM452 153h1v1h-1zM451 157h1v1h-1zM447.5 151.5h1v1h-1zM453.5 152h1v1h-1zM452.5 155.5h1v1h-1zM457.5 154h1v1h-1zM453.5 158.5h1v1h-1zM451 154.5h1v1h-1zM440 166h1v1h-1zM439 157h1v1h-1zM446.5 160h1v1h-1zM452 156h1v1h-1zM456.5 158h1v1h-1zM447.5 155h1v1h-1zM440 165.5h1v1h-1zM443.5 165h1v1h-1zM454.5 161h1v1h-1zM459 157h1v1h-1zM454.5 165h1v1h-1zM451.5 159.5h1v1h-1zM444 153h1v1h-1zM456.5 156h1v1h-1zM447 163.5h1v1h-1zM455.5 161.5h1v1h-1zM445 164h1v1h-1zM447.5 165.5h1v1h-1zM443 157.5h1v1h-1zM453 159.5h1v1h-1zM442.5 156.5h1v1h-1zM458.5 162.5h1v1h-1zM463.5 156.5h1v1h-1zM441.5 165h1v1h-1zM459 159.5h1v1h-1zM453.5 157.5h1v1h-1zM453 152h1v1h-1zM449 151h1v1h-1zM445.5 158.5h1v1h-1zM445.5 150h1v1h-1zM458.5 153.5h1v1h-1zM453 155h1v1h-1zM457 159h1v1h-1zM453 166h1v1h-1zM449 163.5h1v1h-1zM449.5 161.5h1v1h-1zM442.5 154h1v1h-1zM452.5 161h1v1h-1zM440.5 161.5h1v1h-1zM459 153h1v1h-1zM442 153h1v1h-1zM459 160h1v1h-1zM439.5 160h1v1h-1zM456.5 158.5h1v1h-1zM452.5 148.5h1v1h-1zM457 158h1v1h-1zM448 151.5h1v1h-1zM454 158h1v1h-1zM468 152.5h1v1h-1zM452.5 159.5h1v1h-1zM440 156.5h1v1h-1zM449 159.5h1v1h-1zM460 160.5h1v1h-1zM449.5 157.5h1v1h-1zM454.5 156h1v1h-1zM442 163.5h1v1h-1zM453 160h1v1h-1zM450 165.5h1v1h-1zM447.5 161h1v1h-1zM443 153.5h1v1h-1zM447 164h1v1h-1zM442.5 157h1v1h-1zM443.5 156.5h1v1h-1zM440 158.5h1v1h-1zM447 154h1v1h-1zM445.5 161.5h1v1h-1zM440.5 162.5h1v1h-1zM457.5 150.5h1v1h-1zM447 166h1v1h-1zM445.5 149.5h1v1h-1zM447 166.5h1v1h-1zM442 155h1v1h-1zM450.5 158.5h1v1h-1zM452.5 157h1v1h-1zM443 160h1v1h-1zM455.5 162h1v1h-1zM444.5 154h1v1h-1zM442.5 154.5h1v1h-1zM441.5 164h1v1h-1zM441.5 161h1v1h-1zM442 154.5h1v1h-1zM441.5 159.5h1v1h-1zM448 152h1v1h-1zM443.5 155h1v1h-1zM459.5 157.5h1v1h-1zM456.5 154h1v1h-1zM456 154h1v1h-1zM459.5 157h1v1h-1zM458 158.5h1v1h-1zM449 164.5h1v1h-1zM450 156.5h1v1h-1zM454 164h1v1h-1zM451.5 165h1v1h-1zM445.5 165.5h1v1h-1zM456.5 157h1v1h-1zM445.5 151.5h1v1h-1zM457 154h1v1h-1zM460 152.5h1v1h-1zM454 163h1v1h-1zM445.5 166h1v1h-1zM441 164.5h1v1h-1zM455 156.5h1v1h-1zM446 165.5h1v1h-1zM457 159.5h1v1h-1zM454.5 160h1v1h-1zM445 156h1v1h-1zM455.5 156.5h1v1h-1zM449.5 154.5h1v1h-1zM451.5 155h1v1h-1zM443.5 157.5h1v1h-1zM445 166.5h1v1h-1zM439.5 164h1v1h-1zM447 152.5h1v1h-1zM455 151h1v1h-1zM446 153.5h1v1h-1zM459 154.5h1v1h-1zM450.5 164h1v1h-1zM446.5 153.5h1v1h-1zM439 163.5h1v1h-1zM445.5 153h1v1h-1zM454.5 149h1v1h-1zM441.5 157h1v1h-1zM451 150.5h1v1h-1zM457 163.5h1v1h-1zM450.5 154h1v1h-1zM443.5 153.5h1v1h-1zM456.5 162h1v1h-1zM453.5 164.5h1v1h-1zM441.5 153h1v1h-1zM455 153h1v1h-1zM442 160h1v1h-1zM445 155.5h1v1h-1zM442 157.5h1v1h-1zM446 152.5h1v1h-1zM441 158h1v1h-1zM450.5 164.5h1v1h-1zM462.5 159.5h1v1h-1zM454.5 162.5h1v1h-1zM448.5 151.5h1v1h-1zM445 159h1v1h-1zM450.5 156h1v1h-1zM452.5 151h1v1h-1zM444 164.5h1v1h-1zM444 158.5h1v1h-1zM452.5 161.5h1v1h-1zM446 150.5h1v1h-1zM440 164.5h1v1h-1zM445.5 163h1v1h-1zM452.5 153.5h1v1h-1zM453.5 157h1v1h-1zM455 163h1v1h-1zM452 156.5h1v1h-1zM453.5 158h1v1h-1zM444.5 159.5h1v1h-1zM447 158.5h1v1h-1zM447 165.5h1v1h-1zM450.5 157.5h1v1h-1zM451.5 159h1v1h-1zM457.5 159h1v1h-1zM453 161h1v1h-1zM445 157h1v1h-1zM457.5 162.5h1v1h-1zM444.5 155h1v1h-1zM447.5 159h1v1h-1zM443 156h1v1h-1zM448.5 163.5h1v1h-1zM445 153h1v1h-1zM457.5 159.5h1v1h-1zM463 160.5h1v1h-1zM454 160.5h1v1h-1zM453 157h1v1h-1zM472.5 156.5h1v1h-1zM465.5 157.5h1v1h-1zM462.5 160h1v1h-1zM467.5 154h1v1h-1zM458 156.5h1v1h-1zM453.5 156h1v1h-1zM456 159.5h1v1h-1zM458 159.5h1v1h-1zM458.5 156h1v1h-1zM460.5 159.5h1v1h-1zM458 160h1v1h-1zM465.5 156.5h1v1h-1zM460.5 154.5h1v1h-1zM456 158h1v1h-1zM455 162h1v1h-1zM463 156h1v1h-1zM461 154.5h1v1h-1zM463.5 157h1v1h-1zM458 155.5h1v1h-1zM458.5 161h1v1h-1zM463 154h1v1h-1zM461 155h1v1h-1zM458 160.5h1v1h-1zM459.5 159.5h1v1h-1zM461.5 151.5h1v1h-1zM454.5 163h1v1h-1zM458 159h1v1h-1zM468 158.5h1v1h-1zM463 158.5h1v1h-1zM469 157h1v1h-1zM457 157.5h1v1h-1zM456.5 161h1v1h-1zM456.5 159h1v1h-1zM461.5 162.5h1v1h-1zM459.5 158h1v1h-1zM458.5 156.5h1v1h-1zM461 157.5h1v1h-1zM467 159.5h1v1h-1zM462.5 160.5h1v1h-1zM461.5 159.5h1v1h-1zM455.5 159h1v1h-1zM460.5 160h1v1h-1zM455.5 153.5h1v1h-1zM464 159h1v1h-1zM455.5 163h1v1h-1zM467 160h1v1h-1zM457.5 160.5h1v1h-1zM460 160h1v1h-1zM457 162.5h1v1h-1zM456.5 159.5h1v1h-1zM459.5 161.5h1v1h-1zM454.5 157.5h1v1h-1zM460.5 155h1v1h-1zM461 162h1v1h-1zM456.5 162.5h1v1h-1zM461 159h1v1h-1zM458.5 158.5h1v1h-1zM459 155h1v1h-1zM460 161h1v1h-1zM463.5 160.5h1v1h-1zM457.5 158h1v1h-1zM457.5 160h1v1h-1zM462.5 155h1v1h-1zM461.5 155.5h1v1h-1zM460 155.5h1v1h-1zM458.5 161.5h1v1h-1zM464.5 158h1v1h-1zM457.5 154.5h1v1h-1zM459.5 155.5h1v1h-1zM462 158.5h1v1h-1zM455.5 158h1v1h-1zM458 158h1v1h-1zM458.5 162h1v1h-1zM457.5 157.5h1v1h-1zM461.5 161.5h1v1h-1zM459 154h1v1h-1zM461 158h1v1h-1zM461.5 158h1v1h-1zM465 155.5h1v1h-1zM460.5 163h1v1h-1zM461.5 160h1v1h-1zM460.5 159h1v1h-1zM462 158h1v1h-1zM462.5 155.5h1v1h-1zM457 160.5h1v1h-1zM458.5 157.5h1v1h-1zM464 158.5h1v1h-1zM459.5 159h1v1h-1zM461 155.5h1v1h-1zM463.5 153h1v1h-1zM462.5 151h1v1h-1zM454 155h1v1h-1zM456 157h1v1h-1zM456 160h1v1h-1zM459.5 161h1v1h-1zM451 162h1v1h-1zM460 156.5h1v1h-1zM461 162.5h1v1h-1zM454 162.5h1v1h-1zM461.5 162h1v1h-1zM460 159h1v1h-1zM462.5 159h1v1h-1zM454 163.5h1v1h-1zM458 162h1v1h-1zM459.5 154.5h1v1h-1zM466 155h1v1h-1zM453 162.5h1v1h-1zM463 155h1v1h-1zM462 155h1v1h-1zM461.5 155h1v1h-1zM461.5 156h1v1h-1zM462.5 161.5h1v1h-1zM464.5 159h1v1h-1zM467 156h1v1h-1zM463.5 161.5h1v1h-1zM458.5 151.5h1v1h-1zM459 155.5h1v1h-1zM459.5 160.5h1v1h-1zM463 159.5h1v1h-1zM460.5 158.5h1v1h-1zM487 116.5h1v1h-1zM486.5 117h1v1h-1zM482 121.5h1v1h-1zM489.5 119.5h1v1h-1zM485.5 118h1v1h-1zM484.5 114.5h1v1h-1zM483 118h1v1h-1zM484.5 113h1v1h-1zM487.5 109.5h1v1h-1zM479.5 118.5h1v1h-1zM486 119.5h1v1h-1zM482.5 120h1v1h-1zM486 110.5h1v1h-1zM486 112.5h1v1h-1zM484 118h1v1h-1zM485.5 115.5h1v1h-1zM488.5 116h1v1h-1zM485 112.5h1v1h-1zM482 121h1v1h-1zM484 115.5h1v1h-1zM483.5 115.5h1v1h-1zM488.5 122.5h1v1h-1zM483.5 116.5h1v1h-1zM480.5 118.5h1v1h-1zM481 119.5h1v1h-1zM488 116.5h1v1h-1zM486 111.5h1v1h-1zM481.5 118.5h1v1h-1zM481 114h1v1h-1zM486.5 121.5h1v1h-1zM481.5 120.5h1v1h-1zM486.5 124h1v1h-1zM486 112h1v1h-1zM482 117.5h1v1h-1zM486 118h1v1h-1zM480.5 116.5h1v1h-1zM485 118h1v1h-1zM483 121.5h1v1h-1zM479.5 118h1v1h-1zM487.5 116h1v1h-1zM484 117h1v1h-1zM485.5 116.5h1v1h-1zM483 116h1v1h-1zM492 116.5h1v1h-1zM484 120h1v1h-1zM489.5 114.5h1v1h-1zM487 113h1v1h-1zM488.5 121.5h1v1h-1zM479 116h1v1h-1zM485.5 122h1v1h-1zM481.5 117.5h1v1h-1zM484 114h1v1h-1zM483.5 118.5h1v1h-1zM485 124h1v1h-1zM479 114.5h1v1h-1zM483.5 116h1v1h-1zM480.5 111.5h1v1h-1zM487 118h1v1h-1zM485 116.5h1v1h-1zM486 125h1v1h-1zM487 109h1v1h-1zM486.5 119h1v1h-1zM483 117.5h1v1h-1zM484.5 119.5h1v1h-1zM479.5 116.5h1v1h-1zM483.5 115h1v1h-1zM485.5 120h1v1h-1zM484.5 108h1v1h-1zM489 121h1v1h-1zM487 114.5h1v1h-1zM484.5 117h1v1h-1zM484 121.5h1v1h-1zM487.5 118h1v1h-1zM482.5 117h1v1h-1zM487 111.5h1v1h-1zM481.5 117h1v1h-1zM484.5 116h1v1h-1zM481 115h1v1h-1zM485.5 113h1v1h-1zM483 118.5h1v1h-1zM480.5 114.5h1v1h-1zM477.5 111h1v1h-1zM487 112.5h1v1h-1zM482 114h1v1h-1zM485 115h1v1h-1zM482 114.5h1v1h-1zM482 113.5h1v1h-1zM489 119h1v1h-1zM485 120h1v1h-1zM485.5 115h1v1h-1zM482 115h1v1h-1zM484.5 109.5h1v1h-1zM485 110.5h1v1h-1zM487.5 120h1v1h-1zM485 117.5h1v1h-1zM484.5 117.5h1v1h-1zM483 111h1v1h-1zM487.5 115.5h1v1h-1zM483 126h1v1h-1zM483.5 120h1v1h-1zM487.5 114.5h1v1h-1zM485 113.5h1v1h-1zM487.5 114h1v1h-1zM483 120.5h1v1h-1zM482 112h1v1h-1zM486 117h1v1h-1zM484.5 120h1v1h-1zM486 116.5h1v1h-1zM487 113.5h1v1h-1zM478.5 114h1v1h-1zM486.5 122h1v1h-1zM486.5 112h1v1h-1zM486.5 118h1v1h-1zM486.5 113h1v1h-1zM488 115h1v1h-1zM481.5 114h1v1h-1zM486 117.5h1v1h-1zM486.5 112.5h1v1h-1zM486 120h1v1h-1zM489 117h1v1h-1zM487 119.5h1v1h-1zM486 120.5h1v1h-1zM488 114.5h1v1h-1zM481.5 115.5h1v1h-1zM484 117.5h1v1h-1zM482 120.5h1v1h-1zM481.5 108h1v1h-1zM487.5 122.5h1v1h-1zM489 110.5h1v1h-1zM486.5 115.5h1v1h-1zM477 112.5h1v1h-1zM484 123h1v1h-1zM483.5 114.5h1v1h-1zM483 114h1v1h-1zM489 115h1v1h-1zM483 113h1v1h-1zM487.5 117h1v1h-1zM484.5 118.5h1v1h-1zM484.5 116.5h1v1h-1zM489 119.5h1v1h-1zM482 115.5h1v1h-1zM481 117h1v1h-1zM481.5 118h1v1h-1zM483 109.5h1v1h-1zM485 112h1v1h-1zM488.5 116.5h1v1h-1zM485 114.5h1v1h-1zM485 119h1v1h-1zM489.5 110.5h1v1h-1zM488 113h1v1h-1zM487 114h1v1h-1zM483.5 113.5h1v1h-1zM483.5 108h1v1h-1zM488 116h1v1h-1zM484.5 113.5h1v1h-1zM484 118.5h1v1h-1zM483 122.5h1v1h-1zM481 113.5h1v1h-1zM480 120h1v1h-1zM481.5 112h1v1h-1zM482.5 119h1v1h-1zM486 114h1v1h-1zM484.5 110.5h1v1h-1zM483 108.5h1v1h-1zM483 116.5h1v1h-1zM482.5 113h1v1h-1zM486.5 139h1v1h-1zM479.5 119.5h1v1h-1zM481 129h1v1h-1zM484.5 137h1v1h-1zM476.5 130h1v1h-1zM483.5 124h1v1h-1zM476 118h1v1h-1zM490.5 139h1v1h-1zM477 135h1v1h-1zM478.5 133h1v1h-1zM490.5 130h1v1h-1zM480 136.5h1v1h-1zM484.5 134.5h1v1h-1zM481.5 119h1v1h-1zM473.5 130h1v1h-1zM482 138h1v1h-1zM478.5 141h1v1h-1zM488 112.5h1v1h-1zM478 135.5h1v1h-1zM488 142.5h1v1h-1zM480.5 134h1v1h-1zM483 142h1v1h-1zM491 128.5h1v1h-1zM480.5 132h1v1h-1zM480.5 128.5h1v1h-1zM484 127h1v1h-1zM478 136h1v1h-1zM485 129.5h1v1h-1zM485 138h1v1h-1zM482 134.5h1v1h-1zM475.5 122.5h1v1h-1zM473.5 137.5h1v1h-1zM478.5 112.5h1v1h-1zM480 127.5h1v1h-1zM473 125.5h1v1h-1zM480.5 122h1v1h-1zM482 132h1v1h-1zM482 140.5h1v1h-1zM486.5 136h1v1h-1zM480 132.5h1v1h-1zM483 121h1v1h-1zM478.5 134.5h1v1h-1zM485.5 126.5h1v1h-1zM480.5 126.5h1v1h-1zM481 133h1v1h-1zM482 125h1v1h-1zM474.5 125h1v1h-1zM485 133h1v1h-1zM479.5 126h1v1h-1zM481 137h1v1h-1zM481 120.5h1v1h-1zM491 136.5h1v1h-1zM481.5 135.5h1v1h-1zM479.5 132h1v1h-1zM481.5 123h1v1h-1zM480.5 137h1v1h-1zM480.5 125.5h1v1h-1zM482.5 139h1v1h-1zM485.5 135h1v1h-1zM477.5 123h1v1h-1zM483 134h1v1h-1zM481.5 136h1v1h-1zM482 136h1v1h-1zM485.5 131.5h1v1h-1zM481 132h1v1h-1zM472.5 145.5h1v1h-1zM484.5 134h1v1h-1zM484.5 133h1v1h-1zM479.5 120.5h1v1h-1zM488 136h1v1h-1zM481 130h1v1h-1zM479 132h1v1h-1zM489 130h1v1h-1zM484.5 127h1v1h-1zM484 125.5h1v1h-1zM480.5 134.5h1v1h-1zM479 126.5h1v1h-1zM487.5 128h1v1h-1zM486.5 122.5h1v1h-1zM488 138.5h1v1h-1zM482.5 128.5h1v1h-1zM482 131h1v1h-1zM482 134h1v1h-1zM477.5 124.5h1v1h-1zM487 131h1v1h-1zM485 146.5h1v1h-1zM477 132h1v1h-1zM481.5 129h1v1h-1zM483.5 133.5h1v1h-1zM484 128.5h1v1h-1zM479.5 120h1v1h-1zM484.5 129h1v1h-1zM488.5 128h1v1h-1zM477.5 132.5h1v1h-1zM480.5 109h1v1h-1zM477 131.5h1v1h-1zM476.5 129.5h1v1h-1zM483 127.5h1v1h-1zM483.5 130.5h1v1h-1zM485.5 125.5h1v1h-1zM484.5 123h1v1h-1zM480 139h1v1h-1zM484 134h1v1h-1zM482 125.5h1v1h-1zM482 116.5h1v1h-1zM478 130.5h1v1h-1zM479 122h1v1h-1zM487 130.5h1v1h-1zM481 128.5h1v1h-1zM480.5 131.5h1v1h-1zM476 126.5h1v1h-1zM478 141h1v1h-1zM481.5 136.5h1v1h-1zM480.5 140.5h1v1h-1zM489 132.5h1v1h-1zM481.5 142h1v1h-1zM481 127.5h1v1h-1zM488 132h1v1h-1zM482.5 132.5h1v1h-1zM488 146.5h1v1h-1zM476 123.5h1v1h-1zM484.5 132h1v1h-1zM482 137h1v1h-1zM479 143.5h1v1h-1zM483.5 135.5h1v1h-1zM483 125h1v1h-1zM478 134.5h1v1h-1zM483.5 142h1v1h-1zM487 129.5h1v1h-1zM481.5 112.5h1v1h-1zM487.5 130h1v1h-1zM482 133.5h1v1h-1zM481.5 121h1v1h-1zM484.5 127.5h1v1h-1zM479 130h1v1h-1zM487 120.5h1v1h-1zM483.5 135h1v1h-1zM486 127.5h1v1h-1zM483.5 139.5h1v1h-1zM477.5 143h1v1h-1zM476.5 135h1v1h-1zM481 130.5h1v1h-1zM489.5 126h1v1h-1zM478.5 118.5h1v1h-1zM484 119h1v1h-1zM486.5 141.5h1v1h-1zM481 112h1v1h-1zM483 144h1v1h-1zM491 134.5h1v1h-1zM477.5 128.5h1v1h-1zM481.5 135h1v1h-1zM479 138h1v1h-1zM478.5 123h1v1h-1zM487.5 130.5h1v1h-1zM483.5 134h1v1h-1zM484 132h1v1h-1zM486.5 131.5h1v1h-1zM487 137h1v1h-1zM483.5 139h1v1h-1zM475.5 141h1v1h-1zM486 141.5h1v1h-1zM484 135.5h1v1h-1zM475 127h1v1h-1zM480.5 125h1v1h-1zM478 138h1v1h-1zM477.5 127h1v1h-1zM485 120.5h1v1h-1zM479.5 131h1v1h-1zM481 125.5h1v1h-1zM479 129.5h1v1h-1z" fill="#000"/>
<rect x="438.4" y="107.5" width="77.1" height="60.4" fill="none" stroke="#888" stroke-width="1.4"/>
<line x1="438.4" y1="107.5" x2="438.4" y2="167.9" stroke="#111" stroke-width="0.9"/>
<line x1="438.4" y1="167.9" x2="515.5" y2="167.9" stroke="#111" stroke-width="0.9"/>
<line x1="467.3" y1="107.5" x2="467.3" y2="167.9" stroke="#222" stroke-width="0.8"/>
<line x1="438.4" y1="144.5" x2="515.5" y2="144.5" stroke="#222" stroke-width="0.8"/>
<text x="438.1" y="176" font-size="5.0" text-anchor="middle" fill="#000" stroke="#000" stroke-width="0.08">10</text>
<text x="441.1" y="174.2" font-size="4.2" fill="#000" stroke="#000" stroke-width="0.06">0</text>
<g transform="rotate(-90 431.2 166.7)"><text x="429.7" y="168.6" font-size="5.0" text-anchor="middle" stroke="#000" stroke-width="0.08">10</text><text x="432.5" y="166.8" font-size="4.2" stroke="#000" stroke-width="0.06">0</text></g>
<line x1="438.7" y1="167.9" x2="438.7" y2="169.9" stroke="#000" stroke-width="0.6"/>
<line x1="436.4" y1="166.70000000000002" x2="438.4" y2="166.70000000000002" stroke="#000" stroke-width="0.6"/>
<line x1="444.3894669180492" y1="167.9" x2="444.3894669180492" y2="169.1" stroke="#000" stroke-width="0.5"/>
<line x1="437.2" y1="162.1996015648235" x2="438.4" y2="162.1996015648235" stroke="#000" stroke-width="0.5"/>
<line x1="447.7175917142016" y1="167.9" x2="447.7175917142016" y2="169.1" stroke="#000" stroke-width="0.5"/>
<line x1="437.2" y1="159.56703724194105" x2="438.4" y2="159.56703724194105" stroke="#000" stroke-width="0.5"/>
<line x1="450.0789338360985" y1="167.9" x2="450.0789338360985" y2="169.1" stroke="#000" stroke-width="0.5"/>
<line x1="437.2" y1="157.69920312964697" x2="438.4" y2="157.69920312964697" stroke="#000" stroke-width="0.5"/>
<line x1="451.91053308195075" y1="167.9" x2="451.91053308195075" y2="169.1" stroke="#000" stroke-width="0.5"/>
<line x1="437.2" y1="156.25039843517652" x2="438.4" y2="156.25039843517652" stroke="#000" stroke-width="0.5"/>
<line x1="453.4070586322508" y1="167.9" x2="453.4070586322508" y2="169.1" stroke="#000" stroke-width="0.5"/>
<line x1="437.2" y1="155.06663880676453" x2="438.4" y2="155.06663880676453" stroke="#000" stroke-width="0.5"/>
<line x1="454.67235295626944" y1="167.9" x2="454.67235295626944" y2="169.1" stroke="#000" stroke-width="0.5"/>
<line x1="437.2" y1="154.06578430178686" x2="438.4" y2="154.06578430178686" stroke="#000" stroke-width="0.5"/>
<line x1="455.7684007541477" y1="167.9" x2="455.7684007541477" y2="169.1" stroke="#000" stroke-width="0.5"/>
<line x1="437.2" y1="153.19880469447045" x2="438.4" y2="153.19880469447045" stroke="#000" stroke-width="0.5"/>
<line x1="456.7351834284032" y1="167.9" x2="456.7351834284032" y2="169.1" stroke="#000" stroke-width="0.5"/>
<line x1="437.2" y1="152.4340744838821" x2="438.4" y2="152.4340744838821" stroke="#000" stroke-width="0.5"/>
<text x="457" y="176" font-size="5.0" text-anchor="middle" fill="#000" stroke="#000" stroke-width="0.08">10</text>
<text x="460" y="174.2" font-size="4.2" fill="#000" stroke="#000" stroke-width="0.06">1</text>
<g transform="rotate(-90 431.2 151.75)"><text x="429.7" y="153.65" font-size="5.0" text-anchor="middle" stroke="#000" stroke-width="0.08">10</text><text x="432.5" y="151.85" font-size="4.2" stroke="#000" stroke-width="0.06">1</text></g>
<line x1="457.59999999999997" y1="167.9" x2="457.59999999999997" y2="169.9" stroke="#000" stroke-width="0.6"/>
<line x1="436.4" y1="151.75" x2="438.4" y2="151.75" stroke="#000" stroke-width="0.6"/>
<line x1="463.28946691804924" y1="167.9" x2="463.28946691804924" y2="169.1" stroke="#000" stroke-width="0.5"/>
<line x1="437.2" y1="147.24960156482348" x2="438.4" y2="147.24960156482348" stroke="#000" stroke-width="0.5"/>
<line x1="466.6175917142016" y1="167.9" x2="466.6175917142016" y2="169.1" stroke="#000" stroke-width="0.5"/>
<line x1="437.2" y1="144.61703724194106" x2="438.4" y2="144.61703724194106" stroke="#000" stroke-width="0.5"/>
<line x1="468.97893383609846" y1="167.9" x2="468.97893383609846" y2="169.1" stroke="#000" stroke-width="0.5"/>
<line x1="437.2" y1="142.74920312964696" x2="438.4" y2="142.74920312964696" stroke="#000" stroke-width="0.5"/>
<line x1="470.8105330819507" y1="167.9" x2="470.8105330819507" y2="169.1" stroke="#000" stroke-width="0.5"/>
<line x1="437.2" y1="141.30039843517653" x2="438.4" y2="141.30039843517653" stroke="#000" stroke-width="0.5"/>
<line x1="472.30705863225086" y1="167.9" x2="472.30705863225086" y2="169.1" stroke="#000" stroke-width="0.5"/>
<line x1="437.2" y1="140.11663880676454" x2="438.4" y2="140.11663880676454" stroke="#000" stroke-width="0.5"/>
<line x1="473.5723529562694" y1="167.9" x2="473.5723529562694" y2="169.1" stroke="#000" stroke-width="0.5"/>
<line x1="437.2" y1="139.11578430178687" x2="438.4" y2="139.11578430178687" stroke="#000" stroke-width="0.5"/>
<line x1="474.6684007541477" y1="167.9" x2="474.6684007541477" y2="169.1" stroke="#000" stroke-width="0.5"/>
<line x1="437.2" y1="138.24880469447046" x2="438.4" y2="138.24880469447046" stroke="#000" stroke-width="0.5"/>
<line x1="475.6351834284032" y1="167.9" x2="475.6351834284032" y2="169.1" stroke="#000" stroke-width="0.5"/>
<line x1="437.2" y1="137.4840744838821" x2="438.4" y2="137.4840744838821" stroke="#000" stroke-width="0.5"/>
<text x="475.9" y="176" font-size="5.0" text-anchor="middle" fill="#000" stroke="#000" stroke-width="0.08">10</text>
<text x="478.9" y="174.2" font-size="4.2" fill="#000" stroke="#000" stroke-width="0.06">2</text>
<g transform="rotate(-90 431.2 136.8)"><text x="429.7" y="138.7" font-size="5.0" text-anchor="middle" stroke="#000" stroke-width="0.08">10</text><text x="432.5" y="136.9" font-size="4.2" stroke="#000" stroke-width="0.06">2</text></g>
<line x1="476.5" y1="167.9" x2="476.5" y2="169.9" stroke="#000" stroke-width="0.6"/>
<line x1="436.4" y1="136.8" x2="438.4" y2="136.8" stroke="#000" stroke-width="0.6"/>
<line x1="482.1894669180492" y1="167.9" x2="482.1894669180492" y2="169.1" stroke="#000" stroke-width="0.5"/>
<line x1="437.2" y1="132.2996015648235" x2="438.4" y2="132.2996015648235" stroke="#000" stroke-width="0.5"/>
<line x1="485.5175917142016" y1="167.9" x2="485.5175917142016" y2="169.1" stroke="#000" stroke-width="0.5"/>
<line x1="437.2" y1="129.66703724194105" x2="438.4" y2="129.66703724194105" stroke="#000" stroke-width="0.5"/>
<line x1="487.87893383609844" y1="167.9" x2="487.87893383609844" y2="169.1" stroke="#000" stroke-width="0.5"/>
<line x1="437.2" y1="127.79920312964697" x2="438.4" y2="127.79920312964697" stroke="#000" stroke-width="0.5"/>
<line x1="489.7105330819507" y1="167.9" x2="489.7105330819507" y2="169.1" stroke="#000" stroke-width="0.5"/>
<line x1="437.2" y1="126.35039843517653" x2="438.4" y2="126.35039843517653" stroke="#000" stroke-width="0.5"/>
<line x1="491.20705863225083" y1="167.9" x2="491.20705863225083" y2="169.1" stroke="#000" stroke-width="0.5"/>
<line x1="437.2" y1="125.16663880676452" x2="438.4" y2="125.16663880676452" stroke="#000" stroke-width="0.5"/>
<line x1="492.47235295626945" y1="167.9" x2="492.47235295626945" y2="169.1" stroke="#000" stroke-width="0.5"/>
<line x1="437.2" y1="124.16578430178687" x2="438.4" y2="124.16578430178687" stroke="#000" stroke-width="0.5"/>
<line x1="493.5684007541477" y1="167.9" x2="493.5684007541477" y2="169.1" stroke="#000" stroke-width="0.5"/>
<line x1="437.2" y1="123.29880469447045" x2="438.4" y2="123.29880469447045" stroke="#000" stroke-width="0.5"/>
<line x1="494.53518342840323" y1="167.9" x2="494.53518342840323" y2="169.1" stroke="#000" stroke-width="0.5"/>
<line x1="437.2" y1="122.53407448388211" x2="438.4" y2="122.53407448388211" stroke="#000" stroke-width="0.5"/>
<text x="494.8" y="176" font-size="5.0" text-anchor="middle" fill="#000" stroke="#000" stroke-width="0.08">10</text>
<text x="497.8" y="174.2" font-size="4.2" fill="#000" stroke="#000" stroke-width="0.06">3</text>
<g transform="rotate(-90 431.2 121.85)"><text x="429.7" y="123.75" font-size="5.0" text-anchor="middle" stroke="#000" stroke-width="0.08">10</text><text x="432.5" y="121.95" font-size="4.2" stroke="#000" stroke-width="0.06">3</text></g>
<line x1="495.4" y1="167.9" x2="495.4" y2="169.9" stroke="#000" stroke-width="0.6"/>
<line x1="436.4" y1="121.85000000000001" x2="438.4" y2="121.85000000000001" stroke="#000" stroke-width="0.6"/>
<line x1="501.0894669180492" y1="167.9" x2="501.0894669180492" y2="169.1" stroke="#000" stroke-width="0.5"/>
<line x1="437.2" y1="117.34960156482349" x2="438.4" y2="117.34960156482349" stroke="#000" stroke-width="0.5"/>
<line x1="504.4175917142016" y1="167.9" x2="504.4175917142016" y2="169.1" stroke="#000" stroke-width="0.5"/>
<line x1="437.2" y1="114.71703724194106" x2="438.4" y2="114.71703724194106" stroke="#000" stroke-width="0.5"/>
<line x1="506.7789338360984" y1="167.9" x2="506.7789338360984" y2="169.1" stroke="#000" stroke-width="0.5"/>
<line x1="437.2" y1="112.84920312964697" x2="438.4" y2="112.84920312964697" stroke="#000" stroke-width="0.5"/>
<line x1="508.61053308195073" y1="167.9" x2="508.61053308195073" y2="169.1" stroke="#000" stroke-width="0.5"/>
<line x1="437.2" y1="111.40039843517653" x2="438.4" y2="111.40039843517653" stroke="#000" stroke-width="0.5"/>
<line x1="510.1070586322508" y1="167.9" x2="510.1070586322508" y2="169.1" stroke="#000" stroke-width="0.5"/>
<line x1="437.2" y1="110.21663880676454" x2="438.4" y2="110.21663880676454" stroke="#000" stroke-width="0.5"/>
<line x1="511.3723529562694" y1="167.9" x2="511.3723529562694" y2="169.1" stroke="#000" stroke-width="0.5"/>
<line x1="437.2" y1="109.21578430178687" x2="438.4" y2="109.21578430178687" stroke="#000" stroke-width="0.5"/>
<line x1="512.4684007541478" y1="167.9" x2="512.4684007541478" y2="169.1" stroke="#000" stroke-width="0.5"/>
<line x1="437.2" y1="108.34880469447045" x2="438.4" y2="108.34880469447045" stroke="#000" stroke-width="0.5"/>
<line x1="513.4351834284032" y1="167.9" x2="513.4351834284032" y2="169.1" stroke="#000" stroke-width="0.5"/>
<line x1="437.2" y1="107.58407448388209" x2="438.4" y2="107.58407448388209" stroke="#000" stroke-width="0.5"/>
<text x="513.7" y="176" font-size="5.0" text-anchor="middle" fill="#000" stroke="#000" stroke-width="0.08">10</text>
<text x="516.7" y="174.2" font-size="4.2" fill="#000" stroke="#000" stroke-width="0.06">4</text>
<g transform="rotate(-90 431.2 106.9)"><text x="429.7" y="108.8" font-size="5.0" text-anchor="middle" stroke="#000" stroke-width="0.08">10</text><text x="432.5" y="107" font-size="4.2" stroke="#000" stroke-width="0.06">4</text></g>
<line x1="514.3" y1="167.9" x2="514.3" y2="169.9" stroke="#000" stroke-width="0.6"/>
<line x1="436.4" y1="106.9" x2="438.4" y2="106.9" stroke="#000" stroke-width="0.6"/>
<path d="M446 236h1v1h-1zM452 234.5h1v1h-1zM452.5 240h1v1h-1zM446 237.5h1v1h-1zM449 237.5h1v1h-1zM456.5 236.5h1v1h-1zM452.5 236h1v1h-1zM454 234h1v1h-1zM451 236.5h1v1h-1zM461 240h1v1h-1zM456.5 233h1v1h-1zM447.5 236h1v1h-1zM453 241h1v1h-1zM455 237.5h1v1h-1zM452.5 235h1v1h-1zM457 238.5h1v1h-1zM449 241h1v1h-1zM455.5 236h1v1h-1zM446.5 239h1v1h-1zM458.5 237h1v1h-1zM454 242h1v1h-1zM454.5 236h1v1h-1zM458 236.5h1v1h-1zM460.5 241h1v1h-1zM446 239.5h1v1h-1zM452 235h1v1h-1zM448 232h1v1h-1zM445 239.5h1v1h-1zM448.5 237h1v1h-1zM460 235.5h1v1h-1zM464.5 241.5h1v1h-1zM440 237.5h1v1h-1zM447.5 240.5h1v1h-1zM454.5 231h1v1h-1zM454.5 239h1v1h-1zM451.5 243h1v1h-1zM448 234.5h1v1h-1zM461.5 233h1v1h-1zM455.5 237.5h1v1h-1zM454.5 233.5h1v1h-1zM454 234.5h1v1h-1zM473 213.5h1v1h-1zM472.5 196h1v1h-1zM476 198.5h1v1h-1zM475 215.5h1v1h-1zM473 202.5h1v1h-1zM473.5 209h1v1h-1zM471 194h1v1h-1zM472.5 210h1v1h-1zM473.5 217h1v1h-1zM467.5 209.5h1v1h-1zM471 207.5h1v1h-1zM470 204h1v1h-1zM476 209.5h1v1h-1zM474 211h1v1h-1zM471 206h1v1h-1zM472.5 196.5h1v1h-1zM469.5 203.5h1v1h-1zM470.5 212h1v1h-1zM469.5 200h1v1h-1zM470 206h1v1h-1zM472 209h1v1h-1zM475 196.5h1v1h-1zM473 206h1v1h-1zM472 207.5h1v1h-1zM469 210h1v1h-1zM474.5 213h1v1h-1zM472.5 203h1v1h-1zM471.5 197h1v1h-1zM472.5 208h1v1h-1zM474 199h1v1h-1zM471 198.5h1v1h-1zM471 223.5h1v1h-1zM473.5 206h1v1h-1zM469 216h1v1h-1zM473 196.5h1v1h-1zM471 196.5h1v1h-1zM468.5 223.5h1v1h-1zM475.5 203.5h1v1h-1zM469.5 212.5h1v1h-1zM470.5 206.5h1v1h-1zM471.5 201.5h1v1h-1zM474.5 214h1v1h-1zM470 211h1v1h-1zM472.5 212h1v1h-1zM468.5 215.5h1v1h-1zM473 208h1v1h-1zM473.5 197h1v1h-1zM469.5 216h1v1h-1zM474 207h1v1h-1zM471 220.5h1v1h-1zM471 195.5h1v1h-1zM472.5 197.5h1v1h-1zM469 195h1v1h-1zM473 207h1v1h-1zM471.5 186.5h1v1h-1zM473.5 211.5h1v1h-1zM472.5 211.5h1v1h-1zM471 219h1v1h-1zM471 204.5h1v1h-1zM476.5 198h1v1h-1zM475.5 205.5h1v1h-1zM468.5 196h1v1h-1zM471 201h1v1h-1zM473 206.5h1v1h-1zM470 195.5h1v1h-1zM473.5 215h1v1h-1zM472.5 203.5h1v1h-1zM470.5 202h1v1h-1zM470 195h1v1h-1zM471.5 206.5h1v1h-1zM467.5 199.5h1v1h-1zM476 194.5h1v1h-1zM475 210.5h1v1h-1zM473 211h1v1h-1zM473 197.5h1v1h-1zM473 200.5h1v1h-1zM477 213h1v1h-1zM474.5 198h1v1h-1zM473 199h1v1h-1zM474.5 203.5h1v1h-1zM474 221h1v1h-1zM469.5 209.5h1v1h-1zM472.5 213.5h1v1h-1zM470.5 209h1v1h-1zM469.5 212h1v1h-1zM466.5 196.5h1v1h-1zM471.5 207h1v1h-1zM471.5 191.5h1v1h-1zM476 217.5h1v1h-1zM470 213.5h1v1h-1zM470 189h1v1h-1zM470 201.5h1v1h-1zM473 195.5h1v1h-1zM468 205h1v1h-1zM470 197h1v1h-1zM473.5 205.5h1v1h-1zM474.5 223h1v1h-1zM472 202.5h1v1h-1zM471.5 199.5h1v1h-1zM472 213.5h1v1h-1zM469 208h1v1h-1zM473.5 205h1v1h-1zM471.5 202.5h1v1h-1zM471.5 212.5h1v1h-1zM469 194.5h1v1h-1zM469.5 218h1v1h-1zM471 207h1v1h-1zM471.5 219h1v1h-1zM470.5 193h1v1h-1zM472 224.5h1v1h-1zM468.5 194h1v1h-1zM474 196.5h1v1h-1zM472.5 188.5h1v1h-1zM475 213h1v1h-1zM468 193.5h1v1h-1zM469 206.5h1v1h-1zM467.5 186.5h1v1h-1zM474.5 190h1v1h-1zM474 201h1v1h-1zM471 200h1v1h-1zM471 202h1v1h-1zM474.5 206h1v1h-1zM472 203.5h1v1h-1zM471 206.5h1v1h-1zM469.5 195h1v1h-1zM472 212.5h1v1h-1zM468 201h1v1h-1zM472.5 202h1v1h-1zM470 190.5h1v1h-1zM470.5 218.5h1v1h-1zM469 208.5h1v1h-1zM472 207h1v1h-1zM471.5 195.5h1v1h-1zM470.5 204h1v1h-1zM468 213.5h1v1h-1zM468 215.5h1v1h-1zM468 211.5h1v1h-1zM469 203h1v1h-1zM475.5 209.5h1v1h-1zM473 215h1v1h-1zM471 211.5h1v1h-1zM475.5 200.5h1v1h-1zM472 201h1v1h-1zM470 216h1v1h-1zM476.5 191.5h1v1h-1zM469 201.5h1v1h-1zM477.5 203h1v1h-1zM472.5 202.5h1v1h-1zM471.5 216h1v1h-1zM467.5 193h1v1h-1zM471.5 205.5h1v1h-1zM470 226h1v1h-1zM470.5 211.5h1v1h-1zM470 212h1v1h-1zM476 215.5h1v1h-1zM473 188h1v1h-1zM475.5 210h1v1h-1zM473 209h1v1h-1zM470.5 191h1v1h-1zM475 208h1v1h-1zM476.5 193.5h1v1h-1zM461.5 202.5h1v1h-1zM454.5 206.5h1v1h-1zM462.5 219.5h1v1h-1zM462 198h1v1h-1zM444 216.5h1v1h-1zM445.5 204.5h1v1h-1zM458 199.5h1v1h-1zM446.5 212h1v1h-1zM461.5 203.5h1v1h-1zM465.5 199h1v1h-1zM447.5 213.5h1v1h-1zM446.5 201.5h1v1h-1zM452.5 201.5h1v1h-1zM460.5 212.5h1v1h-1zM459 204h1v1h-1zM457.5 207h1v1h-1zM464 214.5h1v1h-1zM455 209h1v1h-1zM459 189.5h1v1h-1zM456 208.5h1v1h-1zM460.5 208h1v1h-1zM463.5 212.5h1v1h-1zM460 204h1v1h-1zM449.5 209.5h1v1h-1zM460 207.5h1v1h-1zM447 222.5h1v1h-1zM448 211h1v1h-1zM456 205.5h1v1h-1zM459 211.5h1v1h-1zM461 207h1v1h-1zM469.5 201.5h1v1h-1zM442 215h1v1h-1zM462.5 212.5h1v1h-1zM460 214.5h1v1h-1zM455.5 212.5h1v1h-1zM453.5 209.5h1v1h-1zM450 203h1v1h-1zM461 211.5h1v1h-1zM452 206.5h1v1h-1zM459.5 220h1v1h-1zM470 224.5h1v1h-1zM464 197h1v1h-1zM460.5 210h1v1h-1zM462 206.5h1v1h-1zM452 216.5h1v1h-1zM447 194h1v1h-1zM461 218.5h1v1h-1zM471 205.5h1v1h-1zM448 212.5h1v1h-1zM456 204.5h1v1h-1zM449.5 204.5h1v1h-1zM452 204.5h1v1h-1zM463.5 211h1v1h-1zM451.5 222.5h1v1h-1zM453.5 207h1v1h-1zM444 201h1v1h-1zM452 207.5h1v1h-1zM459.5 211h1v1h-1zM460 205h1v1h-1zM454.5 215h1v1h-1zM462.5 205h1v1h-1zM464.5 209h1v1h-1zM441.5 222.5h1v1h-1zM457.5 228.5h1v1h-1zM460.5 205h1v1h-1zM455.5 207h1v1h-1zM462.5 201.5h1v1h-1zM451.5 203h1v1h-1zM462 208h1v1h-1zM449 218.5h1v1h-1zM446.5 220.5h1v1h-1zM465.5 205h1v1h-1zM457 208h1v1h-1zM455.5 218h1v1h-1zM445.5 219.5h1v1h-1zM453 204.5h1v1h-1zM449.5 210h1v1h-1zM450.5 200.5h1v1h-1zM455 197.5h1v1h-1zM455 211h1v1h-1zM451 207.5h1v1h-1zM456 207h1v1h-1zM459 214.5h1v1h-1zM450.5 207h1v1h-1zM458 218.5h1v1h-1zM464 209h1v1h-1zM446 200h1v1h-1zM463.5 225.5h1v1h-1zM456 209h1v1h-1zM462 202.5h1v1h-1zM450.5 213.5h1v1h-1zM443.5 206.5h1v1h-1zM453.5 216h1v1h-1zM456.5 221h1v1h-1zM460 221.5h1v1h-1zM450 213.5h1v1h-1zM457.5 201.5h1v1h-1zM451 207h1v1h-1zM461.5 200.5h1v1h-1zM452.5 220h1v1h-1zM453 212.5h1v1h-1zM456 214h1v1h-1zM441.5 212h1v1h-1z" fill="#555"/>
<path d="M451.5 229.5h1v1h-1zM448 225h1v1h-1zM444.5 231.5h1v1h-1zM449.5 227h1v1h-1zM445.5 229h1v1h-1zM451.5 226h1v1h-1zM444 231h1v1h-1zM442 227h1v1h-1zM446.5 229.5h1v1h-1zM446 229.5h1v1h-1zM442.5 231.5h1v1h-1zM443 225.5h1v1h-1zM447 231h1v1h-1zM447 228.5h1v1h-1zM442 233.5h1v1h-1zM442.5 228h1v1h-1zM451 227.5h1v1h-1zM443 228h1v1h-1zM449.5 227.5h1v1h-1zM446 224.5h1v1h-1zM452 221h1v1h-1zM450.5 223h1v1h-1zM445.5 226.5h1v1h-1zM450 229h1v1h-1zM440 228.5h1v1h-1zM449.5 225h1v1h-1zM445.5 228.5h1v1h-1zM448.5 236.5h1v1h-1zM445 232.5h1v1h-1zM442.5 229.5h1v1h-1zM440.5 224.5h1v1h-1zM442.5 228.5h1v1h-1zM448.5 227h1v1h-1zM447.5 230h1v1h-1zM443 235.5h1v1h-1zM447 222h1v1h-1zM442 224h1v1h-1zM441 232h1v1h-1zM447 232h1v1h-1zM445 229.5h1v1h-1zM446 224h1v1h-1zM445 228h1v1h-1zM441 233h1v1h-1zM446 225.5h1v1h-1zM450 226h1v1h-1zM444 229.5h1v1h-1zM446.5 230h1v1h-1zM443.5 229h1v1h-1zM448.5 229h1v1h-1zM447 229h1v1h-1zM447.5 226.5h1v1h-1zM451 228.5h1v1h-1zM442.5 225.5h1v1h-1zM441.5 229.5h1v1h-1zM441.5 230.5h1v1h-1zM441.5 226h1v1h-1zM447 224.5h1v1h-1zM449 229h1v1h-1zM446.5 228h1v1h-1zM440 227.5h1v1h-1zM439.5 225.5h1v1h-1zM442.5 232.5h1v1h-1zM441 232.5h1v1h-1zM447 231.5h1v1h-1zM444.5 225.5h1v1h-1zM444.5 222h1v1h-1zM441 227.5h1v1h-1zM444 225h1v1h-1zM448.5 231h1v1h-1zM447.5 231.5h1v1h-1zM442 237.5h1v1h-1zM439.5 232.5h1v1h-1zM442.5 227h1v1h-1zM451 231h1v1h-1zM444.5 224.5h1v1h-1zM449 231.5h1v1h-1zM445.5 222.5h1v1h-1zM450 233.5h1v1h-1zM442.5 237h1v1h-1zM443.5 224.5h1v1h-1zM445 226h1v1h-1zM450.5 228.5h1v1h-1zM443 229.5h1v1h-1zM440 230h1v1h-1zM440 231h1v1h-1zM452.5 222.5h1v1h-1zM439.5 227.5h1v1h-1zM445 228.5h1v1h-1zM447.5 228.5h1v1h-1zM445.5 227.5h1v1h-1zM444.5 227.5h1v1h-1zM443.5 233.5h1v1h-1zM449 225.5h1v1h-1zM440 230.5h1v1h-1zM441 222.5h1v1h-1zM439.5 235h1v1h-1zM449.5 229.5h1v1h-1zM443 223.5h1v1h-1zM439.5 231.5h1v1h-1zM454.5 229.5h1v1h-1zM447.5 231h1v1h-1zM446 226h1v1h-1zM444 228h1v1h-1zM441 228h1v1h-1zM442.5 229h1v1h-1zM455 226.5h1v1h-1zM444.5 228h1v1h-1zM443 230h1v1h-1zM440.5 229.5h1v1h-1zM448 231.5h1v1h-1zM445.5 232.5h1v1h-1zM452.5 224.5h1v1h-1zM443 224h1v1h-1zM444 228.5h1v1h-1zM448.5 225h1v1h-1zM448.5 228.5h1v1h-1zM444.5 226h1v1h-1zM441.5 232h1v1h-1zM445 225h1v1h-1zM444 226h1v1h-1zM446 230.5h1v1h-1zM446 231.5h1v1h-1zM440.5 227h1v1h-1zM456.5 228.5h1v1h-1zM447.5 232.5h1v1h-1zM454.5 223h1v1h-1zM442 230.5h1v1h-1zM448 225.5h1v1h-1zM448.5 232h1v1h-1zM446 231h1v1h-1zM446 227.5h1v1h-1zM444 229h1v1h-1zM444.5 226.5h1v1h-1zM439 232.5h1v1h-1zM448 226.5h1v1h-1zM448 228h1v1h-1zM448.5 221h1v1h-1zM447 229.5h1v1h-1zM451 224h1v1h-1zM449.5 225.5h1v1h-1zM446.5 225h1v1h-1zM445.5 231.5h1v1h-1zM452 229h1v1h-1zM439.5 233h1v1h-1zM442 236h1v1h-1zM450 230h1v1h-1zM439.5 229h1v1h-1zM447.5 230.5h1v1h-1zM443.5 225h1v1h-1zM443.5 223.5h1v1h-1zM441.5 227.5h1v1h-1zM443 232.5h1v1h-1zM441 226.5h1v1h-1zM451.5 230.5h1v1h-1zM444.5 228.5h1v1h-1zM439.5 231h1v1h-1zM447 234h1v1h-1zM443 227h1v1h-1zM445.5 229.5h1v1h-1zM450.5 232.5h1v1h-1zM452.5 228h1v1h-1zM440 234h1v1h-1zM448 222h1v1h-1zM439.5 223h1v1h-1zM443 226.5h1v1h-1zM451 229h1v1h-1zM446.5 229h1v1h-1zM444.5 227h1v1h-1zM443.5 225.5h1v1h-1zM444.5 230h1v1h-1zM440 231.5h1v1h-1zM446 227h1v1h-1zM440.5 227.5h1v1h-1zM446.5 230.5h1v1h-1zM444 226.5h1v1h-1zM442.5 233.5h1v1h-1zM444.5 229h1v1h-1zM444 227.5h1v1h-1zM449 225h1v1h-1zM442 232.5h1v1h-1zM448 228.5h1v1h-1zM445 230h1v1h-1zM439 230.5h1v1h-1zM450.5 231.5h1v1h-1zM450.5 224.5h1v1h-1zM444 230h1v1h-1zM453 224.5h1v1h-1zM443.5 222.5h1v1h-1zM448 226h1v1h-1zM441.5 228h1v1h-1zM443.5 231h1v1h-1zM443 225h1v1h-1zM440.5 230.5h1v1h-1zM443 231h1v1h-1zM443.5 224h1v1h-1zM440.5 224h1v1h-1zM445 226.5h1v1h-1zM444.5 235h1v1h-1zM447 230.5h1v1h-1zM448 224.5h1v1h-1zM441.5 231.5h1v1h-1zM446 230h1v1h-1zM442 231.5h1v1h-1zM444 230.5h1v1h-1zM446 223.5h1v1h-1zM444 225.5h1v1h-1zM442.5 223.5h1v1h-1zM440.5 232h1v1h-1zM444 227h1v1h-1zM440 227h1v1h-1zM441.5 234h1v1h-1zM448 236h1v1h-1zM442 228h1v1h-1zM449 232h1v1h-1zM449 227h1v1h-1zM441.5 226.5h1v1h-1zM447.5 219.5h1v1h-1zM445.5 230h1v1h-1zM449.5 231h1v1h-1zM445.5 234h1v1h-1zM442.5 238.5h1v1h-1zM441 226h1v1h-1zM447.5 233.5h1v1h-1zM445 227.5h1v1h-1zM446 222h1v1h-1zM439.5 230.5h1v1h-1zM451.5 229h1v1h-1zM442 228.5h1v1h-1zM450.5 229.5h1v1h-1zM445.5 228h1v1h-1zM440.5 228.5h1v1h-1zM447.5 229.5h1v1h-1zM447 228h1v1h-1zM448.5 230h1v1h-1zM442 230h1v1h-1zM443.5 226.5h1v1h-1zM444.5 223h1v1h-1zM442.5 230h1v1h-1zM449 222h1v1h-1zM447.5 227.5h1v1h-1zM446.5 233h1v1h-1zM445 231h1v1h-1zM450 225h1v1h-1zM443.5 227h1v1h-1zM448 231h1v1h-1zM442 235.5h1v1h-1zM441 228.5h1v1h-1zM442.5 226h1v1h-1zM449.5 226.5h1v1h-1zM454 231h1v1h-1zM443 230.5h1v1h-1zM449 226h1v1h-1zM446 229h1v1h-1zM450.5 226h1v1h-1zM439.5 228.5h1v1h-1zM443.5 229.5h1v1h-1zM439 233h1v1h-1zM453 229.5h1v1h-1zM439.5 234h1v1h-1zM441.5 228.5h1v1h-1zM447 233h1v1h-1zM446.5 226h1v1h-1zM442.5 231h1v1h-1zM443.5 231.5h1v1h-1zM453 227h1v1h-1zM439.5 234.5h1v1h-1zM446 228.5h1v1h-1zM443 226h1v1h-1zM448.5 226h1v1h-1zM447 225.5h1v1h-1zM443.5 232.5h1v1h-1zM452 232h1v1h-1zM449.5 228.5h1v1h-1zM447.5 229h1v1h-1zM444 231.5h1v1h-1zM440 229.5h1v1h-1zM446 233h1v1h-1zM445.5 239h1v1h-1zM449 228.5h1v1h-1zM450 225.5h1v1h-1zM441.5 229h1v1h-1zM440 226h1v1h-1zM443.5 230.5h1v1h-1zM443 227.5h1v1h-1zM448 230h1v1h-1zM441 229h1v1h-1zM452 221.5h1v1h-1zM451 232h1v1h-1zM441.5 227h1v1h-1zM445.5 230.5h1v1h-1zM439.5 227h1v1h-1zM442 231h1v1h-1zM439 224.5h1v1h-1zM461 222h1v1h-1zM449.5 223h1v1h-1zM447.5 225.5h1v1h-1zM443 234h1v1h-1zM444.5 231h1v1h-1zM446.5 232h1v1h-1zM450.5 227.5h1v1h-1zM450.5 231h1v1h-1zM445 235h1v1h-1zM442 226h1v1h-1zM442.5 222.5h1v1h-1zM447 230h1v1h-1zM444.5 230.5h1v1h-1zM440.5 229h1v1h-1zM451 231.5h1v1h-1zM456 227h1v1h-1zM444 236h1v1h-1zM442 236.5h1v1h-1zM456 222h1v1h-1zM449.5 226h1v1h-1zM443 229h1v1h-1zM443.5 227.5h1v1h-1zM447.5 227h1v1h-1zM446 225h1v1h-1zM446.5 226.5h1v1h-1zM449 230.5h1v1h-1zM445 234.5h1v1h-1zM447 223.5h1v1h-1zM453.5 227.5h1v1h-1zM440.5 231h1v1h-1zM446 233.5h1v1h-1zM449.5 222h1v1h-1zM447.5 228h1v1h-1zM441.5 235.5h1v1h-1zM445.5 225.5h1v1h-1zM442 229.5h1v1h-1zM445 223.5h1v1h-1zM443 228.5h1v1h-1zM440.5 234.5h1v1h-1zM445 222.5h1v1h-1zM452.5 225.5h1v1h-1zM447.5 221.5h1v1h-1zM447.5 226h1v1h-1zM446 226.5h1v1h-1zM456.5 228h1v1h-1zM440 232.5h1v1h-1zM443.5 228.5h1v1h-1zM441 231h1v1h-1zM447 221h1v1h-1zM441 231.5h1v1h-1zM445.5 225h1v1h-1zM442 229h1v1h-1zM439.5 224.5h1v1h-1zM441.5 233.5h1v1h-1zM439 230h1v1h-1zM444 223.5h1v1h-1zM445 230.5h1v1h-1zM450 226.5h1v1h-1zM446.5 224.5h1v1h-1zM442 227.5h1v1h-1zM443 233h1v1h-1zM444.5 229.5h1v1h-1zM440.5 225.5h1v1h-1zM451 225.5h1v1h-1zM452 226h1v1h-1zM443 236.5h1v1h-1zM446.5 233.5h1v1h-1zM448.5 226.5h1v1h-1zM449 229.5h1v1h-1zM443.5 233h1v1h-1zM445.5 232h1v1h-1zM442 232h1v1h-1zM445.5 224.5h1v1h-1zM439.5 224h1v1h-1zM441 230h1v1h-1zM439 231h1v1h-1zM451 230.5h1v1h-1zM449 223h1v1h-1zM444 224.5h1v1h-1zM440.5 233h1v1h-1zM442 225.5h1v1h-1zM450 229.5h1v1h-1zM446.5 234h1v1h-1zM445.5 235h1v1h-1zM444 233.5h1v1h-1zM442.5 232h1v1h-1zM444.5 232h1v1h-1zM441 227h1v1h-1zM444.5 232.5h1v1h-1zM443 233.5h1v1h-1zM446.5 231.5h1v1h-1zM442.5 224.5h1v1h-1zM443.5 232h1v1h-1zM440.5 231.5h1v1h-1zM444.5 233h1v1h-1zM450.5 226.5h1v1h-1zM445.5 222h1v1h-1zM440.5 222.5h1v1h-1zM442 234h1v1h-1zM451 226.5h1v1h-1zM448.5 224.5h1v1h-1zM453.5 221h1v1h-1zM449.5 230.5h1v1h-1zM447 227h1v1h-1zM440.5 233.5h1v1h-1zM445 233.5h1v1h-1zM445 224.5h1v1h-1zM443 223h1v1h-1zM439.5 230h1v1h-1zM441 230.5h1v1h-1zM448.5 230.5h1v1h-1zM451.5 223.5h1v1h-1zM447.5 232h1v1h-1zM446.5 232.5h1v1h-1zM439 227h1v1h-1zM448.5 229.5h1v1h-1zM445.5 233.5h1v1h-1zM451.5 230h1v1h-1zM450 228h1v1h-1zM446.5 223h1v1h-1zM449 226.5h1v1h-1zM440.5 226.5h1v1h-1zM453 224h1v1h-1zM443.5 230h1v1h-1zM444 232h1v1h-1zM449.5 223.5h1v1h-1zM446.5 227.5h1v1h-1zM447 234.5h1v1h-1zM449 232.5h1v1h-1zM440 233h1v1h-1zM449 231h1v1h-1zM440.5 226h1v1h-1zM446.5 227h1v1h-1zM439.5 225h1v1h-1zM445 224h1v1h-1zM449.5 234.5h1v1h-1zM446.5 237h1v1h-1zM442 223.5h1v1h-1zM439 224h1v1h-1zM445.5 231h1v1h-1zM439 232h1v1h-1zM443 232h1v1h-1zM453.5 229.5h1v1h-1zM453.5 226.5h1v1h-1zM457.5 226.5h1v1h-1zM452.5 223h1v1h-1zM457.5 223h1v1h-1zM454.5 227h1v1h-1zM454.5 230h1v1h-1zM452 225h1v1h-1zM453.5 225h1v1h-1zM449 227.5h1v1h-1zM459 230h1v1h-1zM451.5 228h1v1h-1zM453.5 223h1v1h-1zM452 229.5h1v1h-1zM449.5 224.5h1v1h-1zM451.5 227h1v1h-1zM445.5 227h1v1h-1zM458.5 229h1v1h-1zM448.5 227.5h1v1h-1zM453.5 226h1v1h-1zM453 228.5h1v1h-1zM458.5 223h1v1h-1zM452 228.5h1v1h-1zM453.5 228h1v1h-1zM460 225h1v1h-1zM457 230.5h1v1h-1zM454 223.5h1v1h-1zM456.5 227h1v1h-1zM454 228h1v1h-1zM456.5 225.5h1v1h-1zM460.5 224.5h1v1h-1zM453.5 224h1v1h-1zM454 223h1v1h-1zM455.5 227.5h1v1h-1zM454.5 226.5h1v1h-1zM457.5 225.5h1v1h-1zM454 227.5h1v1h-1zM455.5 224h1v1h-1zM454.5 228h1v1h-1zM461 227.5h1v1h-1zM453.5 230h1v1h-1zM457 224.5h1v1h-1zM459.5 222h1v1h-1zM457 224h1v1h-1zM459 226.5h1v1h-1zM452 225.5h1v1h-1zM453.5 231h1v1h-1zM463 220.5h1v1h-1zM457.5 230h1v1h-1zM454.5 224h1v1h-1zM454.5 226h1v1h-1zM454.5 228.5h1v1h-1zM455.5 223h1v1h-1zM455 224h1v1h-1zM459 226h1v1h-1zM468.5 226.5h1v1h-1zM453 226h1v1h-1zM451.5 227.5h1v1h-1zM455 227h1v1h-1zM453.5 228.5h1v1h-1zM458.5 222.5h1v1h-1zM459 224.5h1v1h-1zM451.5 220.5h1v1h-1zM451.5 224.5h1v1h-1zM456 224h1v1h-1zM458 229h1v1h-1zM457 228h1v1h-1zM457 228.5h1v1h-1zM459 225.5h1v1h-1zM454 226h1v1h-1zM459 225h1v1h-1zM455 227.5h1v1h-1zM458.5 224.5h1v1h-1zM450 227.5h1v1h-1zM453.5 227h1v1h-1zM459.5 225h1v1h-1zM453 223h1v1h-1zM457.5 221.5h1v1h-1zM458 227h1v1h-1zM458 225h1v1h-1zM455 225h1v1h-1zM455.5 225h1v1h-1zM450.5 229h1v1h-1zM457 223.5h1v1h-1zM452 227.5h1v1h-1zM460.5 224h1v1h-1zM452.5 227.5h1v1h-1zM455.5 224.5h1v1h-1zM449 228h1v1h-1zM460.5 225.5h1v1h-1zM457 222.5h1v1h-1zM459.5 226.5h1v1h-1zM460 223.5h1v1h-1zM452 228h1v1h-1zM448.5 228h1v1h-1zM458 224.5h1v1h-1zM460.5 226.5h1v1h-1zM459 221.5h1v1h-1zM459.5 230h1v1h-1zM454 229.5h1v1h-1zM452.5 227h1v1h-1zM458.5 225.5h1v1h-1zM457 227h1v1h-1zM460 221h1v1h-1zM455 228h1v1h-1zM456.5 224.5h1v1h-1zM447 224h1v1h-1zM452 231h1v1h-1zM450.5 230.5h1v1h-1zM459.5 223.5h1v1h-1zM450.5 225h1v1h-1zM456.5 226.5h1v1h-1zM460.5 223.5h1v1h-1zM458 222h1v1h-1zM460 226.5h1v1h-1zM453 222.5h1v1h-1zM454.5 220.5h1v1h-1zM462 224.5h1v1h-1zM451.5 228.5h1v1h-1zM451.5 226.5h1v1h-1zM458.5 225h1v1h-1zM457.5 227h1v1h-1zM459.5 230.5h1v1h-1zM461 225.5h1v1h-1zM450 224.5h1v1h-1zM456 225.5h1v1h-1zM451 226h1v1h-1zM466 227.5h1v1h-1zM460.5 223h1v1h-1zM457 223h1v1h-1zM450.5 228h1v1h-1zM451 227h1v1h-1zM457 229h1v1h-1zM451.5 225.5h1v1h-1zM463 222.5h1v1h-1zM458.5 227.5h1v1h-1zM454 225h1v1h-1zM457 226.5h1v1h-1zM456 226.5h1v1h-1zM452 226.5h1v1h-1zM451.5 225h1v1h-1zM456 225h1v1h-1zM448 227.5h1v1h-1zM460.5 227.5h1v1h-1zM456.5 224h1v1h-1zM461 229.5h1v1h-1zM451 229.5h1v1h-1zM454 226.5h1v1h-1zM454.5 225h1v1h-1zM455.5 225.5h1v1h-1zM454 227h1v1h-1zM452.5 226h1v1h-1zM458.5 224h1v1h-1zM454 225.5h1v1h-1zM457.5 226h1v1h-1zM451 224.5h1v1h-1zM458 226.5h1v1h-1zM453 225h1v1h-1zM448.5 225.5h1v1h-1zM455.5 223.5h1v1h-1zM454 222h1v1h-1zM449 224.5h1v1h-1zM445.5 223.5h1v1h-1zM458 225.5h1v1h-1zM454 228.5h1v1h-1zM455.5 228.5h1v1h-1zM456 221h1v1h-1zM454.5 224.5h1v1h-1zM453 223.5h1v1h-1zM455 228.5h1v1h-1zM455.5 226.5h1v1h-1zM453.5 230.5h1v1h-1zM457.5 222.5h1v1h-1zM459 222h1v1h-1zM456.5 223.5h1v1h-1zM452 227h1v1h-1zM450 228.5h1v1h-1zM456 223.5h1v1h-1zM454.5 225.5h1v1h-1zM456.5 226h1v1h-1zM458 224h1v1h-1zM456 224.5h1v1h-1zM453 229h1v1h-1zM459.5 224h1v1h-1zM456.5 222h1v1h-1zM462.5 225h1v1h-1zM447 225h1v1h-1zM457.5 224.5h1v1h-1zM459 223.5h1v1h-1zM452 224h1v1h-1zM449.5 228h1v1h-1zM457 225h1v1h-1zM462.5 227h1v1h-1zM457.5 221h1v1h-1zM461 228h1v1h-1zM458 227.5h1v1h-1zM454.5 223.5h1v1h-1zM461.5 223h1v1h-1zM454 224h1v1h-1zM452 223h1v1h-1zM457 227.5h1v1h-1zM463 225h1v1h-1zM458.5 226h1v1h-1zM457.5 225h1v1h-1zM455 230.5h1v1h-1zM454.5 222.5h1v1h-1zM458 223.5h1v1h-1zM450.5 230h1v1h-1zM452 230h1v1h-1zM457 226h1v1h-1zM453.5 225.5h1v1h-1zM459.5 223h1v1h-1zM456.5 222.5h1v1h-1zM460 227.5h1v1h-1zM453.5 231.5h1v1h-1zM450 223.5h1v1h-1zM447.5 224.5h1v1h-1zM460.5 230h1v1h-1zM452.5 228.5h1v1h-1zM457.5 227.5h1v1h-1zM448 224h1v1h-1zM459.5 224.5h1v1h-1zM456.5 227.5h1v1h-1zM458 226h1v1h-1zM453 226.5h1v1h-1zM460.5 226h1v1h-1zM458.5 228.5h1v1h-1zM450.5 224h1v1h-1zM456 222.5h1v1h-1zM452.5 231h1v1h-1zM453 225.5h1v1h-1zM467 219.5h1v1h-1zM465 223.5h1v1h-1zM461 223h1v1h-1zM461.5 224h1v1h-1zM464.5 225.5h1v1h-1zM463 223h1v1h-1zM462 225.5h1v1h-1zM463.5 223.5h1v1h-1zM464 223.5h1v1h-1zM465.5 225h1v1h-1zM464 222.5h1v1h-1zM459.5 227.5h1v1h-1zM461 225h1v1h-1zM461.5 222h1v1h-1zM461 222.5h1v1h-1zM462 223.5h1v1h-1zM462.5 223.5h1v1h-1zM462 223h1v1h-1zM461 221h1v1h-1zM463.5 226.5h1v1h-1zM462.5 224h1v1h-1zM464.5 224h1v1h-1zM461.5 226h1v1h-1zM465.5 225.5h1v1h-1zM464.5 222.5h1v1h-1zM461.5 223.5h1v1h-1zM464 225.5h1v1h-1zM460.5 222h1v1h-1zM463.5 222.5h1v1h-1zM463.5 224.5h1v1h-1zM464.5 223.5h1v1h-1zM466 220.5h1v1h-1zM462 225h1v1h-1zM466 222.5h1v1h-1zM461 223.5h1v1h-1zM458.5 220.5h1v1h-1zM462 219h1v1h-1zM460 224h1v1h-1zM459.5 226h1v1h-1zM458 223h1v1h-1zM462 224h1v1h-1zM463.5 226h1v1h-1zM462.5 225.5h1v1h-1zM463.5 223h1v1h-1zM464 224.5h1v1h-1zM465.5 222h1v1h-1zM465 223h1v1h-1zM456.5 225h1v1h-1zM459 224h1v1h-1zM464 220.5h1v1h-1zM460 226h1v1h-1zM462.5 220.5h1v1h-1zM461.5 222.5h1v1h-1zM460 224.5h1v1h-1zM462.5 223h1v1h-1zM460 229h1v1h-1zM458.5 221.5h1v1h-1zM461 226.5h1v1h-1zM464.5 226h1v1h-1zM464 225h1v1h-1zM465.5 221.5h1v1h-1zM464.5 222h1v1h-1zM464.5 226.5h1v1h-1zM460.5 225h1v1h-1zM465.5 224.5h1v1h-1zM457.5 223.5h1v1h-1zM459.5 221.5h1v1h-1zM462 222h1v1h-1zM461 226h1v1h-1zM465.5 222.5h1v1h-1zM474 197h1v1h-1zM476.5 203h1v1h-1zM481.5 194.5h1v1h-1zM477 226.5h1v1h-1zM477 197.5h1v1h-1zM475.5 213h1v1h-1zM479 186h1v1h-1zM480.5 208h1v1h-1zM480 193.5h1v1h-1zM470.5 208.5h1v1h-1zM479.5 196h1v1h-1zM476.5 210.5h1v1h-1zM479 198h1v1h-1zM476 208h1v1h-1zM483 204h1v1h-1zM485.5 203h1v1h-1zM482.5 199.5h1v1h-1zM485 209h1v1h-1zM480.5 213.5h1v1h-1zM478.5 200h1v1h-1zM473 212.5h1v1h-1zM477.5 213h1v1h-1zM478 221.5h1v1h-1zM484.5 194.5h1v1h-1zM476.5 213h1v1h-1zM480 205.5h1v1h-1zM481.5 196h1v1h-1zM480 204.5h1v1h-1zM479.5 193h1v1h-1zM483 199h1v1h-1zM477 222.5h1v1h-1zM479.5 210h1v1h-1zM480.5 213h1v1h-1zM484.5 203.5h1v1h-1zM484 198h1v1h-1zM482.5 187h1v1h-1zM473 200h1v1h-1zM480.5 219h1v1h-1zM478 201h1v1h-1zM474.5 209.5h1v1h-1zM481.5 210.5h1v1h-1zM478.5 196h1v1h-1zM477.5 209h1v1h-1zM474 200h1v1h-1zM480 202.5h1v1h-1zM483.5 190.5h1v1h-1zM480 217h1v1h-1zM482 204.5h1v1h-1zM482.5 212h1v1h-1zM479.5 196.5h1v1h-1zM478.5 207.5h1v1h-1zM477.5 199h1v1h-1zM478.5 225.5h1v1h-1zM477.5 202.5h1v1h-1zM479.5 206h1v1h-1zM478 212h1v1h-1zM483 197.5h1v1h-1zM476.5 212h1v1h-1zM484.5 198h1v1h-1zM478 206.5h1v1h-1zM478 199.5h1v1h-1zM481.5 208.5h1v1h-1zM477 216.5h1v1h-1zM473.5 198h1v1h-1zM482 202.5h1v1h-1zM484 197.5h1v1h-1zM473.5 211h1v1h-1zM481 209h1v1h-1zM477.5 204h1v1h-1zM479 204h1v1h-1zM484.5 200h1v1h-1zM475 207h1v1h-1zM478 210h1v1h-1zM483.5 192h1v1h-1zM481 205.5h1v1h-1zM477.5 214.5h1v1h-1zM477 220h1v1h-1zM477 208h1v1h-1zM480 204h1v1h-1zM478 196.5h1v1h-1zM481 195.5h1v1h-1zM488 199h1v1h-1zM474 207.5h1v1h-1zM480.5 207.5h1v1h-1zM476 202.5h1v1h-1zM476.5 204.5h1v1h-1zM475 205h1v1h-1zM479.5 197h1v1h-1zM484.5 196.5h1v1h-1zM480.5 198h1v1h-1zM477.5 206h1v1h-1zM477 211h1v1h-1zM474.5 207.5h1v1h-1zM481 213h1v1h-1zM474 203h1v1h-1zM473 209.5h1v1h-1zM481 205h1v1h-1zM477 205.5h1v1h-1zM474 198h1v1h-1zM481.5 197.5h1v1h-1zM478.5 193h1v1h-1zM478 216h1v1h-1zM479 197h1v1h-1zM477 218.5h1v1h-1zM488.5 201.5h1v1h-1zM472.5 215.5h1v1h-1zM477.5 205.5h1v1h-1zM481 194.5h1v1h-1zM480.5 200h1v1h-1zM475.5 206h1v1h-1zM479 207h1v1h-1zM484.5 211.5h1v1h-1zM480 206.5h1v1h-1zM484 203.5h1v1h-1zM481 200h1v1h-1zM478.5 195.5h1v1h-1zM478.5 217.5h1v1h-1zM481.5 212h1v1h-1zM480.5 192h1v1h-1zM478 205.5h1v1h-1zM476.5 217h1v1h-1zM484 199.5h1v1h-1zM480 217.5h1v1h-1zM484 201h1v1h-1zM484.5 203h1v1h-1zM482.5 204.5h1v1h-1zM481 206h1v1h-1zM478 195.5h1v1h-1zM479.5 188h1v1h-1zM480.5 205.5h1v1h-1zM482 208h1v1h-1zM477.5 207.5h1v1h-1zM482 214.5h1v1h-1zM480.5 191.5h1v1h-1zM475 218h1v1h-1zM473.5 216h1v1h-1zM481.5 203h1v1h-1zM474 191.5h1v1h-1zM480 216h1v1h-1zM488.5 191.5h1v1h-1zM479 211h1v1h-1zM475 203h1v1h-1zM482.5 215.5h1v1h-1zM478 208.5h1v1h-1zM479 197.5h1v1h-1zM474 194h1v1h-1zM477.5 213.5h1v1h-1zM484 189h1v1h-1zM478.5 205.5h1v1h-1zM477 213.5h1v1h-1zM479.5 195h1v1h-1zM480 210.5h1v1h-1zM482.5 204h1v1h-1zM481.5 198.5h1v1h-1zM482.5 201h1v1h-1zM475.5 212h1v1h-1zM478.5 202h1v1h-1zM477.5 206.5h1v1h-1zM485 207h1v1h-1zM482 203.5h1v1h-1zM478.5 209.5h1v1h-1zM478.5 223.5h1v1h-1zM478 209.5h1v1h-1zM482 188.5h1v1h-1zM489 207h1v1h-1zM475 208.5h1v1h-1zM484 207.5h1v1h-1zM483.5 201h1v1h-1zM478 208h1v1h-1zM480.5 212.5h1v1h-1zM480.5 207h1v1h-1zM477 200.5h1v1h-1zM477.5 215.5h1v1h-1zM484 194h1v1h-1zM481 209.5h1v1h-1zM478.5 210.5h1v1h-1zM477 206h1v1h-1zM479.5 204.5h1v1h-1zM479.5 193.5h1v1h-1zM482 197h1v1h-1zM484.5 223.5h1v1h-1zM477 214.5h1v1h-1zM480 200.5h1v1h-1zM478 190h1v1h-1zM482 193h1v1h-1zM479.5 202.5h1v1h-1zM479.5 213h1v1h-1zM481 213.5h1v1h-1zM481.5 202h1v1h-1zM476.5 200h1v1h-1zM482.5 210h1v1h-1zM479.5 205.5h1v1h-1zM474.5 199h1v1h-1zM478.5 219.5h1v1h-1zM483.5 208h1v1h-1zM484 210h1v1h-1zM472.5 222.5h1v1h-1zM474 206h1v1h-1zM481 212.5h1v1h-1zM477.5 216h1v1h-1zM484.5 208.5h1v1h-1zM479 207.5h1v1h-1zM477 215.5h1v1h-1zM475.5 199h1v1h-1zM485.5 199h1v1h-1zM480 201h1v1h-1zM477.5 201.5h1v1h-1zM474 202.5h1v1h-1zM482.5 197.5h1v1h-1zM484 198.5h1v1h-1zM479 201h1v1h-1zM482.5 195.5h1v1h-1zM477 210h1v1h-1zM479.5 203h1v1h-1zM478 197.5h1v1h-1zM477 203h1v1h-1zM477.5 196.5h1v1h-1zM482.5 198.5h1v1h-1zM480 205h1v1h-1zM479 203.5h1v1h-1zM479 212.5h1v1h-1zM480 206h1v1h-1zM477 200h1v1h-1zM484 211h1v1h-1zM476 206h1v1h-1zM475 201.5h1v1h-1zM475 204.5h1v1h-1zM474.5 194.5h1v1h-1zM483.5 190h1v1h-1zM478 214.5h1v1h-1zM483.5 210h1v1h-1zM486 216h1v1h-1zM480 209.5h1v1h-1zM472.5 218.5h1v1h-1zM480.5 203.5h1v1h-1zM485 190.5h1v1h-1zM473.5 213h1v1h-1zM470 213h1v1h-1zM479.5 205h1v1h-1zM476.5 207h1v1h-1zM479.5 215.5h1v1h-1zM485.5 190.5h1v1h-1zM479.5 208.5h1v1h-1zM482.5 194.5h1v1h-1zM477 204.5h1v1h-1zM475 198.5h1v1h-1zM478 205h1v1h-1zM485.5 206.5h1v1h-1zM484 204.5h1v1h-1zM482 201h1v1h-1zM480.5 196h1v1h-1zM481.5 215h1v1h-1zM474.5 206.5h1v1h-1zM478.5 214.5h1v1h-1zM486 199.5h1v1h-1zM475 205.5h1v1h-1zM480.5 216h1v1h-1zM478 200.5h1v1h-1zM478.5 208.5h1v1h-1zM482.5 207.5h1v1h-1zM477 215h1v1h-1zM482 194.5h1v1h-1zM479.5 212h1v1h-1zM483 191.5h1v1h-1zM477 208.5h1v1h-1zM483.5 206h1v1h-1zM479.5 209h1v1h-1zM478 207h1v1h-1zM477 207h1v1h-1zM473 213h1v1h-1zM482.5 197h1v1h-1zM477 216h1v1h-1zM483.5 209h1v1h-1zM487 197.5h1v1h-1zM474 215.5h1v1h-1zM480.5 201.5h1v1h-1zM481 207h1v1h-1zM483 200h1v1h-1zM479 193h1v1h-1zM485 211.5h1v1h-1zM479.5 211h1v1h-1zM480 209h1v1h-1zM479.5 211.5h1v1h-1zM488.5 197.5h1v1h-1zM478 211.5h1v1h-1zM472 215h1v1h-1zM482.5 192.5h1v1h-1zM480 197h1v1h-1zM482.5 190h1v1h-1zM483.5 194h1v1h-1zM484.5 195h1v1h-1zM480.5 197.5h1v1h-1zM483 199.5h1v1h-1zM484 192h1v1h-1zM475 197h1v1h-1zM485.5 200.5h1v1h-1zM476 215h1v1h-1zM480 212.5h1v1h-1zM483.5 205.5h1v1h-1zM478 224h1v1h-1zM484.5 192.5h1v1h-1zM484.5 207.5h1v1h-1zM475 204h1v1h-1zM481 202.5h1v1h-1zM484.5 201.5h1v1h-1zM481 202h1v1h-1zM481 196.5h1v1h-1zM482 210.5h1v1h-1zM488 203.5h1v1h-1zM481.5 208h1v1h-1zM474.5 197.5h1v1h-1zM476 206.5h1v1h-1zM475 216h1v1h-1zM478.5 213.5h1v1h-1zM474.5 201.5h1v1h-1zM480 213h1v1h-1zM479 193.5h1v1h-1zM477 204h1v1h-1zM476.5 201.5h1v1h-1zM478 206h1v1h-1zM482.5 202.5h1v1h-1zM474.5 202h1v1h-1zM479.5 199h1v1h-1zM483.5 217h1v1h-1zM482.5 214h1v1h-1zM481.5 202.5h1v1h-1zM481.5 204.5h1v1h-1zM474 216.5h1v1h-1zM479 212h1v1h-1zM475.5 200h1v1h-1zM477 189h1v1h-1zM477.5 192h1v1h-1zM471 204h1v1h-1zM479 200h1v1h-1zM484.5 207h1v1h-1zM485 189.5h1v1h-1zM481 190.5h1v1h-1zM483 197h1v1h-1zM474.5 187.5h1v1h-1zM482 193.5h1v1h-1zM478 209h1v1h-1zM479.5 207.5h1v1h-1zM478.5 217h1v1h-1zM481 211h1v1h-1zM476.5 205h1v1h-1zM479.5 194h1v1h-1zM483 207h1v1h-1zM482.5 211.5h1v1h-1zM478.5 227.5h1v1h-1zM479.5 222.5h1v1h-1zM482 202h1v1h-1zM481.5 199h1v1h-1zM478 202.5h1v1h-1zM479 189.5h1v1h-1zM480.5 206h1v1h-1zM477 203.5h1v1h-1zM480.5 197h1v1h-1zM487.5 195.5h1v1h-1zM477.5 210.5h1v1h-1zM483.5 203.5h1v1h-1zM481 204h1v1h-1zM478.5 216.5h1v1h-1zM482.5 211h1v1h-1zM484.5 193h1v1h-1zM482 192h1v1h-1zM479 208.5h1v1h-1zM479.5 203.5h1v1h-1zM486.5 208.5h1v1h-1zM479 202h1v1h-1zM478.5 210h1v1h-1zM482 199h1v1h-1zM480.5 202h1v1h-1zM479 216h1v1h-1zM482 200.5h1v1h-1zM473.5 207h1v1h-1zM484.5 219h1v1h-1zM477.5 211h1v1h-1zM480 191.5h1v1h-1zM481.5 206.5h1v1h-1zM481.5 213h1v1h-1zM474 199.5h1v1h-1zM482 194h1v1h-1zM480 203h1v1h-1zM472.5 207.5h1v1h-1zM484 197h1v1h-1zM480.5 199.5h1v1h-1zM479 213.5h1v1h-1zM486.5 202.5h1v1h-1zM480 210h1v1h-1zM471.5 227h1v1h-1zM475.5 207.5h1v1h-1zM477 209h1v1h-1zM480.5 203h1v1h-1zM487 189.5h1v1h-1zM483 198.5h1v1h-1zM474.5 210.5h1v1h-1zM475.5 208h1v1h-1zM481.5 192h1v1h-1zM474 204h1v1h-1zM480.5 204h1v1h-1zM477 196h1v1h-1zM481 187h1v1h-1zM481.5 200.5h1v1h-1zM476 216h1v1h-1zM483 209h1v1h-1zM482.5 193h1v1h-1zM485.5 199.5h1v1h-1zM478 199h1v1h-1zM479.5 208h1v1h-1zM481 200.5h1v1h-1zM475 220.5h1v1h-1zM479.5 200h1v1h-1zM482.5 201.5h1v1h-1zM478 210.5h1v1h-1zM477 207.5h1v1h-1zM475.5 226h1v1h-1zM479 201.5h1v1h-1zM481.5 201h1v1h-1zM478.5 220h1v1h-1zM471 211h1v1h-1zM485 192.5h1v1h-1zM479 213h1v1h-1zM487.5 191h1v1h-1zM476 196h1v1h-1zM482 209.5h1v1h-1zM478.5 203.5h1v1h-1zM481 198.5h1v1h-1zM481.5 210h1v1h-1zM480 192h1v1h-1zM478.5 203h1v1h-1zM476.5 199h1v1h-1zM483 201.5h1v1h-1zM479.5 187h1v1h-1zM476 202h1v1h-1zM486 214h1v1h-1zM483.5 200h1v1h-1zM475.5 208.5h1v1h-1zM480 215h1v1h-1zM478.5 209h1v1h-1zM483.5 188.5h1v1h-1zM474 214h1v1h-1zM481 193h1v1h-1zM485.5 192.5h1v1h-1zM485 204.5h1v1h-1zM479 199h1v1h-1zM479 208h1v1h-1zM479.5 214.5h1v1h-1zM482.5 206.5h1v1h-1zM482 204h1v1h-1zM485.5 196.5h1v1h-1zM481 208.5h1v1h-1zM484 191h1v1h-1zM480.5 210h1v1h-1zM480.5 198.5h1v1h-1zM480 199.5h1v1h-1zM482.5 208.5h1v1h-1zM477.5 202h1v1h-1zM481.5 200h1v1h-1zM478 198.5h1v1h-1zM477.5 195h1v1h-1zM476.5 206.5h1v1h-1zM478 204h1v1h-1zM483 188h1v1h-1zM477 201h1v1h-1zM482.5 205.5h1v1h-1zM482 219h1v1h-1zM483 206.5h1v1h-1zM474.5 218.5h1v1h-1zM479.5 204h1v1h-1zM480 199h1v1h-1zM483.5 204h1v1h-1zM474.5 202.5h1v1h-1zM478.5 197.5h1v1h-1zM474 206.5h1v1h-1zM473 214.5h1v1h-1zM483 194.5h1v1h-1zM478 197h1v1h-1zM477.5 205h1v1h-1zM480 195h1v1h-1zM475.5 205h1v1h-1zM485.5 191.5h1v1h-1zM475.5 204.5h1v1h-1zM481.5 186.5h1v1h-1zM487.5 188h1v1h-1zM477 205h1v1h-1zM482 195h1v1h-1zM480 208.5h1v1h-1zM476.5 209.5h1v1h-1zM479.5 209.5h1v1h-1zM482.5 207h1v1h-1zM477 197h1v1h-1zM477.5 197h1v1h-1zM483.5 202.5h1v1h-1zM479 203h1v1h-1zM484 199h1v1h-1zM483.5 213h1v1h-1zM479.5 215h1v1h-1zM486 191h1v1h-1zM483 191h1v1h-1zM478.5 199.5h1v1h-1zM482 196h1v1h-1zM479.5 199.5h1v1h-1zM476.5 206h1v1h-1zM476 207h1v1h-1zM480.5 202.5h1v1h-1zM483.5 196h1v1h-1zM481 210h1v1h-1zM478 202h1v1h-1zM476 213.5h1v1h-1zM479.5 201.5h1v1h-1zM478 213h1v1h-1zM484.5 198.5h1v1h-1zM479 202.5h1v1h-1zM477.5 192.5h1v1h-1zM476.5 220.5h1v1h-1zM479 192h1v1h-1zM481.5 193.5h1v1h-1zM477 198.5h1v1h-1zM479 199.5h1v1h-1zM484 196h1v1h-1zM478 198h1v1h-1zM480 211.5h1v1h-1zM477 202h1v1h-1zM477.5 198.5h1v1h-1zM477 223h1v1h-1zM478 203.5h1v1h-1zM479 217.5h1v1h-1zM484 220.5h1v1h-1zM478.5 194.5h1v1h-1zM475 192.5h1v1h-1zM484 200h1v1h-1zM484 188h1v1h-1zM470.5 199h1v1h-1zM487 195.5h1v1h-1zM476.5 200.5h1v1h-1zM476 211h1v1h-1zM483.5 201.5h1v1h-1zM483 202.5h1v1h-1zM482.5 200h1v1h-1zM478.5 192.5h1v1h-1zM477 218h1v1h-1zM474 205.5h1v1h-1zM479.5 197.5h1v1h-1zM484.5 212.5h1v1h-1zM481.5 204h1v1h-1zM474 223h1v1h-1zM482.5 187.5h1v1h-1zM474 209h1v1h-1zM479 220.5h1v1h-1zM477 217h1v1h-1zM480 195.5h1v1h-1zM482.5 208h1v1h-1zM479 209h1v1h-1zM476 204.5h1v1h-1zM480.5 193.5h1v1h-1zM483 193h1v1h-1zM480.5 189h1v1h-1zM483 201h1v1h-1zM481.5 201.5h1v1h-1zM478 219h1v1h-1zM475 206.5h1v1h-1zM470.5 213h1v1h-1zM477.5 209.5h1v1h-1zM476.5 213.5h1v1h-1zM476 210h1v1h-1zM481.5 205.5h1v1h-1zM483.5 216h1v1h-1zM478.5 198.5h1v1h-1zM476 205h1v1h-1zM485 194h1v1h-1zM485 202.5h1v1h-1zM487.5 190h1v1h-1zM479.5 220h1v1h-1zM479.5 191h1v1h-1zM474.5 220h1v1h-1zM483 195h1v1h-1zM478 194h1v1h-1zM476 207.5h1v1h-1zM484 201.5h1v1h-1zM476 221h1v1h-1zM483 216.5h1v1h-1zM484.5 193.5h1v1h-1zM480.5 205h1v1h-1zM486 202.5h1v1h-1zM482 209h1v1h-1zM481.5 188h1v1h-1zM482 198h1v1h-1zM479.5 227h1v1h-1zM479.5 210.5h1v1h-1zM476 216.5h1v1h-1zM483.5 196.5h1v1h-1zM479.5 198h1v1h-1zM478 221h1v1h-1zM481 218h1v1h-1zM481 199.5h1v1h-1zM475 196h1v1h-1zM476 212.5h1v1h-1zM483 204.5h1v1h-1zM476 220.5h1v1h-1zM476 200h1v1h-1zM479.5 188.5h1v1h-1zM478.5 190.5h1v1h-1zM475.5 220.5h1v1h-1zM479 195.5h1v1h-1zM476 218h1v1h-1zM478 217h1v1h-1zM476.5 216h1v1h-1zM475 211h1v1h-1zM482.5 194h1v1h-1zM478.5 215.5h1v1h-1zM470.5 220h1v1h-1zM476.5 187h1v1h-1zM480 197.5h1v1h-1zM482 213.5h1v1h-1zM475.5 203h1v1h-1zM485 211h1v1h-1zM486.5 189.5h1v1h-1zM476 214h1v1h-1zM478.5 199h1v1h-1zM480 198.5h1v1h-1zM481.5 216h1v1h-1zM477.5 195.5h1v1h-1zM471 203h1v1h-1zM486 195h1v1h-1zM476 199h1v1h-1zM482.5 216.5h1v1h-1zM473.5 197.5h1v1h-1zM479 218.5h1v1h-1zM475.5 204h1v1h-1zM485.5 197.5h1v1h-1zM481.5 199.5h1v1h-1zM481 201h1v1h-1zM482.5 188.5h1v1h-1zM482 197.5h1v1h-1zM480 196h1v1h-1zM484.5 191.5h1v1h-1zM476 211.5h1v1h-1zM478.5 198h1v1h-1zM484 209h1v1h-1zM479.5 202h1v1h-1zM474.5 211h1v1h-1zM481 207.5h1v1h-1zM476.5 205.5h1v1h-1zM480.5 199h1v1h-1zM484 203h1v1h-1zM482.5 202h1v1h-1zM475.5 217h1v1h-1zM477.5 190.5h1v1h-1zM473 207.5h1v1h-1zM481 198h1v1h-1zM475 210h1v1h-1zM478 196h1v1h-1zM488 192.5h1v1h-1zM481 195h1v1h-1zM479 211.5h1v1h-1zM476.5 197.5h1v1h-1zM472.5 220.5h1v1h-1zM485.5 195h1v1h-1zM478 204.5h1v1h-1zM474 208.5h1v1h-1zM480 198h1v1h-1zM479.5 198.5h1v1h-1zM481.5 205h1v1h-1zM476.5 208h1v1h-1zM474.5 204h1v1h-1zM483.5 193h1v1h-1zM478.5 201h1v1h-1zM477 210.5h1v1h-1zM470.5 206h1v1h-1zM476 205.5h1v1h-1zM479.5 195.5h1v1h-1zM483 186.5h1v1h-1zM486 198.5h1v1h-1zM483.5 200.5h1v1h-1zM488 216h1v1h-1zM482.5 191h1v1h-1zM480 221h1v1h-1zM485.5 191h1v1h-1zM485 200.5h1v1h-1zM485 196h1v1h-1zM480 215.5h1v1h-1zM472.5 209.5h1v1h-1zM479.5 223.5h1v1h-1zM484.5 217h1v1h-1zM484 207h1v1h-1zM480 201.5h1v1h-1zM481 221.5h1v1h-1zM483.5 199h1v1h-1zM474.5 207h1v1h-1zM479 210h1v1h-1zM479 205.5h1v1h-1zM481.5 219h1v1h-1zM479.5 201h1v1h-1zM478.5 219h1v1h-1zM481.5 209.5h1v1h-1zM482 196.5h1v1h-1zM484 208h1v1h-1zM474 210h1v1h-1zM478.5 197h1v1h-1zM474 218.5h1v1h-1zM477.5 201h1v1h-1zM486 203h1v1h-1zM479 204.5h1v1h-1zM482 201.5h1v1h-1zM484 206.5h1v1h-1zM473 214h1v1h-1zM473.5 210h1v1h-1zM480.5 214h1v1h-1zM472 214h1v1h-1zM474.5 205.5h1v1h-1zM481 203h1v1h-1zM478 201.5h1v1h-1zM481 203.5h1v1h-1zM477 211.5h1v1h-1zM474 208h1v1h-1zM481 206.5h1v1h-1zM481 216.5h1v1h-1zM483 192.5h1v1h-1zM485.5 212.5h1v1h-1zM481.5 207h1v1h-1zM479 206.5h1v1h-1zM480.5 200.5h1v1h-1zM482 205h1v1h-1zM486 196.5h1v1h-1zM478.5 207h1v1h-1zM477 194.5h1v1h-1zM477.5 215h1v1h-1zM482 207h1v1h-1zM479 188h1v1h-1zM475 202.5h1v1h-1zM480 194h1v1h-1zM479 196h1v1h-1zM474 217h1v1h-1zM481 201.5h1v1h-1zM486 201h1v1h-1zM484.5 204h1v1h-1zM478.5 202.5h1v1h-1zM485.5 188h1v1h-1zM487.5 197.5h1v1h-1zM481 211.5h1v1h-1zM484.5 204.5h1v1h-1zM479 191h1v1h-1zM478.5 205h1v1h-1zM472 201.5h1v1h-1zM480.5 204.5h1v1h-1zM476 209h1v1h-1zM478.5 196.5h1v1h-1zM477 219h1v1h-1zM484 193.5h1v1h-1zM474 209.5h1v1h-1zM475.5 224h1v1h-1zM476.5 208.5h1v1h-1zM478.5 204h1v1h-1zM479.5 192.5h1v1h-1zM484 200.5h1v1h-1zM480 202h1v1h-1zM485.5 196h1v1h-1zM483.5 197.5h1v1h-1zM474.5 215h1v1h-1zM482 200h1v1h-1zM481 186h1v1h-1zM484.5 202h1v1h-1zM485 207.5h1v1h-1zM481.5 198h1v1h-1zM481 197h1v1h-1zM481.5 217.5h1v1h-1zM481.5 191h1v1h-1zM476.5 203.5h1v1h-1zM473 199.5h1v1h-1zM473 218h1v1h-1zM478 214h1v1h-1zM477 212.5h1v1h-1zM486 188h1v1h-1zM477 199.5h1v1h-1zM478.5 200.5h1v1h-1zM476 195h1v1h-1zM479 206h1v1h-1zM482 189.5h1v1h-1zM476 197h1v1h-1zM483 205.5h1v1h-1zM478 220h1v1h-1zM483 198h1v1h-1zM481 192.5h1v1h-1zM476.5 215h1v1h-1zM473.5 220.5h1v1h-1zM477.5 204.5h1v1h-1zM474 217.5h1v1h-1zM476.5 211.5h1v1h-1zM477.5 193h1v1h-1zM480.5 196.5h1v1h-1zM478 191.5h1v1h-1zM479 196.5h1v1h-1zM481 204.5h1v1h-1zM476.5 186h1v1h-1zM483 220h1v1h-1zM478.5 189h1v1h-1zM485 210.5h1v1h-1zM481.5 212.5h1v1h-1zM480 200h1v1h-1zM485 192h1v1h-1zM483 206h1v1h-1zM476.5 211h1v1h-1zM475.5 209h1v1h-1zM479 210.5h1v1h-1zM480 192.5h1v1h-1zM472 205h1v1h-1zM480.5 211.5h1v1h-1zM482.5 198h1v1h-1zM481 214h1v1h-1zM474.5 227h1v1h-1zM484.5 205.5h1v1h-1zM474.5 208.5h1v1h-1zM483 205h1v1h-1zM475.5 211.5h1v1h-1zM476.5 207.5h1v1h-1zM481 193.5h1v1h-1zM481.5 188.5h1v1h-1zM482.5 186.5h1v1h-1zM481 199h1v1h-1zM479.5 207h1v1h-1zM472.5 210.5h1v1h-1zM482.5 195h1v1h-1zM482.5 196.5h1v1h-1zM475.5 195h1v1h-1zM482.5 203.5h1v1h-1zM486.5 198h1v1h-1zM478.5 188h1v1h-1zM480.5 193h1v1h-1zM478.5 206.5h1v1h-1zM474.5 211.5h1v1h-1zM480 186.5h1v1h-1zM482.5 200.5h1v1h-1zM478.5 193.5h1v1h-1zM482 210h1v1h-1zM469 219.5h1v1h-1zM481.5 194h1v1h-1zM483.5 198.5h1v1h-1zM485.5 211h1v1h-1zM479.5 214h1v1h-1zM478.5 215h1v1h-1zM474 201.5h1v1h-1zM476 199.5h1v1h-1zM481.5 197h1v1h-1zM482 198.5h1v1h-1zM478 200h1v1h-1zM484 209.5h1v1h-1zM483 200.5h1v1h-1zM473 198.5h1v1h-1zM476.5 190.5h1v1h-1zM480 218h1v1h-1zM476.5 194h1v1h-1zM480.5 209h1v1h-1zM484.5 194h1v1h-1zM474.5 216h1v1h-1zM479 205h1v1h-1zM471.5 203h1v1h-1zM472 215.5h1v1h-1zM474.5 195.5h1v1h-1zM473 201h1v1h-1zM472.5 213h1v1h-1zM471.5 208.5h1v1h-1zM478.5 212h1v1h-1zM484 195.5h1v1h-1zM479 191.5h1v1h-1zM476.5 204h1v1h-1zM481 188h1v1h-1zM474.5 209h1v1h-1zM484.5 201h1v1h-1zM476.5 192h1v1h-1zM475.5 197h1v1h-1zM479.5 192h1v1h-1zM476.5 215.5h1v1h-1zM479.5 194.5h1v1h-1zM472.5 221h1v1h-1zM478.5 211.5h1v1h-1zM480 207h1v1h-1zM479 200.5h1v1h-1zM474.5 201h1v1h-1zM478 207.5h1v1h-1zM479.5 216h1v1h-1zM482.5 213h1v1h-1zM479 214h1v1h-1zM483.5 208.5h1v1h-1zM473.5 202.5h1v1h-1zM475 201h1v1h-1zM474 210.5h1v1h-1zM477 192.5h1v1h-1zM486.5 189h1v1h-1zM480.5 214.5h1v1h-1zM478 212.5h1v1h-1zM487 193h1v1h-1zM484.5 214h1v1h-1zM479.5 191.5h1v1h-1zM480.5 208.5h1v1h-1zM477.5 207h1v1h-1zM481.5 189.5h1v1h-1zM483.5 211.5h1v1h-1zM476.5 210h1v1h-1zM487 190h1v1h-1zM489 193.5h1v1h-1zM475.5 195.5h1v1h-1zM485.5 186.5h1v1h-1zM478.5 220.5h1v1h-1zM477.5 212.5h1v1h-1zM475.5 206.5h1v1h-1zM472.5 204.5h1v1h-1zM480.5 215.5h1v1h-1zM475.5 212.5h1v1h-1zM483.5 210.5h1v1h-1zM476.5 236.5h1v1h-1zM477.5 230h1v1h-1zM480.5 231.5h1v1h-1zM473.5 234.5h1v1h-1zM477.5 232h1v1h-1zM476.5 230.5h1v1h-1zM474 225h1v1h-1zM473 226.5h1v1h-1zM472.5 228.5h1v1h-1zM476 239.5h1v1h-1zM476 227h1v1h-1zM474.5 235h1v1h-1zM480 227h1v1h-1zM477 234h1v1h-1zM475 231.5h1v1h-1zM473 225.5h1v1h-1zM478 236.5h1v1h-1zM469.5 229h1v1h-1zM476.5 225.5h1v1h-1zM481.5 231h1v1h-1zM473.5 232.5h1v1h-1zM477.5 234.5h1v1h-1zM474 227h1v1h-1zM477 226h1v1h-1zM477 239h1v1h-1zM477 238h1v1h-1zM474.5 232h1v1h-1zM474 234.5h1v1h-1zM476 237h1v1h-1zM476 231h1v1h-1zM475.5 229.5h1v1h-1zM477 232.5h1v1h-1zM475 230.5h1v1h-1zM469.5 230.5h1v1h-1zM475.5 236.5h1v1h-1zM474 238h1v1h-1zM478 234h1v1h-1zM466.5 236h1v1h-1zM477.5 227h1v1h-1zM477 234.5h1v1h-1zM473 235.5h1v1h-1zM471 234h1v1h-1zM476.5 224.5h1v1h-1zM469.5 234.5h1v1h-1zM471 224.5h1v1h-1zM474.5 233.5h1v1h-1zM473 231.5h1v1h-1zM484.5 241.5h1v1h-1zM479.5 229h1v1h-1zM479 238h1v1h-1zM475 238h1v1h-1zM482.5 226.5h1v1h-1zM479 231.5h1v1h-1zM475.5 233h1v1h-1zM471 230.5h1v1h-1zM468.5 235h1v1h-1zM478.5 221.5h1v1h-1zM484.5 231.5h1v1h-1zM475 233h1v1h-1zM473.5 236h1v1h-1zM481.5 233h1v1h-1zM476.5 231h1v1h-1zM475.5 239.5h1v1h-1zM470 228.5h1v1h-1zM473.5 226h1v1h-1zM481 237h1v1h-1zM479 227.5h1v1h-1zM476.5 237.5h1v1h-1zM479 236.5h1v1h-1zM477 227.5h1v1h-1zM475 234.5h1v1h-1zM471 239.5h1v1h-1zM476.5 229.5h1v1h-1zM473.5 228h1v1h-1zM475 227.5h1v1h-1zM472.5 230h1v1h-1zM480 232h1v1h-1zM477 231.5h1v1h-1zM470 228h1v1h-1zM476.5 228h1v1h-1zM477.5 231.5h1v1h-1zM470 237.5h1v1h-1zM471 233.5h1v1h-1zM475 220h1v1h-1zM479.5 232h1v1h-1zM485 229.5h1v1h-1zM480 229.5h1v1h-1zM473.5 231h1v1h-1zM476 230h1v1h-1zM483.5 230.5h1v1h-1zM478 235h1v1h-1zM478 238h1v1h-1zM477.5 229.5h1v1h-1zM468.5 239h1v1h-1zM472 226.5h1v1h-1zM474 231h1v1h-1zM477.5 233.5h1v1h-1zM477.5 228.5h1v1h-1zM476.5 230h1v1h-1zM474.5 239h1v1h-1zM480 235h1v1h-1zM478 225.5h1v1h-1zM474 234h1v1h-1zM476.5 234h1v1h-1zM478.5 230h1v1h-1zM478.5 235.5h1v1h-1zM475.5 234.5h1v1h-1zM475.5 232h1v1h-1zM478.5 232h1v1h-1zM475.5 227.5h1v1h-1zM482.5 236.5h1v1h-1zM481.5 229h1v1h-1zM472.5 223.5h1v1h-1zM478 232.5h1v1h-1zM479 223h1v1h-1zM471.5 231.5h1v1h-1zM473 232.5h1v1h-1zM479 231h1v1h-1zM477 239.5h1v1h-1zM481 230h1v1h-1zM473.5 234h1v1h-1zM476.5 238h1v1h-1zM474.5 224.5h1v1h-1zM477.5 242.5h1v1h-1zM482 230h1v1h-1zM475.5 240h1v1h-1zM479.5 228h1v1h-1zM477.5 234h1v1h-1zM476.5 233.5h1v1h-1zM478.5 230.5h1v1h-1zM475 241.5h1v1h-1zM478.5 228h1v1h-1zM473.5 238h1v1h-1zM473 233.5h1v1h-1zM480.5 223h1v1h-1zM471.5 238h1v1h-1zM477.5 226h1v1h-1zM487.5 228h1v1h-1zM472.5 239.5h1v1h-1zM477.5 239.5h1v1h-1zM472 231.5h1v1h-1zM478 239h1v1h-1zM478.5 225h1v1h-1zM478.5 229h1v1h-1zM473 226h1v1h-1zM476.5 221.5h1v1h-1zM473 238h1v1h-1zM478 231.5h1v1h-1zM471.5 236.5h1v1h-1zM480.5 231h1v1h-1zM480.5 232h1v1h-1zM474.5 237h1v1h-1zM476.5 239h1v1h-1zM470 239.5h1v1h-1zM474 226h1v1h-1zM478 233h1v1h-1zM472.5 233h1v1h-1zM483 228h1v1h-1zM477 236h1v1h-1zM477 229.5h1v1h-1zM469.5 225.5h1v1h-1zM475 228.5h1v1h-1zM473.5 235h1v1h-1zM476 228.5h1v1h-1zM476 235.5h1v1h-1zM475.5 236h1v1h-1zM478.5 233h1v1h-1zM483.5 229h1v1h-1zM477.5 227.5h1v1h-1zM473.5 233.5h1v1h-1zM472 229h1v1h-1zM476 238.5h1v1h-1zM473.5 237h1v1h-1zM482 230.5h1v1h-1zM475.5 228h1v1h-1zM479.5 237h1v1h-1zM480 227.5h1v1h-1zM472.5 241.5h1v1h-1zM481 223h1v1h-1zM478.5 232.5h1v1h-1zM476 229h1v1h-1zM470.5 233.5h1v1h-1zM475 225h1v1h-1zM473.5 233h1v1h-1zM476 238h1v1h-1zM472 238h1v1h-1zM471 237h1v1h-1zM472.5 230.5h1v1h-1zM478 230h1v1h-1zM478 229.5h1v1h-1zM476.5 232.5h1v1h-1zM476.5 235.5h1v1h-1zM474.5 231.5h1v1h-1zM473.5 225.5h1v1h-1zM478 232h1v1h-1zM478.5 235h1v1h-1zM475 235.5h1v1h-1zM478 231h1v1h-1zM476.5 233h1v1h-1zM473 238.5h1v1h-1zM472.5 234.5h1v1h-1zM481 232.5h1v1h-1zM475 237h1v1h-1zM479 232.5h1v1h-1zM475.5 231h1v1h-1zM481.5 229.5h1v1h-1zM470 231.5h1v1h-1zM479.5 224.5h1v1h-1zM479.5 235h1v1h-1zM474.5 226h1v1h-1z" fill="#000"/>
<rect x="438.6" y="185.4" width="76.9" height="60.2" fill="none" stroke="#888" stroke-width="1.4"/>
<line x1="438.6" y1="185.4" x2="438.6" y2="245.6" stroke="#111" stroke-width="0.9"/>
<line x1="438.6" y1="245.6" x2="515.5" y2="245.6" stroke="#111" stroke-width="0.9"/>
<line x1="466.4" y1="185.4" x2="466.4" y2="245.6" stroke="#222" stroke-width="0.8"/>
<line x1="438.6" y1="221.5" x2="515.5" y2="221.5" stroke="#222" stroke-width="0.8"/>
<text x="438.3" y="253.7" font-size="5.0" text-anchor="middle" fill="#000" stroke="#000" stroke-width="0.08">10</text>
<text x="441.3" y="251.9" font-size="4.2" fill="#000" stroke="#000" stroke-width="0.06">0</text>
<g transform="rotate(-90 431.4 244.4)"><text x="429.9" y="246.3" font-size="5.0" text-anchor="middle" stroke="#000" stroke-width="0.08">10</text><text x="432.7" y="244.5" font-size="4.2" stroke="#000" stroke-width="0.06">0</text></g>
<line x1="438.90000000000003" y1="245.6" x2="438.90000000000003" y2="247.6" stroke="#000" stroke-width="0.6"/>
<line x1="436.6" y1="244.4" x2="438.6" y2="244.4" stroke="#000" stroke-width="0.6"/>
<line x1="444.5744154182661" y1="245.6" x2="444.5744154182661" y2="246.79999999999998" stroke="#000" stroke-width="0.5"/>
<line x1="437.40000000000003" y1="239.91465306460668" x2="438.6" y2="239.91465306460668" stroke="#000" stroke-width="0.5"/>
<line x1="447.89373565146565" y1="245.6" x2="447.89373565146565" y2="246.79999999999998" stroke="#000" stroke-width="0.5"/>
<line x1="437.40000000000003" y1="237.29089330467704" x2="438.6" y2="237.29089330467704" stroke="#000" stroke-width="0.5"/>
<line x1="450.24883083653214" y1="245.6" x2="450.24883083653214" y2="246.79999999999998" stroke="#000" stroke-width="0.5"/>
<line x1="437.40000000000003" y1="235.42930612921336" x2="438.6" y2="235.42930612921336" stroke="#000" stroke-width="0.5"/>
<line x1="452.07558458173395" y1="245.6" x2="452.07558458173395" y2="246.79999999999998" stroke="#000" stroke-width="0.5"/>
<line x1="437.40000000000003" y1="233.98534693539332" x2="438.6" y2="233.98534693539332" stroke="#000" stroke-width="0.5"/>
<line x1="453.5681510697317" y1="245.6" x2="453.5681510697317" y2="246.79999999999998" stroke="#000" stroke-width="0.5"/>
<line x1="437.40000000000003" y1="232.80554636928372" x2="438.6" y2="232.80554636928372" stroke="#000" stroke-width="0.5"/>
<line x1="454.8300980542688" y1="245.6" x2="454.8300980542688" y2="246.79999999999998" stroke="#000" stroke-width="0.5"/>
<line x1="437.40000000000003" y1="231.8080392037876" x2="438.6" y2="231.8080392037876" stroke="#000" stroke-width="0.5"/>
<line x1="455.92324625479813" y1="245.6" x2="455.92324625479813" y2="246.79999999999998" stroke="#000" stroke-width="0.5"/>
<line x1="437.40000000000003" y1="230.94395919382004" x2="438.6" y2="230.94395919382004" stroke="#000" stroke-width="0.5"/>
<line x1="456.8874713029313" y1="245.6" x2="456.8874713029313" y2="246.79999999999998" stroke="#000" stroke-width="0.5"/>
<line x1="437.40000000000003" y1="230.18178660935408" x2="438.6" y2="230.18178660935408" stroke="#000" stroke-width="0.5"/>
<text x="457.15" y="253.7" font-size="5.0" text-anchor="middle" fill="#000" stroke="#000" stroke-width="0.08">10</text>
<text x="460.15" y="251.9" font-size="4.2" fill="#000" stroke="#000" stroke-width="0.06">1</text>
<g transform="rotate(-90 431.4 229.5)"><text x="429.9" y="231.4" font-size="5.0" text-anchor="middle" stroke="#000" stroke-width="0.08">10</text><text x="432.7" y="229.6" font-size="4.2" stroke="#000" stroke-width="0.06">1</text></g>
<line x1="457.75" y1="245.6" x2="457.75" y2="247.6" stroke="#000" stroke-width="0.6"/>
<line x1="436.6" y1="229.5" x2="438.6" y2="229.5" stroke="#000" stroke-width="0.6"/>
<line x1="463.42441541826605" y1="245.6" x2="463.42441541826605" y2="246.79999999999998" stroke="#000" stroke-width="0.5"/>
<line x1="437.40000000000003" y1="225.01465306460668" x2="438.6" y2="225.01465306460668" stroke="#000" stroke-width="0.5"/>
<line x1="466.7437356514656" y1="245.6" x2="466.7437356514656" y2="246.79999999999998" stroke="#000" stroke-width="0.5"/>
<line x1="437.40000000000003" y1="222.39089330467704" x2="438.6" y2="222.39089330467704" stroke="#000" stroke-width="0.5"/>
<line x1="469.0988308365321" y1="245.6" x2="469.0988308365321" y2="246.79999999999998" stroke="#000" stroke-width="0.5"/>
<line x1="437.40000000000003" y1="220.52930612921335" x2="438.6" y2="220.52930612921335" stroke="#000" stroke-width="0.5"/>
<line x1="470.925584581734" y1="245.6" x2="470.925584581734" y2="246.79999999999998" stroke="#000" stroke-width="0.5"/>
<line x1="437.40000000000003" y1="219.08534693539332" x2="438.6" y2="219.08534693539332" stroke="#000" stroke-width="0.5"/>
<line x1="472.41815106973166" y1="245.6" x2="472.41815106973166" y2="246.79999999999998" stroke="#000" stroke-width="0.5"/>
<line x1="437.40000000000003" y1="217.9055463692837" x2="438.6" y2="217.9055463692837" stroke="#000" stroke-width="0.5"/>
<line x1="473.68009805426874" y1="245.6" x2="473.68009805426874" y2="246.79999999999998" stroke="#000" stroke-width="0.5"/>
<line x1="437.40000000000003" y1="216.90803920378758" x2="438.6" y2="216.90803920378758" stroke="#000" stroke-width="0.5"/>
<line x1="474.77324625479815" y1="245.6" x2="474.77324625479815" y2="246.79999999999998" stroke="#000" stroke-width="0.5"/>
<line x1="437.40000000000003" y1="216.04395919382006" x2="438.6" y2="216.04395919382006" stroke="#000" stroke-width="0.5"/>
<line x1="475.7374713029313" y1="245.6" x2="475.7374713029313" y2="246.79999999999998" stroke="#000" stroke-width="0.5"/>
<line x1="437.40000000000003" y1="215.28178660935407" x2="438.6" y2="215.28178660935407" stroke="#000" stroke-width="0.5"/>
<text x="476" y="253.7" font-size="5.0" text-anchor="middle" fill="#000" stroke="#000" stroke-width="0.08">10</text>
<text x="479" y="251.9" font-size="4.2" fill="#000" stroke="#000" stroke-width="0.06">2</text>
<g transform="rotate(-90 431.4 214.6)"><text x="429.9" y="216.5" font-size="5.0" text-anchor="middle" stroke="#000" stroke-width="0.08">10</text><text x="432.7" y="214.7" font-size="4.2" stroke="#000" stroke-width="0.06">2</text></g>
<line x1="476.6" y1="245.6" x2="476.6" y2="247.6" stroke="#000" stroke-width="0.6"/>
<line x1="436.6" y1="214.60000000000002" x2="438.6" y2="214.60000000000002" stroke="#000" stroke-width="0.6"/>
<line x1="482.274415418266" y1="245.6" x2="482.274415418266" y2="246.79999999999998" stroke="#000" stroke-width="0.5"/>
<line x1="437.40000000000003" y1="210.11465306460667" x2="438.6" y2="210.11465306460667" stroke="#000" stroke-width="0.5"/>
<line x1="485.59373565146564" y1="245.6" x2="485.59373565146564" y2="246.79999999999998" stroke="#000" stroke-width="0.5"/>
<line x1="437.40000000000003" y1="207.49089330467703" x2="438.6" y2="207.49089330467703" stroke="#000" stroke-width="0.5"/>
<line x1="487.94883083653207" y1="245.6" x2="487.94883083653207" y2="246.79999999999998" stroke="#000" stroke-width="0.5"/>
<line x1="437.40000000000003" y1="205.62930612921338" x2="438.6" y2="205.62930612921338" stroke="#000" stroke-width="0.5"/>
<line x1="489.77558458173394" y1="245.6" x2="489.77558458173394" y2="246.79999999999998" stroke="#000" stroke-width="0.5"/>
<line x1="437.40000000000003" y1="204.18534693539334" x2="438.6" y2="204.18534693539334" stroke="#000" stroke-width="0.5"/>
<line x1="491.2681510697317" y1="245.6" x2="491.2681510697317" y2="246.79999999999998" stroke="#000" stroke-width="0.5"/>
<line x1="437.40000000000003" y1="203.0055463692837" x2="438.6" y2="203.0055463692837" stroke="#000" stroke-width="0.5"/>
<line x1="492.5300980542687" y1="245.6" x2="492.5300980542687" y2="246.79999999999998" stroke="#000" stroke-width="0.5"/>
<line x1="437.40000000000003" y1="202.00803920378758" x2="438.6" y2="202.00803920378758" stroke="#000" stroke-width="0.5"/>
<line x1="493.6232462547981" y1="245.6" x2="493.6232462547981" y2="246.79999999999998" stroke="#000" stroke-width="0.5"/>
<line x1="437.40000000000003" y1="201.14395919382005" x2="438.6" y2="201.14395919382005" stroke="#000" stroke-width="0.5"/>
<line x1="494.58747130293125" y1="245.6" x2="494.58747130293125" y2="246.79999999999998" stroke="#000" stroke-width="0.5"/>
<line x1="437.40000000000003" y1="200.38178660935407" x2="438.6" y2="200.38178660935407" stroke="#000" stroke-width="0.5"/>
<text x="494.85" y="253.7" font-size="5.0" text-anchor="middle" fill="#000" stroke="#000" stroke-width="0.08">10</text>
<text x="497.85" y="251.9" font-size="4.2" fill="#000" stroke="#000" stroke-width="0.06">3</text>
<g transform="rotate(-90 431.4 199.7)"><text x="429.9" y="201.6" font-size="5.0" text-anchor="middle" stroke="#000" stroke-width="0.08">10</text><text x="432.7" y="199.8" font-size="4.2" stroke="#000" stroke-width="0.06">3</text></g>
<line x1="495.45" y1="245.6" x2="495.45" y2="247.6" stroke="#000" stroke-width="0.6"/>
<line x1="436.6" y1="199.70000000000002" x2="438.6" y2="199.70000000000002" stroke="#000" stroke-width="0.6"/>
<line x1="501.12441541826604" y1="245.6" x2="501.12441541826604" y2="246.79999999999998" stroke="#000" stroke-width="0.5"/>
<line x1="437.40000000000003" y1="195.2146530646067" x2="438.6" y2="195.2146530646067" stroke="#000" stroke-width="0.5"/>
<line x1="504.4437356514656" y1="245.6" x2="504.4437356514656" y2="246.79999999999998" stroke="#000" stroke-width="0.5"/>
<line x1="437.40000000000003" y1="192.59089330467702" x2="438.6" y2="192.59089330467702" stroke="#000" stroke-width="0.5"/>
<line x1="506.79883083653203" y1="245.6" x2="506.79883083653203" y2="246.79999999999998" stroke="#000" stroke-width="0.5"/>
<line x1="437.40000000000003" y1="190.72930612921337" x2="438.6" y2="190.72930612921337" stroke="#000" stroke-width="0.5"/>
<line x1="508.6255845817339" y1="245.6" x2="508.6255845817339" y2="246.79999999999998" stroke="#000" stroke-width="0.5"/>
<line x1="437.40000000000003" y1="189.28534693539333" x2="438.6" y2="189.28534693539333" stroke="#000" stroke-width="0.5"/>
<line x1="510.11815106973165" y1="245.6" x2="510.11815106973165" y2="246.79999999999998" stroke="#000" stroke-width="0.5"/>
<line x1="437.40000000000003" y1="188.10554636928373" x2="438.6" y2="188.10554636928373" stroke="#000" stroke-width="0.5"/>
<line x1="511.38009805426873" y1="245.6" x2="511.38009805426873" y2="246.79999999999998" stroke="#000" stroke-width="0.5"/>
<line x1="437.40000000000003" y1="187.1080392037876" x2="438.6" y2="187.1080392037876" stroke="#000" stroke-width="0.5"/>
<line x1="512.4732462547981" y1="245.6" x2="512.4732462547981" y2="246.79999999999998" stroke="#000" stroke-width="0.5"/>
<line x1="437.40000000000003" y1="186.24395919382005" x2="438.6" y2="186.24395919382005" stroke="#000" stroke-width="0.5"/>
<line x1="513.4374713029313" y1="245.6" x2="513.4374713029313" y2="246.79999999999998" stroke="#000" stroke-width="0.5"/>
<line x1="437.40000000000003" y1="185.48178660935406" x2="438.6" y2="185.48178660935406" stroke="#000" stroke-width="0.5"/>
<text x="513.7" y="253.7" font-size="5.0" text-anchor="middle" fill="#000" stroke="#000" stroke-width="0.08">10</text>
<text x="516.7" y="251.9" font-size="4.2" fill="#000" stroke="#000" stroke-width="0.06">4</text>
<g transform="rotate(-90 431.4 184.8)"><text x="429.9" y="186.7" font-size="5.0" text-anchor="middle" stroke="#000" stroke-width="0.08">10</text><text x="432.7" y="184.9" font-size="4.2" stroke="#000" stroke-width="0.06">4</text></g>
<line x1="514.3" y1="245.6" x2="514.3" y2="247.6" stroke="#000" stroke-width="0.6"/>
<line x1="436.6" y1="184.8" x2="438.6" y2="184.8" stroke="#000" stroke-width="0.6"/>
</svg></body></html>
